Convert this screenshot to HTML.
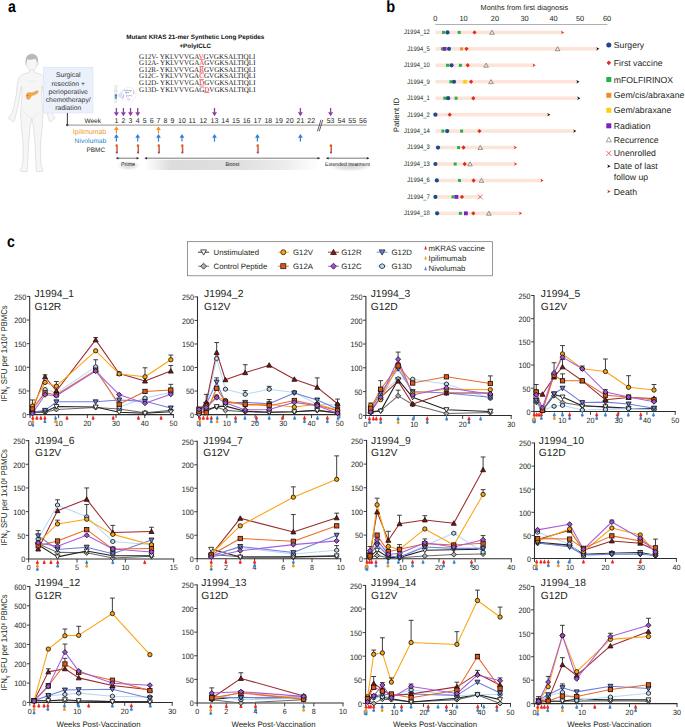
<!DOCTYPE html><html><head><meta charset="utf-8"><style>html,body{margin:0;padding:0;background:#fff;}svg{display:block;}</style></head><body>
<svg width="685" height="727" viewBox="0 0 685 727">
<style>text{font-family:"Liberation Sans",sans-serif;text-rendering:geometricPrecision}text:not([fill]){fill:#231f20}.sf{font-family:"Liberation Serif",serif}</style>
<rect width="685" height="727" fill="#fff"/>
<text transform="translate(8.1,11.5) scale(0.87,1)" font-size="16.2" font-weight="bold" fill="#000">a</text>
<path d="M29.6,69.5 L28.8,72.6 L22.5,74.4 L19,77.2 L17.4,83.5 L16.2,95.5 L13.6,107.5 L12,113.2 L9,116.8 L8.6,118.6 L10.6,119.4 L12.2,121.6 L14.2,121.2 L15.4,117.5 L16.2,113.5 L18.6,103.5 L20.3,92.5 L21.6,86 L22,95 L21.2,104.5 L20.6,112.5 L21.4,128 L23,141.5 L23,158.5 L22.6,165.5 L20.4,169.8 L21,171.4 L27,171.6 L27.6,166 L28.4,146 L30.2,126 L31.8,118.5 L33.4,126 L35.2,146 L36,166 L36.6,171.6 L42.6,171.4 L43.2,169.8 L41,165.5 L40.6,158.5 L40.6,141.5 L42.2,128 L43,112.5 L42.4,104.5 L41.6,95 L42,86 L43.3,92.5 L45,103.5 L47.4,113.5 L48.2,117.5 L49.4,121.2 L51.4,121.6 L53,119.4 L55,118.6 L54.6,116.8 L51.6,113.2 L50,107.5 L47.4,95.5 L46.2,83.5 L44.6,77.2 L41.1,74.4 L34.8,72.6 L34,69.5Z" fill="#f6f6f6" stroke="#cbcbcb" stroke-width="0.5" stroke-linejoin="round"/>
<ellipse cx="31.8" cy="62.6" rx="5.7" ry="7.6" fill="#f6f6f6" stroke="#cdcdcd" stroke-width="0.5"/>
<path d="M26.0,63.5 C25.2,56.5 28.0,54.2 31.8,54.2 C35.8,54.2 38.6,56.6 37.6,63.5 C37.0,60.0 36.2,58.8 34.5,58.4 C32.5,59.6 29.5,59.8 27.4,59.0 C26.6,60.2 26.2,61.5 26.0,63.5Z" fill="#b9b9b9" stroke="#a9a9a9" stroke-width="0.4"/>
<ellipse cx="26.1" cy="63.8" rx="0.8" ry="1.5" fill="#ececec" stroke="#cdcdcd" stroke-width="0.3"/>
<ellipse cx="37.5" cy="63.8" rx="0.8" ry="1.5" fill="#ececec" stroke="#cdcdcd" stroke-width="0.3"/>
<path d="M27,80.5 Q29,82 31.8,81.8 M36.6,80.5 Q34.6,82 31.8,81.8 M22.5,110 Q27,116 31.8,118.5 M41.1,110 Q36.6,116 31.8,118.5" fill="none" stroke="#dadada" stroke-width="0.4"/>
<path d="M26.2,96.5 C25.6,93.4 27.6,91.8 30.0,92.6 C32.4,93.2 34.6,91.6 36.6,90.8 C38.6,90.0 39.0,92.0 37.6,93.2 C35.6,94.8 33.0,95.4 31.4,96.0 C30.6,97.6 29.8,99.8 28.0,99.6 C26.8,99.4 26.4,98.0 26.2,96.5Z" fill="#f2a84e" stroke="#e6963c" stroke-width="0.3"/>
<circle cx="27.8" cy="95.6" r="0.7" fill="#c0392b"/>
<rect x="43.4" y="67.2" width="49.6" height="45.8" fill="#eaf1fb" stroke="#d3def0" stroke-width="0.5"/>
<text x="68.2" y="77.4" font-size="6.8" text-anchor="middle" fill="#333">Surgical</text>
<text x="68.2" y="85.5" font-size="6.8" text-anchor="middle" fill="#333">resection +</text>
<text x="68.2" y="93.6" font-size="6.8" text-anchor="middle" fill="#333">perioperative</text>
<text x="68.2" y="101.7" font-size="6.8" text-anchor="middle" fill="#333">chemotherapy/</text>
<text x="68.2" y="109.8" font-size="6.8" text-anchor="middle" fill="#333">radiation</text>
<path d="M67.4,113V124.9" stroke="#231f20" stroke-width="0.9"/>
<circle cx="67.4" cy="125" r="1.25" fill="#231f20"/>
<path d="M67.4,125.1H366.6" stroke="#a8a8a8" stroke-width="1.4"/>
<path d="M317.4,131.5L321.0,119.8M319.3,131.2L322.8,119.9" stroke="#2e2e2e" stroke-width="0.75"/>
<text x="100.9" y="123" font-size="6.5" text-anchor="end">Week</text>
<text x="106.2" y="134.4" font-size="6.9" text-anchor="end" fill="#f0932b">Ipilimumab</text>
<text x="106.2" y="143.1" font-size="6.7" text-anchor="end" fill="#2f7fd0">Nivolumab</text>
<text x="105" y="151.8" font-size="6.4" text-anchor="end">PBMC</text>
<text x="116.4" y="123" font-size="7" text-anchor="middle">1</text>
<text x="123.4" y="123" font-size="7" text-anchor="middle">2</text>
<text x="130.5" y="123" font-size="7" text-anchor="middle">3</text>
<text x="137.7" y="123" font-size="7" text-anchor="middle">4</text>
<text x="144.6" y="123" font-size="7" text-anchor="middle">5</text>
<text x="151.6" y="123" font-size="7" text-anchor="middle">6</text>
<text x="158.5" y="123" font-size="7" text-anchor="middle">7</text>
<text x="165.5" y="123" font-size="7" text-anchor="middle">8</text>
<text x="172.4" y="123" font-size="7" text-anchor="middle">9</text>
<text x="182" y="123" font-size="7" text-anchor="middle">10</text>
<text x="192.2" y="123" font-size="7" text-anchor="middle">11</text>
<text x="203.3" y="123" font-size="7" text-anchor="middle">12</text>
<text x="214.5" y="123" font-size="7" text-anchor="middle">13</text>
<text x="225.2" y="123" font-size="7" text-anchor="middle">14</text>
<text x="236" y="123" font-size="7" text-anchor="middle">15</text>
<text x="246.6" y="123" font-size="7" text-anchor="middle">16</text>
<text x="257.4" y="123" font-size="7" text-anchor="middle">17</text>
<text x="268.3" y="123" font-size="7" text-anchor="middle">18</text>
<text x="278.9" y="123" font-size="7" text-anchor="middle">19</text>
<text x="289.7" y="123" font-size="7" text-anchor="middle">20</text>
<text x="300.4" y="123" font-size="7" text-anchor="middle">21</text>
<text x="311.2" y="123" font-size="7" text-anchor="middle">22</text>
<text x="330.6" y="123" font-size="7" text-anchor="middle">53</text>
<text x="341.5" y="123" font-size="7" text-anchor="middle">54</text>
<text x="352.2" y="123" font-size="7" text-anchor="middle">55</text>
<text x="363" y="123" font-size="7" text-anchor="middle">56</text>
<path d="M116.4,107.9V112.8" stroke="#8e3c9f" stroke-width="1.3"/>
<path d="M113.9,112.3L118.9,112.3L116.4,116.3Z" fill="#8e3c9f"/>
<path d="M123.4,107.9V112.8" stroke="#8e3c9f" stroke-width="1.3"/>
<path d="M120.9,112.3L125.9,112.3L123.4,116.3Z" fill="#8e3c9f"/>
<path d="M130.5,107.9V112.8" stroke="#8e3c9f" stroke-width="1.3"/>
<path d="M128,112.3L133,112.3L130.5,116.3Z" fill="#8e3c9f"/>
<path d="M137.7,107.9V112.8" stroke="#8e3c9f" stroke-width="1.3"/>
<path d="M135.2,112.3L140.2,112.3L137.7,116.3Z" fill="#8e3c9f"/>
<path d="M214.5,107.9V112.8" stroke="#8e3c9f" stroke-width="1.3"/>
<path d="M212,112.3L217,112.3L214.5,116.3Z" fill="#8e3c9f"/>
<path d="M300.4,107.9V112.8" stroke="#8e3c9f" stroke-width="1.3"/>
<path d="M297.9,112.3L302.9,112.3L300.4,116.3Z" fill="#8e3c9f"/>
<path d="M330.6,107.9V112.8" stroke="#8e3c9f" stroke-width="1.3"/>
<path d="M328.1,112.3L333.1,112.3L330.6,116.3Z" fill="#8e3c9f"/>
<path d="M116.4,133.4V129.4" stroke="#f0932b" stroke-width="1.2"/>
<path d="M114,129.9L118.8,129.9L116.4,126.3Z" fill="#f0932b"/>
<path d="M158.5,133.4V129.4" stroke="#f0932b" stroke-width="1.2"/>
<path d="M156.1,129.9L160.9,129.9L158.5,126.3Z" fill="#f0932b"/>
<path d="M116.4,141.6V137.2" stroke="#2f7fd0" stroke-width="1.2"/>
<path d="M114,137.7L118.8,137.7L116.4,133.9Z" fill="#2f7fd0"/>
<path d="M137.7,141.6V137.2" stroke="#2f7fd0" stroke-width="1.2"/>
<path d="M135.3,137.7L140.1,137.7L137.7,133.9Z" fill="#2f7fd0"/>
<path d="M158.5,141.6V137.2" stroke="#2f7fd0" stroke-width="1.2"/>
<path d="M156.1,137.7L160.9,137.7L158.5,133.9Z" fill="#2f7fd0"/>
<path d="M182,141.6V137.2" stroke="#2f7fd0" stroke-width="1.2"/>
<path d="M179.6,137.7L184.4,137.7L182,133.9Z" fill="#2f7fd0"/>
<path d="M214.5,141.6V137.2" stroke="#2f7fd0" stroke-width="1.2"/>
<path d="M212.1,137.7L216.9,137.7L214.5,133.9Z" fill="#2f7fd0"/>
<path d="M257.4,141.6V137.2" stroke="#2f7fd0" stroke-width="1.2"/>
<path d="M255,137.7L259.8,137.7L257.4,133.9Z" fill="#2f7fd0"/>
<path d="M300.4,141.6V137.2" stroke="#2f7fd0" stroke-width="1.2"/>
<path d="M298,137.7L302.8,137.7L300.4,133.9Z" fill="#2f7fd0"/>
<rect x="115.7" y="147" width="2.0" height="6.3" rx="0.9" fill="#ecd3d3"/>
<rect x="116.5" y="147" width="1.2" height="6.3" rx="0.5" fill="#b95258"/>
<rect x="115.7" y="151.6" width="2.0" height="1.8" rx="0.9" fill="#b5484f"/>
<rect x="115.55" y="144.3" width="2.3" height="2.9" rx="1.0" fill="#e2601c"/>
<rect x="137" y="147" width="2.0" height="6.3" rx="0.9" fill="#ecd3d3"/>
<rect x="137.8" y="147" width="1.2" height="6.3" rx="0.5" fill="#b95258"/>
<rect x="137" y="151.6" width="2.0" height="1.8" rx="0.9" fill="#b5484f"/>
<rect x="136.85" y="144.3" width="2.3" height="2.9" rx="1.0" fill="#e2601c"/>
<rect x="157.8" y="147" width="2.0" height="6.3" rx="0.9" fill="#ecd3d3"/>
<rect x="158.6" y="147" width="1.2" height="6.3" rx="0.5" fill="#b95258"/>
<rect x="157.8" y="151.6" width="2.0" height="1.8" rx="0.9" fill="#b5484f"/>
<rect x="157.65" y="144.3" width="2.3" height="2.9" rx="1.0" fill="#e2601c"/>
<rect x="181.3" y="147" width="2.0" height="6.3" rx="0.9" fill="#ecd3d3"/>
<rect x="182.1" y="147" width="1.2" height="6.3" rx="0.5" fill="#b95258"/>
<rect x="181.3" y="151.6" width="2.0" height="1.8" rx="0.9" fill="#b5484f"/>
<rect x="181.15" y="144.3" width="2.3" height="2.9" rx="1.0" fill="#e2601c"/>
<rect x="256.7" y="147" width="2.0" height="6.3" rx="0.9" fill="#ecd3d3"/>
<rect x="257.5" y="147" width="1.2" height="6.3" rx="0.5" fill="#b95258"/>
<rect x="256.7" y="151.6" width="2.0" height="1.8" rx="0.9" fill="#b5484f"/>
<rect x="256.55" y="144.3" width="2.3" height="2.9" rx="1.0" fill="#e2601c"/>
<rect x="329.9" y="147" width="2.0" height="6.3" rx="0.9" fill="#ecd3d3"/>
<rect x="330.7" y="147" width="1.2" height="6.3" rx="0.5" fill="#b95258"/>
<rect x="329.9" y="151.6" width="2.0" height="1.8" rx="0.9" fill="#b5484f"/>
<rect x="329.75" y="144.3" width="2.3" height="2.9" rx="1.0" fill="#e2601c"/>
<defs><linearGradient id="gb" x1="0" x2="1" y1="0" y2="0"><stop offset="0" stop-color="#fff"/><stop offset="0.15" stop-color="#dcdcdc"/><stop offset="0.55" stop-color="#e0e0e0"/><stop offset="0.8" stop-color="#ececec"/><stop offset="1" stop-color="#fff"/></linearGradient><radialGradient id="gp" cx="0.5" cy="0.5" r="0.5"><stop offset="0" stop-color="#d8d8d8"/><stop offset="0.6" stop-color="#ebebeb"/><stop offset="1" stop-color="#fff" stop-opacity="0"/></radialGradient></defs>
<ellipse cx="128.5" cy="165.5" rx="13" ry="5.5" fill="url(#gp)"/>
<rect x="145" y="159.8" width="174" height="10.2" fill="url(#gb)"/>
<ellipse cx="350" cy="166.5" rx="24" ry="5.5" fill="url(#gp)"/>
<path d="M116.2,158.2H138.8" stroke="#231f20" stroke-width="0.6"/>
<path d="M116.2,158.2L118.4,157L118.4,159.4Z" fill="#231f20"/>
<path d="M138.8,158.2L136.6,157L136.6,159.4Z" fill="#231f20"/>
<path d="M144.8,158.2H319.8" stroke="#231f20" stroke-width="0.6"/>
<path d="M144.8,158.2L147,157L147,159.4Z" fill="#231f20"/>
<path d="M319.8,158.2L317.6,157L317.6,159.4Z" fill="#231f20"/>
<path d="M326.3,158.2H369" stroke="#231f20" stroke-width="0.6"/>
<path d="M326.3,158.2L328.5,157L328.5,159.4Z" fill="#231f20"/>
<path d="M369,158.2L366.8,157L366.8,159.4Z" fill="#231f20"/>
<text x="128" y="165.8" font-size="5.4" text-anchor="middle" fill="#222">Prime</text>
<text x="232.5" y="165.8" font-size="5.4" text-anchor="middle" fill="#222">Boost</text>
<text x="347.5" y="165.8" font-size="5.2" text-anchor="middle" fill="#222" textLength="45" lengthAdjust="spacingAndGlyphs">Extended treatment</text>
<text x="195.3" y="39.3" font-size="6.32" text-anchor="middle" fill="#111" font-weight="bold">Mutant KRAS 21-mer Synthetic Long Peptides</text>
<text x="195.3" y="48.1" font-size="6.32" text-anchor="middle" fill="#111" font-weight="bold">+PolyICLC</text>
<text x="139.1" y="58.8" font-size="7.2" class="sf" fill="#1a1a1a" text-rendering="geometricPrecision" textLength="116.4" lengthAdjust="spacingAndGlyphs">G12V- YKLVVVGA<tspan fill="#e8201f">V</tspan>GVGKSALTIQLI</text>
<rect x="199.38" y="59.5" width="5.14" height="0.55" fill="#e8201f"/>
<text x="139.1" y="65.36" font-size="7.2" class="sf" fill="#1a1a1a" text-rendering="geometricPrecision" textLength="116.4" lengthAdjust="spacingAndGlyphs">G12A- YKLVVVGA<tspan fill="#e8201f">A</tspan>GVGKSALTIQLI</text>
<rect x="199.22" y="66.06" width="5.07" height="0.55" fill="#e8201f"/>
<text x="139.1" y="71.92" font-size="7.2" class="sf" fill="#1a1a1a" text-rendering="geometricPrecision" textLength="116.4" lengthAdjust="spacingAndGlyphs">G12R- YKLVVVGA<tspan fill="#e8201f">R</tspan>GVGKSALTIQLI</text>
<rect x="199.23" y="72.62" width="4.71" height="0.55" fill="#e8201f"/>
<text x="139.1" y="78.48" font-size="7.2" class="sf" fill="#1a1a1a" text-rendering="geometricPrecision" textLength="116.4" lengthAdjust="spacingAndGlyphs">G12C- YKLVVVGA<tspan fill="#e8201f">C</tspan>GVGKSALTIQLI</text>
<rect x="199.23" y="79.18" width="4.71" height="0.55" fill="#e8201f"/>
<text x="139.1" y="85.04" font-size="7.2" class="sf" fill="#1a1a1a" text-rendering="geometricPrecision" textLength="116.4" lengthAdjust="spacingAndGlyphs">G12D- YKLVVVGA<tspan fill="#e8201f">D</tspan>GVGKSALTIQLI</text>
<rect x="199.22" y="85.74" width="5.07" height="0.55" fill="#e8201f"/>
<text x="139.1" y="91.6" font-size="7.2" class="sf" fill="#1a1a1a" text-rendering="geometricPrecision" textLength="116.4" lengthAdjust="spacingAndGlyphs">G13D- YKLVVVGAG<tspan fill="#e8201f">D</tspan>VGKSALTIQLI</text>
<rect x="204.29" y="92.3" width="5.07" height="0.55" fill="#e8201f"/>
<path d="M117.2,95.5L123.5,89.5L123.5,100.5Z" fill="#dfe6f3"/>
<rect x="114.8" y="85.6" width="2.2" height="17" fill="#ededed" stroke="#d6d6d6" stroke-width="0.3"/>
<rect x="114.8" y="94.8" width="2.2" height="4.0" fill="#5b9bd0"/><rect x="114.8" y="94.6" width="2.2" height="0.7" fill="#2d4e74"/>
<path d="M114.2,90.6H117.6" stroke="#cfcfcf" stroke-width="0.5"/>
<circle cx="129.0" cy="94.5" r="7.0" fill="#fff" stroke="#c9d2e3" stroke-width="0.6" stroke-dasharray="0.8,0.6"/>
<path d="M123.6,90.5q0.8,-0.8 1.6,0t1.6,0t1.6,0" fill="none" stroke="#3d78c4" stroke-width="0.6"/>
<path d="M128.7,91.0q0.7,-1 1.4,0t1.4,-1" fill="none" stroke="#c43c4c" stroke-width="0.6"/>
<path d="M125.2,92.6q0.9,0.8 1.8,0t1.8,0" fill="none" stroke="#3359a8" stroke-width="0.6"/>
<path d="M133.6,90.5q-0.6,0.9 0,1.8t0,1.8" fill="none" stroke="#a96fc4" stroke-width="0.6"/>
<path d="M123.4,94.3q0.6,0.9 0,1.8t0,1.8" fill="none" stroke="#e5569a" stroke-width="0.6"/>
<path d="M126.6,95.0v2.2M127.6,95.6q0.8,0.8 1.6,0t1.6,0t1.6,0" fill="none" stroke="#4b8fb4" stroke-width="0.55"/>
<path d="M127.0,99.0q0.8,-0.8 1.6,0t1.6,0" fill="none" stroke="#b86ab8" stroke-width="0.6"/>
<text transform="translate(386.3,11.6) scale(0.9,1)" font-size="16.2" font-weight="bold" fill="#000">b</text>
<text x="480.6" y="9.8" font-size="7.34">Months from first diagnosis</text>
<text x="435.3" y="20.7" font-size="7.4" text-anchor="middle">0</text>
<text x="463.5" y="20.7" font-size="7.4" text-anchor="middle">10</text>
<text x="494.9" y="20.7" font-size="7.4" text-anchor="middle">20</text>
<text x="524.6" y="20.7" font-size="7.4" text-anchor="middle">30</text>
<text x="553.6" y="20.7" font-size="7.4" text-anchor="middle">40</text>
<text x="580.1" y="20.7" font-size="7.4" text-anchor="middle">50</text>
<text x="607.1" y="20.7" font-size="7.4" text-anchor="middle">60</text>
<path d="M435.4,24.5H607.4" stroke="#a0a0a0" stroke-width="0.85"/>
<text transform="translate(398.9,115) rotate(-90)" font-size="7.9" text-anchor="middle">Patient ID</text>
<rect x="435.4" y="30.6" width="127.1" height="3.6" fill="#fde4d9"/>
<text x="429.8" y="34.3" font-size="6.5" text-anchor="end" textLength="25.92" lengthAdjust="spacingAndGlyphs">J1994_12</text>
<rect x="442" y="30.9" width="3" height="3" fill="#22b14c"/>
<circle cx="447.5" cy="32.4" r="2.1" fill="#1f4a8a"/>
<rect x="457.7" y="30.9" width="3" height="3" fill="#22b14c"/>
<path d="M474.5,30.2L476.6,32.4L474.5,34.6L472.4,32.4Z" fill="#e32a1f"/>
<path d="M492,30.2L494.3,34.3L489.7,34.3Z" fill="none" stroke="#555" stroke-width="0.6"/>
<path d="M564.2,32.4L561,30.7L561.9,32.4L561,34.1Z" fill="#e32a1f"/>
<rect x="435.4" y="47.05" width="162.3" height="3.6" fill="#fde4d9"/>
<text x="429.8" y="50.75" font-size="6.5" text-anchor="end" textLength="22.64" lengthAdjust="spacingAndGlyphs">J1994_5</text>
<rect x="440.9" y="47.35" width="3" height="3" fill="#22b14c"/>
<rect x="442.7" y="46.95" width="3.8" height="3.8" fill="#7a1fc2"/>
<circle cx="449" cy="48.85" r="2.1" fill="#1f4a8a"/>
<rect x="460.1" y="47.35" width="3" height="3" fill="#f08a2c"/>
<path d="M466.5,46.65L468.6,48.85L466.5,51.05L464.4,48.85Z" fill="#e32a1f"/>
<path d="M557.6,46.65L559.9,50.75L555.3,50.75Z" fill="none" stroke="#555" stroke-width="0.6"/>
<path d="M599.4,48.85L596.2,47.15L597.1,48.85L596.2,50.55Z" fill="#111"/>
<rect x="435.4" y="63.5" width="98.6" height="3.6" fill="#fde4d9"/>
<text x="429.8" y="67.2" font-size="6.5" text-anchor="end" textLength="25.92" lengthAdjust="spacingAndGlyphs">J1994_10</text>
<rect x="446" y="63.8" width="3" height="3" fill="#22b14c"/>
<circle cx="451.5" cy="65.3" r="2.1" fill="#1f4a8a"/>
<rect x="458.9" y="63.8" width="3" height="3" fill="#22b14c"/>
<path d="M467.7,63.1L469.8,65.3L467.7,67.5L465.6,65.3Z" fill="#e32a1f"/>
<path d="M486.1,63.1L488.4,67.2L483.8,67.2Z" fill="none" stroke="#555" stroke-width="0.6"/>
<path d="M535.7,65.3L532.5,63.6L533.4,65.3L532.5,67Z" fill="#e32a1f"/>
<rect x="435.4" y="79.95" width="142.4" height="3.6" fill="#fde4d9"/>
<text x="429.8" y="83.65" font-size="6.5" text-anchor="end" textLength="22.64" lengthAdjust="spacingAndGlyphs">J1994_9</text>
<rect x="449.4" y="80.25" width="3" height="3" fill="#22b14c"/>
<circle cx="454" cy="81.75" r="2.1" fill="#1f4a8a"/>
<rect x="463.1" y="79.85" width="3.8" height="3.8" fill="#ffcc1a"/>
<path d="M471.1,79.55L473.2,81.75L471.1,83.95L469,81.75Z" fill="#e32a1f"/>
<path d="M491,79.55L493.3,83.65L488.7,83.65Z" fill="none" stroke="#555" stroke-width="0.6"/>
<path d="M579.5,81.75L576.3,80.05L577.2,81.75L576.3,83.45Z" fill="#111"/>
<rect x="435.4" y="96.4" width="143.3" height="3.6" fill="#fde4d9"/>
<text x="429.8" y="100.1" font-size="6.5" text-anchor="end" textLength="22.64" lengthAdjust="spacingAndGlyphs">J1994_1</text>
<rect x="443.3" y="96.7" width="3" height="3" fill="#22b14c"/>
<circle cx="448.1" cy="98.2" r="2.1" fill="#1f4a8a"/>
<rect x="454.6" y="96.7" width="3" height="3" fill="#22b14c"/>
<path d="M473.3,96L475.4,98.2L473.3,100.4L471.2,98.2Z" fill="#e32a1f"/>
<path d="M580.4,98.2L577.2,96.5L578.1,98.2L577.2,99.9Z" fill="#111"/>
<rect x="435.4" y="112.85" width="113.3" height="3.6" fill="#fde4d9"/>
<text x="429.8" y="116.55" font-size="6.5" text-anchor="end" textLength="22.64" lengthAdjust="spacingAndGlyphs">J1994_2</text>
<circle cx="435.4" cy="114.65" r="2.1" fill="#1f4a8a"/>
<path d="M449.7,112.45L451.8,114.65L449.7,116.85L447.6,114.65Z" fill="#e32a1f"/>
<path d="M550.4,114.65L547.2,112.95L548.1,114.65L547.2,116.35Z" fill="#111"/>
<rect x="435.4" y="129.3" width="139.3" height="3.6" fill="#fde4d9"/>
<text x="429.8" y="133" font-size="6.5" text-anchor="end" textLength="25.92" lengthAdjust="spacingAndGlyphs">J1994_14</text>
<rect x="441.4" y="129.6" width="3" height="3" fill="#22b14c"/>
<circle cx="447.2" cy="131.1" r="2.1" fill="#1f4a8a"/>
<rect x="460.1" y="129.6" width="3" height="3" fill="#22b14c"/>
<path d="M479.4,128.9L481.5,131.1L479.4,133.3L477.3,131.1Z" fill="#e32a1f"/>
<path d="M576.4,131.1L573.2,129.4L574.1,131.1L573.2,132.8Z" fill="#111"/>
<rect x="435.4" y="145.75" width="79.9" height="3.6" fill="#fde4d9"/>
<text x="429.8" y="149.45" font-size="6.5" text-anchor="end" textLength="22.64" lengthAdjust="spacingAndGlyphs">J1994_3</text>
<circle cx="438" cy="147.55" r="2.1" fill="#1f4a8a"/>
<rect x="457.1" y="146.05" width="3" height="3" fill="#22b14c"/>
<path d="M463.5,145.35L465.6,147.55L463.5,149.75L461.4,147.55Z" fill="#e32a1f"/>
<path d="M480.3,145.35L482.6,149.45L478,149.45Z" fill="none" stroke="#555" stroke-width="0.6"/>
<path d="M517,147.55L513.8,145.85L514.7,147.55L513.8,149.25Z" fill="#e32a1f"/>
<rect x="435.4" y="162.2" width="80.2" height="3.6" fill="#fde4d9"/>
<text x="429.8" y="165.9" font-size="6.5" text-anchor="end" textLength="25.92" lengthAdjust="spacingAndGlyphs">J1994_13</text>
<circle cx="435.4" cy="164" r="2.1" fill="#1f4a8a"/>
<rect x="453.7" y="162.5" width="3" height="3" fill="#22b14c"/>
<path d="M464.7,161.8L466.8,164L464.7,166.2L462.6,164Z" fill="#e32a1f"/>
<path d="M470,161.8L472.3,165.9L467.7,165.9Z" fill="none" stroke="#555" stroke-width="0.6"/>
<path d="M517.3,164L514.1,162.3L515,164L514.1,165.7Z" fill="#e32a1f"/>
<rect x="435.4" y="178.65" width="106.5" height="3.6" fill="#fde4d9"/>
<text x="429.8" y="182.35" font-size="6.5" text-anchor="end" textLength="22.64" lengthAdjust="spacingAndGlyphs">J1994_6</text>
<circle cx="436.8" cy="180.45" r="2.1" fill="#1f4a8a"/>
<rect x="458" y="178.95" width="3" height="3" fill="#22b14c"/>
<path d="M473.6,178.25L475.7,180.45L473.6,182.65L471.5,180.45Z" fill="#e32a1f"/>
<path d="M481.5,178.25L483.8,182.35L479.2,182.35Z" fill="none" stroke="#555" stroke-width="0.6"/>
<path d="M543.6,180.45L540.4,178.75L541.3,180.45L540.4,182.15Z" fill="#e32a1f"/>
<rect x="435.4" y="195.1" width="44.9" height="3.6" fill="#fde4d9"/>
<text x="429.8" y="198.8" font-size="6.5" text-anchor="end" textLength="22.64" lengthAdjust="spacingAndGlyphs">J1994_7</text>
<circle cx="435.4" cy="196.9" r="2.1" fill="#1f4a8a"/>
<rect x="451.5" y="195.4" width="3" height="3" fill="#22b14c"/>
<rect x="454.5" y="195" width="3.8" height="3.8" fill="#7a1fc2"/>
<path d="M462,194.7L464.1,196.9L462,199.1L459.9,196.9Z" fill="#e32a1f"/>
<path d="M477.9,194.5L482.7,199.3M482.7,194.5L477.9,199.3" stroke="#e32a1f" stroke-width="0.7"/>
<rect x="435.4" y="211.55" width="85.1" height="3.6" fill="#fde4d9"/>
<text x="429.8" y="215.25" font-size="6.5" text-anchor="end" textLength="25.92" lengthAdjust="spacingAndGlyphs">J1994_18</text>
<circle cx="437.1" cy="213.35" r="2.1" fill="#1f4a8a"/>
<rect x="458.9" y="211.85" width="3" height="3" fill="#22b14c"/>
<rect x="464" y="211.45" width="3.8" height="3.8" fill="#7a1fc2"/>
<path d="M473.3,211.15L475.4,213.35L473.3,215.55L471.2,213.35Z" fill="#e32a1f"/>
<path d="M488.9,211.15L491.2,215.25L486.6,215.25Z" fill="none" stroke="#555" stroke-width="0.6"/>
<path d="M522.2,213.35L519,211.65L519.9,213.35L519,215.05Z" fill="#e32a1f"/>
<circle cx="608.8" cy="45.1" r="2.5" fill="#1f4a8a"/>
<text x="613.8" y="48.1" font-size="8.7">Surgery</text>
<path d="M608.8,60.4L611.1,62.8L608.8,65.2L606.5,62.8Z" fill="#e32a1f"/>
<text x="613.8" y="65.8" font-size="8.7">First vaccine</text>
<rect x="606.3" y="77" width="5" height="5" fill="#22b14c"/>
<text x="613.8" y="82.5" font-size="8.7">mFOLFIRINOX</text>
<rect x="606.3" y="92.8" width="5" height="5" fill="#f08a2c"/>
<text x="613.8" y="98.3" font-size="8.7">Gem/cis/abraxane</text>
<rect x="606.3" y="107.8" width="5" height="5" fill="#ffcc1a"/>
<text x="613.8" y="113.3" font-size="8.7">Gem/abraxane</text>
<rect x="606.3" y="123.3" width="5" height="5" fill="#7a1fc2"/>
<text x="613.8" y="128.8" font-size="8.7">Radiation</text>
<path d="M608.8,137.2L611.3,141.8L606.3,141.8Z" fill="none" stroke="#666" stroke-width="0.6"/>
<text x="613.8" y="142.6" font-size="8.7">Recurrence</text>
<path d="M606.2,150.8L611.4,156M611.4,150.8L606.2,156" stroke="#e32a1f" stroke-width="0.7"/>
<text x="613.8" y="156.4" font-size="8.7">Unenrolled</text>
<path d="M610.6,166.3L607.2,164.6L608.1,166.3L607.2,168Z" fill="#111"/>
<text x="613.8" y="169.3" font-size="8.7">Date of last</text>
<text x="613.8" y="179.6" font-size="8.7">follow up</text>
<path d="M610.6,191.5L607.2,189.8L608.1,191.5L607.2,193.2Z" fill="#e32a1f"/>
<text x="613.8" y="194.5" font-size="8.7">Death</text>
<text transform="translate(7.0,247.4) scale(0.87,1)" font-size="16.2" font-weight="bold" fill="#000">c</text>
<rect x="187.4" y="241.7" width="305.2" height="34.1" fill="#fff" stroke="#6a6a6a" stroke-width="0.7"/>
<path d="M198.1,252.2H209.1" stroke="#231f20" stroke-width="0.9"/>
<path d="M203.6,255.07L206.47,249.9L200.72,249.9Z" fill="#ffffff" stroke="#231f20" stroke-width="0.8"/>
<text x="213.5" y="255" font-size="7.8">Unstimulated</text>
<path d="M198.1,266.2H209.1" stroke="#6a6a6a" stroke-width="0.9"/>
<path d="M203.6,263.25L206.55,266.2L203.6,269.15L200.65,266.2Z" fill="#b0b0b0" stroke="#231f20" stroke-width="0.8"/>
<text x="213.5" y="269" font-size="7.8">Control Peptide</text>
<path d="M277.8,252.2H288.8" stroke="#fca311" stroke-width="0.9"/>
<circle cx="283.3" cy="252.2" r="2.5" fill="#ffa40a" stroke="#231f20" stroke-width="0.8"/>
<text x="293" y="255" font-size="7.8">G12V</text>
<path d="M277.8,266.2H288.8" stroke="#ea6a2a" stroke-width="0.9"/>
<rect x="280.8" y="263.7" width="5" height="5" fill="#e8540f" stroke="#231f20" stroke-width="0.8"/>
<text x="293" y="269" font-size="7.8">G12A</text>
<path d="M328,252.2H339" stroke="#9a2a2a" stroke-width="0.9"/>
<path d="M333.5,249.32L336.38,254.5L330.62,254.5Z" fill="#8b1010" stroke="#231f20" stroke-width="0.8"/>
<text x="341.2" y="255" font-size="7.8">G12R</text>
<path d="M328,266.2H339" stroke="#a95ddc" stroke-width="0.9"/>
<path d="M333.5,263.25L336.45,266.2L333.5,269.15L330.55,266.2Z" fill="#a04fd8" stroke="#231f20" stroke-width="0.8"/>
<text x="341.2" y="269" font-size="7.8">G12C</text>
<path d="M376.6,252.2H387.6" stroke="#6f7fe0" stroke-width="0.9"/>
<path d="M382.1,255.07L384.98,249.9L379.23,249.9Z" fill="#6f7fe0" stroke="#231f20" stroke-width="0.8"/>
<text x="391.5" y="255" font-size="7.8">G12D</text>
<path d="M376.6,266.2H387.6" stroke="#b6dbf6" stroke-width="0.9"/>
<polygon points="384.48,267.45 382.1,268.7 379.72,267.45 379.72,264.95 382.1,263.7 384.48,264.95" fill="#b4daf6" stroke="#231f20" stroke-width="0.8"/>
<text x="391.5" y="269" font-size="7.8">G13D</text>
<path d="M425.6,245.4L426.9,249.4L424.3,249.4Z" fill="#e8201f"/>
<text x="428.6" y="250.6" font-size="7.8">mKRAS vaccine</text>
<path d="M425.6,255.4L426.9,259.4L424.3,259.4Z" fill="#f7941d"/>
<text x="428.6" y="260.6" font-size="7.8">Ipilimumab</text>
<path d="M425.6,266.2L426.9,270.2L424.3,270.2Z" fill="#3a87d0"/>
<text x="428.6" y="271.4" font-size="7.8">Nivolumab</text>
<text transform="translate(7.4,353.5) rotate(-90)" font-size="8.5" text-anchor="middle" textLength="96.5" lengthAdjust="spacingAndGlyphs">IFN<tspan font-size="6" dy="1.3">γ</tspan><tspan dy="-1.3"> SFU per 1x10</tspan><tspan font-size="5" dy="-2.6">6</tspan><tspan dy="2.6"> PBMCs</tspan></text>
<text transform="translate(7.4,497.3) rotate(-90)" font-size="8.5" text-anchor="middle" textLength="96.5" lengthAdjust="spacingAndGlyphs">IFN<tspan font-size="6" dy="1.3">γ</tspan><tspan dy="-1.3"> SFU per 1x10</tspan><tspan font-size="5" dy="-2.6">6</tspan><tspan dy="2.6"> PBMCs</tspan></text>
<text transform="translate(7.4,642.5) rotate(-90)" font-size="8.5" text-anchor="middle" textLength="96.5" lengthAdjust="spacingAndGlyphs">IFN<tspan font-size="6" dy="1.3">γ</tspan><tspan dy="-1.3"> SFU per 1x10</tspan><tspan font-size="5" dy="-2.6">6</tspan><tspan dy="2.6"> PBMCs</tspan></text>
<text x="98.5" y="726.7" font-size="7.83" text-anchor="middle">Weeks Post-Vaccination</text>
<text x="273.5" y="726.7" font-size="7.83" text-anchor="middle">Weeks Post-Vaccination</text>
<text x="435" y="726.7" font-size="7.83" text-anchor="middle">Weeks Post-Vaccination</text>
<text x="609.3" y="726.7" font-size="7.83" text-anchor="middle">Weeks Post-Vaccination</text>
<path d="M29.7,295.9V414.6H173.9" fill="none" stroke="#2c2c2c" stroke-width="1.05"/>
<line x1="26.8" y1="414.6" x2="29.7" y2="414.6" stroke="#2c2c2c" stroke-width="0.9"/>
<text x="26.2" y="417.9" font-size="7.8" text-anchor="end" textLength="4" lengthAdjust="spacingAndGlyphs">0</text>
<line x1="26.8" y1="390.96" x2="29.7" y2="390.96" stroke="#2c2c2c" stroke-width="0.9"/>
<text x="26.2" y="394.26" font-size="7.8" text-anchor="end" textLength="8.01" lengthAdjust="spacingAndGlyphs">50</text>
<line x1="26.8" y1="367.32" x2="29.7" y2="367.32" stroke="#2c2c2c" stroke-width="0.9"/>
<text x="26.2" y="370.62" font-size="7.8" text-anchor="end" textLength="12.01" lengthAdjust="spacingAndGlyphs">100</text>
<line x1="26.8" y1="343.68" x2="29.7" y2="343.68" stroke="#2c2c2c" stroke-width="0.9"/>
<text x="26.2" y="346.98" font-size="7.8" text-anchor="end" textLength="12.01" lengthAdjust="spacingAndGlyphs">150</text>
<line x1="26.8" y1="320.04" x2="29.7" y2="320.04" stroke="#2c2c2c" stroke-width="0.9"/>
<text x="26.2" y="323.34" font-size="7.8" text-anchor="end" textLength="12.01" lengthAdjust="spacingAndGlyphs">200</text>
<line x1="26.8" y1="296.4" x2="29.7" y2="296.4" stroke="#2c2c2c" stroke-width="0.9"/>
<text x="26.2" y="299.7" font-size="7.8" text-anchor="end" textLength="12.01" lengthAdjust="spacingAndGlyphs">250</text>
<line x1="30" y1="414.6" x2="30" y2="418.1" stroke="#2c2c2c" stroke-width="0.9"/>
<text x="30" y="425.8" font-size="7.6" text-anchor="middle" textLength="3.98" lengthAdjust="spacingAndGlyphs">0</text>
<line x1="58.68" y1="414.6" x2="58.68" y2="418.1" stroke="#2c2c2c" stroke-width="0.9"/>
<text x="58.68" y="425.8" font-size="7.6" text-anchor="middle" textLength="7.95" lengthAdjust="spacingAndGlyphs">10</text>
<line x1="87.36" y1="414.6" x2="87.36" y2="418.1" stroke="#2c2c2c" stroke-width="0.9"/>
<text x="87.36" y="425.8" font-size="7.6" text-anchor="middle" textLength="7.95" lengthAdjust="spacingAndGlyphs">20</text>
<line x1="116.04" y1="414.6" x2="116.04" y2="418.1" stroke="#2c2c2c" stroke-width="0.9"/>
<text x="116.04" y="425.8" font-size="7.6" text-anchor="middle" textLength="7.95" lengthAdjust="spacingAndGlyphs">30</text>
<line x1="144.72" y1="414.6" x2="144.72" y2="418.1" stroke="#2c2c2c" stroke-width="0.9"/>
<text x="144.72" y="425.8" font-size="7.6" text-anchor="middle" textLength="7.95" lengthAdjust="spacingAndGlyphs">40</text>
<line x1="173.4" y1="414.6" x2="173.4" y2="418.1" stroke="#2c2c2c" stroke-width="0.9"/>
<text x="173.4" y="425.8" font-size="7.6" text-anchor="middle" textLength="7.95" lengthAdjust="spacingAndGlyphs">50</text>
<text x="34.4" y="297.3" font-size="10.3">J1994_1</text>
<text x="34.4" y="310.3" font-size="10.3">G12R</text>
<path d="M32.87,422.1L34.47,425.7Q32.87,427.7 31.27,425.7Z" fill="#3a87d0"/>
<path d="M32.87,418.7L34.47,422.3Q32.87,424.3 31.27,422.3Z" fill="#f7941d"/>
<path d="M32.87,415.3L34.47,418.9Q32.87,420.9 31.27,418.9Z" fill="#ee2a24"/>
<path d="M36.88,415.3L38.48,418.9Q36.88,420.9 35.28,418.9Z" fill="#ee2a24"/>
<path d="M40.9,415.3L42.5,418.9Q40.9,420.9 39.3,418.9Z" fill="#ee2a24"/>
<path d="M44.91,418.7L46.51,422.3Q44.91,424.3 43.31,422.3Z" fill="#3a87d0"/>
<path d="M44.91,415.3L46.51,418.9Q44.91,420.9 43.31,418.9Z" fill="#ee2a24"/>
<path d="M55.53,418.7L57.13,422.3Q55.53,424.3 53.93,422.3Z" fill="#f7941d"/>
<path d="M55.53,415.3L57.13,418.9Q55.53,420.9 53.93,418.9Z" fill="#3a87d0"/>
<path d="M67,415.3L68.6,418.9Q67,420.9 65.4,418.9Z" fill="#ee2a24"/>
<path d="M93.1,415.3L94.7,418.9Q93.1,420.9 91.5,418.9Z" fill="#ee2a24"/>
<path d="M113.17,415.3L114.77,418.9Q113.17,420.9 111.57,418.9Z" fill="#ee2a24"/>
<path d="M138.41,415.3L140.01,418.9Q138.41,420.9 136.81,418.9Z" fill="#ee2a24"/>
<path d="M161.07,415.3L162.67,418.9Q161.07,420.9 159.47,418.9Z" fill="#ee2a24"/>
<path d="M32.44,412.71L45.06,412.24L56.39,409.4L95.68,407.51L119.19,408.93L145.01,412.71L170.82,410.34" fill="none" stroke="#6a6a6a" stroke-width="1.05" stroke-linejoin="round"/>
<path d="M32.44,411.76L45.06,411.76L56.39,406.56L95.68,407.04L119.19,412.24L145.01,413.18L170.82,411.76" fill="none" stroke="#231f20" stroke-width="1.05" stroke-linejoin="round"/>
<path d="M32.44,412.24L45.06,389.54L56.39,392.85L95.68,366.85L119.19,407.04L145.01,398.05L170.82,392.38" fill="none" stroke="#b6dbf6" stroke-width="1.05" stroke-linejoin="round"/>
<path d="M32.44,412.24L45.06,410.34L56.39,401.83L95.68,401.83L119.19,399.94L145.01,401.36L170.82,407.98" fill="none" stroke="#6f7fe0" stroke-width="1.05" stroke-linejoin="round"/>
<path d="M32.44,409.87L45.06,376.78L56.39,390.96L95.68,339.9L119.19,373.47L145.01,381.03L170.82,371.1" fill="none" stroke="#9a2a2a" stroke-width="1.05" stroke-linejoin="round"/>
<path d="M32.44,406.09L45.06,382.45L56.39,386.23L95.68,350.77L119.19,373.94L145.01,376.78L170.82,359.76" fill="none" stroke="#fca311" stroke-width="1.05" stroke-linejoin="round"/>
<path d="M32.44,408.93L45.06,392.85L56.39,394.74L95.68,370.16L119.19,404.2L145.01,391.43L170.82,390.01" fill="none" stroke="#ea6a2a" stroke-width="1.05" stroke-linejoin="round"/>
<path d="M32.44,413.42L45.06,394.74L56.39,395.69L95.68,371.1L119.19,394.74L145.01,403.25L170.82,394.27" fill="none" stroke="#a95ddc" stroke-width="1.05" stroke-linejoin="round"/>
<path d="M95.68,366.85V359.76M93.28,359.76H98.08" stroke="#2a2a2a" stroke-width="0.9" fill="none"/>
<path d="M45.06,376.78V374.88M42.66,374.88H47.46" stroke="#2a2a2a" stroke-width="0.9" fill="none"/>
<path d="M95.68,339.9V337.53M93.28,337.53H98.08" stroke="#2a2a2a" stroke-width="0.9" fill="none"/>
<path d="M170.82,371.1V365.43M168.42,365.43H173.22" stroke="#2a2a2a" stroke-width="0.9" fill="none"/>
<path d="M32.44,406.09V399.94M30.04,399.94H34.84" stroke="#2a2a2a" stroke-width="0.9" fill="none"/>
<path d="M56.39,386.23V381.5M53.99,381.5H58.79" stroke="#2a2a2a" stroke-width="0.9" fill="none"/>
<path d="M119.19,373.94V372.05M116.79,372.05H121.59" stroke="#2a2a2a" stroke-width="0.9" fill="none"/>
<path d="M145.01,376.78V367.79M142.61,367.79H147.41" stroke="#2a2a2a" stroke-width="0.9" fill="none"/>
<path d="M170.82,359.76V355.03M168.42,355.03H173.22" stroke="#2a2a2a" stroke-width="0.9" fill="none"/>
<path d="M170.82,390.01V384.34M168.42,384.34H173.22" stroke="#2a2a2a" stroke-width="0.9" fill="none"/>
<path d="M32.44,410.17L34.97,412.71L32.44,415.25L29.9,412.71Z" fill="#b0b0b0" stroke="#151515" stroke-width="0.85"/>
<path d="M45.06,409.7L47.59,412.24L45.06,414.77L42.52,412.24Z" fill="#b0b0b0" stroke="#151515" stroke-width="0.85"/>
<path d="M56.39,406.86L58.92,409.4L56.39,411.94L53.85,409.4Z" fill="#b0b0b0" stroke="#151515" stroke-width="0.85"/>
<path d="M95.68,404.97L98.21,407.51L95.68,410.05L93.14,407.51Z" fill="#b0b0b0" stroke="#151515" stroke-width="0.85"/>
<path d="M119.19,406.39L121.73,408.93L119.19,411.46L116.66,408.93Z" fill="#b0b0b0" stroke="#151515" stroke-width="0.85"/>
<path d="M145.01,410.17L147.54,412.71L145.01,415.25L142.47,412.71Z" fill="#b0b0b0" stroke="#151515" stroke-width="0.85"/>
<path d="M170.82,407.81L173.36,410.34L170.82,412.88L168.28,410.34Z" fill="#b0b0b0" stroke="#151515" stroke-width="0.85"/>
<path d="M32.44,414.24L34.91,409.79L29.97,409.79Z" fill="#ffffff" stroke="#151515" stroke-width="0.85"/>
<path d="M45.06,414.24L47.53,409.79L42.58,409.79Z" fill="#ffffff" stroke="#151515" stroke-width="0.85"/>
<path d="M56.39,409.03L58.86,404.58L53.91,404.58Z" fill="#ffffff" stroke="#151515" stroke-width="0.85"/>
<path d="M95.68,409.51L98.15,405.06L93.2,405.06Z" fill="#ffffff" stroke="#151515" stroke-width="0.85"/>
<path d="M119.19,414.71L121.67,410.26L116.72,410.26Z" fill="#ffffff" stroke="#151515" stroke-width="0.85"/>
<path d="M145.01,415.65L147.48,411.2L142.53,411.2Z" fill="#ffffff" stroke="#151515" stroke-width="0.85"/>
<path d="M170.82,414.24L173.29,409.79L168.35,409.79Z" fill="#ffffff" stroke="#151515" stroke-width="0.85"/>
<polygon points="34.49,413.31 32.44,414.39 30.39,413.31 30.39,411.16 32.44,410.09 34.49,411.16" fill="#b4daf6" stroke="#151515" stroke-width="0.85"/>
<polygon points="47.11,390.62 45.06,391.69 43.01,390.62 43.01,388.47 45.06,387.39 47.11,388.47" fill="#b4daf6" stroke="#151515" stroke-width="0.85"/>
<polygon points="58.43,393.93 56.39,395 54.34,393.93 54.34,391.78 56.39,390.7 58.43,391.78" fill="#b4daf6" stroke="#151515" stroke-width="0.85"/>
<polygon points="97.73,367.92 95.68,369 93.63,367.92 93.63,365.77 95.68,364.7 97.73,365.77" fill="#b4daf6" stroke="#151515" stroke-width="0.85"/>
<polygon points="121.24,408.11 119.19,409.19 117.15,408.11 117.15,405.96 119.19,404.89 121.24,405.96" fill="#b4daf6" stroke="#151515" stroke-width="0.85"/>
<polygon points="147.05,399.13 145.01,400.2 142.96,399.13 142.96,396.98 145.01,395.9 147.05,396.98" fill="#b4daf6" stroke="#151515" stroke-width="0.85"/>
<polygon points="172.87,393.45 170.82,394.53 168.77,393.45 168.77,391.3 170.82,390.23 172.87,391.3" fill="#b4daf6" stroke="#151515" stroke-width="0.85"/>
<path d="M32.44,414.71L34.91,410.26L29.97,410.26Z" fill="#6f7fe0" stroke="#151515" stroke-width="0.85"/>
<path d="M45.06,412.82L47.53,408.37L42.58,408.37Z" fill="#6f7fe0" stroke="#151515" stroke-width="0.85"/>
<path d="M56.39,404.31L58.86,399.86L53.91,399.86Z" fill="#6f7fe0" stroke="#151515" stroke-width="0.85"/>
<path d="M95.68,404.31L98.15,399.86L93.2,399.86Z" fill="#6f7fe0" stroke="#151515" stroke-width="0.85"/>
<path d="M119.19,402.42L121.67,397.97L116.72,397.97Z" fill="#6f7fe0" stroke="#151515" stroke-width="0.85"/>
<path d="M145.01,403.83L147.48,399.38L142.53,399.38Z" fill="#6f7fe0" stroke="#151515" stroke-width="0.85"/>
<path d="M170.82,410.45L173.29,406L168.35,406Z" fill="#6f7fe0" stroke="#151515" stroke-width="0.85"/>
<path d="M32.44,407.4L34.91,411.85L29.97,411.85Z" fill="#8b1010" stroke="#151515" stroke-width="0.85"/>
<path d="M45.06,374.3L47.53,378.75L42.58,378.75Z" fill="#8b1010" stroke="#151515" stroke-width="0.85"/>
<path d="M56.39,388.49L58.86,392.94L53.91,392.94Z" fill="#8b1010" stroke="#151515" stroke-width="0.85"/>
<path d="M95.68,337.43L98.15,341.88L93.2,341.88Z" fill="#8b1010" stroke="#151515" stroke-width="0.85"/>
<path d="M119.19,370.99L121.67,375.44L116.72,375.44Z" fill="#8b1010" stroke="#151515" stroke-width="0.85"/>
<path d="M145.01,378.56L147.48,383.01L142.53,383.01Z" fill="#8b1010" stroke="#151515" stroke-width="0.85"/>
<path d="M170.82,368.63L173.29,373.08L168.35,373.08Z" fill="#8b1010" stroke="#151515" stroke-width="0.85"/>
<circle cx="32.44" cy="406.09" r="2.15" fill="#ffa40a" stroke="#151515" stroke-width="0.85"/>
<circle cx="45.06" cy="382.45" r="2.15" fill="#ffa40a" stroke="#151515" stroke-width="0.85"/>
<circle cx="56.39" cy="386.23" r="2.15" fill="#ffa40a" stroke="#151515" stroke-width="0.85"/>
<circle cx="95.68" cy="350.77" r="2.15" fill="#ffa40a" stroke="#151515" stroke-width="0.85"/>
<circle cx="119.19" cy="373.94" r="2.15" fill="#ffa40a" stroke="#151515" stroke-width="0.85"/>
<circle cx="145.01" cy="376.78" r="2.15" fill="#ffa40a" stroke="#151515" stroke-width="0.85"/>
<circle cx="170.82" cy="359.76" r="2.15" fill="#ffa40a" stroke="#151515" stroke-width="0.85"/>
<rect x="30.29" y="406.78" width="4.3" height="4.3" fill="#e8540f" stroke="#151515" stroke-width="0.85"/>
<rect x="42.91" y="390.7" width="4.3" height="4.3" fill="#e8540f" stroke="#151515" stroke-width="0.85"/>
<rect x="54.24" y="392.59" width="4.3" height="4.3" fill="#e8540f" stroke="#151515" stroke-width="0.85"/>
<rect x="93.53" y="368.01" width="4.3" height="4.3" fill="#e8540f" stroke="#151515" stroke-width="0.85"/>
<rect x="117.04" y="402.05" width="4.3" height="4.3" fill="#e8540f" stroke="#151515" stroke-width="0.85"/>
<rect x="142.86" y="389.28" width="4.3" height="4.3" fill="#e8540f" stroke="#151515" stroke-width="0.85"/>
<rect x="168.67" y="387.86" width="4.3" height="4.3" fill="#e8540f" stroke="#151515" stroke-width="0.85"/>
<path d="M32.44,410.88L34.97,413.42L32.44,415.95L29.9,413.42Z" fill="#a04fd8" stroke="#151515" stroke-width="0.85"/>
<path d="M45.06,392.21L47.59,394.74L45.06,397.28L42.52,394.74Z" fill="#a04fd8" stroke="#151515" stroke-width="0.85"/>
<path d="M56.39,393.15L58.92,395.69L56.39,398.22L53.85,395.69Z" fill="#a04fd8" stroke="#151515" stroke-width="0.85"/>
<path d="M95.68,368.57L98.21,371.1L95.68,373.64L93.14,371.1Z" fill="#a04fd8" stroke="#151515" stroke-width="0.85"/>
<path d="M119.19,392.21L121.73,394.74L119.19,397.28L116.66,394.74Z" fill="#a04fd8" stroke="#151515" stroke-width="0.85"/>
<path d="M145.01,400.72L147.54,403.25L145.01,405.79L142.47,403.25Z" fill="#a04fd8" stroke="#151515" stroke-width="0.85"/>
<path d="M170.82,391.73L173.36,394.27L170.82,396.81L168.28,394.27Z" fill="#a04fd8" stroke="#151515" stroke-width="0.85"/>
<path d="M197.5,296.4V414.6H340.3" fill="none" stroke="#2c2c2c" stroke-width="1.05"/>
<line x1="194.6" y1="414.6" x2="197.5" y2="414.6" stroke="#2c2c2c" stroke-width="0.9"/>
<text x="194" y="417.9" font-size="7.8" text-anchor="end" textLength="4" lengthAdjust="spacingAndGlyphs">0</text>
<line x1="194.6" y1="391.06" x2="197.5" y2="391.06" stroke="#2c2c2c" stroke-width="0.9"/>
<text x="194" y="394.36" font-size="7.8" text-anchor="end" textLength="8.01" lengthAdjust="spacingAndGlyphs">50</text>
<line x1="194.6" y1="367.52" x2="197.5" y2="367.52" stroke="#2c2c2c" stroke-width="0.9"/>
<text x="194" y="370.82" font-size="7.8" text-anchor="end" textLength="12.01" lengthAdjust="spacingAndGlyphs">100</text>
<line x1="194.6" y1="343.98" x2="197.5" y2="343.98" stroke="#2c2c2c" stroke-width="0.9"/>
<text x="194" y="347.28" font-size="7.8" text-anchor="end" textLength="12.01" lengthAdjust="spacingAndGlyphs">150</text>
<line x1="194.6" y1="320.44" x2="197.5" y2="320.44" stroke="#2c2c2c" stroke-width="0.9"/>
<text x="194" y="323.74" font-size="7.8" text-anchor="end" textLength="12.01" lengthAdjust="spacingAndGlyphs">200</text>
<line x1="194.6" y1="296.9" x2="197.5" y2="296.9" stroke="#2c2c2c" stroke-width="0.9"/>
<text x="194" y="300.2" font-size="7.8" text-anchor="end" textLength="12.01" lengthAdjust="spacingAndGlyphs">250</text>
<line x1="198.6" y1="414.6" x2="198.6" y2="418.1" stroke="#2c2c2c" stroke-width="0.9"/>
<text x="198.6" y="425.8" font-size="7.6" text-anchor="middle" textLength="3.98" lengthAdjust="spacingAndGlyphs">0</text>
<line x1="226.84" y1="414.6" x2="226.84" y2="418.1" stroke="#2c2c2c" stroke-width="0.9"/>
<text x="226.84" y="425.8" font-size="7.6" text-anchor="middle" textLength="7.95" lengthAdjust="spacingAndGlyphs">10</text>
<line x1="255.08" y1="414.6" x2="255.08" y2="418.1" stroke="#2c2c2c" stroke-width="0.9"/>
<text x="255.08" y="425.8" font-size="7.6" text-anchor="middle" textLength="7.95" lengthAdjust="spacingAndGlyphs">20</text>
<line x1="283.32" y1="414.6" x2="283.32" y2="418.1" stroke="#2c2c2c" stroke-width="0.9"/>
<text x="283.32" y="425.8" font-size="7.6" text-anchor="middle" textLength="7.95" lengthAdjust="spacingAndGlyphs">30</text>
<line x1="311.56" y1="414.6" x2="311.56" y2="418.1" stroke="#2c2c2c" stroke-width="0.9"/>
<text x="311.56" y="425.8" font-size="7.6" text-anchor="middle" textLength="7.95" lengthAdjust="spacingAndGlyphs">40</text>
<line x1="339.8" y1="414.6" x2="339.8" y2="418.1" stroke="#2c2c2c" stroke-width="0.9"/>
<text x="339.8" y="425.8" font-size="7.6" text-anchor="middle" textLength="7.95" lengthAdjust="spacingAndGlyphs">50</text>
<text x="204" y="297.4" font-size="10.3">J1994_2</text>
<text x="204" y="310.4" font-size="10.3">G12V</text>
<path d="M199.73,422.1L201.33,425.7Q199.73,427.7 198.13,425.7Z" fill="#3a87d0"/>
<path d="M199.73,418.7L201.33,422.3Q199.73,424.3 198.13,422.3Z" fill="#f7941d"/>
<path d="M199.73,415.3L201.33,418.9Q199.73,420.9 198.13,418.9Z" fill="#ee2a24"/>
<path d="M203.4,415.3L205,418.9Q203.4,420.9 201.8,418.9Z" fill="#ee2a24"/>
<path d="M207.35,415.3L208.95,418.9Q207.35,420.9 205.75,418.9Z" fill="#ee2a24"/>
<path d="M211.31,418.7L212.91,422.3Q211.31,424.3 209.71,422.3Z" fill="#3a87d0"/>
<path d="M211.31,415.3L212.91,418.9Q211.31,420.9 209.71,418.9Z" fill="#ee2a24"/>
<path d="M217.24,418.7L218.84,422.3Q217.24,424.3 215.64,422.3Z" fill="#f7941d"/>
<path d="M217.24,415.3L218.84,418.9Q217.24,420.9 215.64,418.9Z" fill="#3a87d0"/>
<path d="M235.59,418.7L237.19,422.3Q235.59,424.3 233.99,422.3Z" fill="#3a87d0"/>
<path d="M235.59,415.3L237.19,418.9Q235.59,420.9 233.99,418.9Z" fill="#ee2a24"/>
<path d="M244.91,415.3L246.51,418.9Q244.91,420.9 243.31,418.9Z" fill="#3a87d0"/>
<path d="M256.49,418.7L258.09,422.3Q256.49,424.3 254.89,422.3Z" fill="#3a87d0"/>
<path d="M256.49,415.3L258.09,418.9Q256.49,420.9 254.89,418.9Z" fill="#ee2a24"/>
<path d="M269.2,415.3L270.8,418.9Q269.2,420.9 267.6,418.9Z" fill="#3a87d0"/>
<path d="M282.47,415.3L284.07,418.9Q282.47,420.9 280.87,418.9Z" fill="#ee2a24"/>
<path d="M294.62,415.3L296.22,418.9Q294.62,420.9 293.02,418.9Z" fill="#3a87d0"/>
<path d="M304.5,418.7L306.1,422.3Q304.5,424.3 302.9,422.3Z" fill="#3a87d0"/>
<path d="M304.5,415.3L306.1,418.9Q304.5,420.9 302.9,418.9Z" fill="#ee2a24"/>
<path d="M317.49,415.3L319.09,418.9Q317.49,420.9 315.89,418.9Z" fill="#3a87d0"/>
<path d="M327.37,418.7L328.97,422.3Q327.37,424.3 325.77,422.3Z" fill="#3a87d0"/>
<path d="M327.37,415.3L328.97,418.9Q327.37,420.9 325.77,418.9Z" fill="#ee2a24"/>
<path d="M338.11,415.3L339.71,418.9Q338.11,420.9 336.51,418.9Z" fill="#3a87d0"/>
<path d="M199.02,412.72L206.22,410.83L216.67,407.07L225.43,410.36L245.2,411.78L269.2,412.25L294.33,411.78L317.21,410.36L337.54,413.19" fill="none" stroke="#6a6a6a" stroke-width="1.05" stroke-linejoin="round"/>
<path d="M199.02,408.95L206.22,409.89L216.67,406.6L225.43,406.13L245.2,411.3L269.2,412.25L294.33,411.78L317.21,410.36L337.54,412.72" fill="none" stroke="#231f20" stroke-width="1.05" stroke-linejoin="round"/>
<path d="M199.02,414.13L206.22,405.18L216.67,358.57L225.43,389.18L245.2,394.36L269.2,389.18L294.33,392.47L317.21,404.24L337.54,404.71" fill="none" stroke="#b6dbf6" stroke-width="1.05" stroke-linejoin="round"/>
<path d="M199.02,409.89L206.22,404.24L216.67,382.11L225.43,402.83L245.2,402.36L269.2,403.77L294.33,392.94L317.21,400.01L337.54,408.95" fill="none" stroke="#6f7fe0" stroke-width="1.05" stroke-linejoin="round"/>
<path d="M199.02,410.83L206.22,402.36L216.67,352.45L225.43,379.76L245.2,372.7L269.2,365.17L294.33,379.29L317.21,387.29L337.54,403.77" fill="none" stroke="#9a2a2a" stroke-width="1.05" stroke-linejoin="round"/>
<path d="M199.02,411.3L206.22,406.13L216.67,396.71L225.43,400.48L245.2,405.18L269.2,404.24L294.33,407.07L317.21,404.24L337.54,409.89" fill="none" stroke="#fca311" stroke-width="1.05" stroke-linejoin="round"/>
<path d="M199.02,411.78L206.22,412.72L216.67,388.24L225.43,401.89L245.2,404.24L269.2,405.65L294.33,400.48L317.21,405.18L337.54,410.83" fill="none" stroke="#ea6a2a" stroke-width="1.05" stroke-linejoin="round"/>
<path d="M199.02,409.42L206.22,407.54L216.67,397.65L225.43,402.83L245.2,409.89L269.2,409.42L294.33,402.36L317.21,405.65L337.54,413.19" fill="none" stroke="#a95ddc" stroke-width="1.05" stroke-linejoin="round"/>
<path d="M245.2,394.36V390.59M242.8,390.59H247.6" stroke="#2a2a2a" stroke-width="0.9" fill="none"/>
<path d="M269.2,389.18V386.35M266.8,386.35H271.6" stroke="#2a2a2a" stroke-width="0.9" fill="none"/>
<path d="M216.67,382.11V377.88M214.27,377.88H219.07" stroke="#2a2a2a" stroke-width="0.9" fill="none"/>
<path d="M206.22,402.36V394.36M203.82,394.36H208.62" stroke="#2a2a2a" stroke-width="0.9" fill="none"/>
<path d="M216.67,352.45V342.57M214.27,342.57H219.07" stroke="#2a2a2a" stroke-width="0.9" fill="none"/>
<path d="M245.2,372.7V364.7M242.8,364.7H247.6" stroke="#2a2a2a" stroke-width="0.9" fill="none"/>
<path d="M317.21,387.29V377.88M314.81,377.88H319.61" stroke="#2a2a2a" stroke-width="0.9" fill="none"/>
<path d="M337.54,403.77V399.06M335.14,399.06H339.94" stroke="#2a2a2a" stroke-width="0.9" fill="none"/>
<path d="M269.2,404.24V399.53M266.8,399.53H271.6" stroke="#2a2a2a" stroke-width="0.9" fill="none"/>
<path d="M199.02,410.18L201.56,412.72L199.02,415.25L196.49,412.72Z" fill="#b0b0b0" stroke="#151515" stroke-width="0.85"/>
<path d="M206.22,408.3L208.76,410.83L206.22,413.37L203.69,410.83Z" fill="#b0b0b0" stroke="#151515" stroke-width="0.85"/>
<path d="M216.67,404.53L219.21,407.07L216.67,409.6L214.14,407.07Z" fill="#b0b0b0" stroke="#151515" stroke-width="0.85"/>
<path d="M225.43,407.83L227.97,410.36L225.43,412.9L222.89,410.36Z" fill="#b0b0b0" stroke="#151515" stroke-width="0.85"/>
<path d="M245.2,409.24L247.73,411.78L245.2,414.31L242.66,411.78Z" fill="#b0b0b0" stroke="#151515" stroke-width="0.85"/>
<path d="M269.2,409.71L271.74,412.25L269.2,414.78L266.66,412.25Z" fill="#b0b0b0" stroke="#151515" stroke-width="0.85"/>
<path d="M294.33,409.24L296.87,411.78L294.33,414.31L291.8,411.78Z" fill="#b0b0b0" stroke="#151515" stroke-width="0.85"/>
<path d="M317.21,407.83L319.74,410.36L317.21,412.9L314.67,410.36Z" fill="#b0b0b0" stroke="#151515" stroke-width="0.85"/>
<path d="M337.54,410.65L340.08,413.19L337.54,415.72L335,413.19Z" fill="#b0b0b0" stroke="#151515" stroke-width="0.85"/>
<path d="M199.02,411.42L201.5,406.97L196.55,406.97Z" fill="#ffffff" stroke="#151515" stroke-width="0.85"/>
<path d="M206.22,412.36L208.7,407.91L203.75,407.91Z" fill="#ffffff" stroke="#151515" stroke-width="0.85"/>
<path d="M216.67,409.07L219.15,404.62L214.2,404.62Z" fill="#ffffff" stroke="#151515" stroke-width="0.85"/>
<path d="M225.43,408.6L227.9,404.15L222.96,404.15Z" fill="#ffffff" stroke="#151515" stroke-width="0.85"/>
<path d="M245.2,413.78L247.67,409.33L242.72,409.33Z" fill="#ffffff" stroke="#151515" stroke-width="0.85"/>
<path d="M269.2,414.72L271.67,410.27L266.73,410.27Z" fill="#ffffff" stroke="#151515" stroke-width="0.85"/>
<path d="M294.33,414.25L296.81,409.8L291.86,409.8Z" fill="#ffffff" stroke="#151515" stroke-width="0.85"/>
<path d="M317.21,412.84L319.68,408.38L314.74,408.38Z" fill="#ffffff" stroke="#151515" stroke-width="0.85"/>
<path d="M337.54,415.19L340.01,410.74L335.07,410.74Z" fill="#ffffff" stroke="#151515" stroke-width="0.85"/>
<polygon points="201.07,415.2 199.02,416.28 196.98,415.2 196.98,413.05 199.02,411.98 201.07,413.05" fill="#b4daf6" stroke="#151515" stroke-width="0.85"/>
<polygon points="208.27,406.26 206.22,407.33 204.18,406.26 204.18,404.11 206.22,403.03 208.27,404.11" fill="#b4daf6" stroke="#151515" stroke-width="0.85"/>
<polygon points="218.72,359.65 216.67,360.72 214.63,359.65 214.63,357.5 216.67,356.42 218.72,357.5" fill="#b4daf6" stroke="#151515" stroke-width="0.85"/>
<polygon points="227.48,390.25 225.43,391.33 223.38,390.25 223.38,388.1 225.43,387.03 227.48,388.1" fill="#b4daf6" stroke="#151515" stroke-width="0.85"/>
<polygon points="247.24,395.43 245.2,396.51 243.15,395.43 243.15,393.28 245.2,392.21 247.24,393.28" fill="#b4daf6" stroke="#151515" stroke-width="0.85"/>
<polygon points="271.25,390.25 269.2,391.33 267.15,390.25 267.15,388.1 269.2,387.03 271.25,388.1" fill="#b4daf6" stroke="#151515" stroke-width="0.85"/>
<polygon points="296.38,393.55 294.33,394.62 292.29,393.55 292.29,391.4 294.33,390.32 296.38,391.4" fill="#b4daf6" stroke="#151515" stroke-width="0.85"/>
<polygon points="319.26,405.32 317.21,406.39 315.16,405.32 315.16,403.17 317.21,402.09 319.26,403.17" fill="#b4daf6" stroke="#151515" stroke-width="0.85"/>
<polygon points="339.59,405.79 337.54,406.86 335.49,405.79 335.49,403.64 337.54,402.56 339.59,403.64" fill="#b4daf6" stroke="#151515" stroke-width="0.85"/>
<path d="M199.02,412.36L201.5,407.91L196.55,407.91Z" fill="#6f7fe0" stroke="#151515" stroke-width="0.85"/>
<path d="M206.22,406.71L208.7,402.26L203.75,402.26Z" fill="#6f7fe0" stroke="#151515" stroke-width="0.85"/>
<path d="M216.67,384.59L219.15,380.14L214.2,380.14Z" fill="#6f7fe0" stroke="#151515" stroke-width="0.85"/>
<path d="M225.43,405.3L227.9,400.85L222.96,400.85Z" fill="#6f7fe0" stroke="#151515" stroke-width="0.85"/>
<path d="M245.2,404.83L247.67,400.38L242.72,400.38Z" fill="#6f7fe0" stroke="#151515" stroke-width="0.85"/>
<path d="M269.2,406.24L271.67,401.79L266.73,401.79Z" fill="#6f7fe0" stroke="#151515" stroke-width="0.85"/>
<path d="M294.33,395.42L296.81,390.97L291.86,390.97Z" fill="#6f7fe0" stroke="#151515" stroke-width="0.85"/>
<path d="M317.21,402.48L319.68,398.03L314.74,398.03Z" fill="#6f7fe0" stroke="#151515" stroke-width="0.85"/>
<path d="M337.54,411.42L340.01,406.97L335.07,406.97Z" fill="#6f7fe0" stroke="#151515" stroke-width="0.85"/>
<path d="M199.02,408.36L201.5,412.81L196.55,412.81Z" fill="#8b1010" stroke="#151515" stroke-width="0.85"/>
<path d="M206.22,399.89L208.7,404.34L203.75,404.34Z" fill="#8b1010" stroke="#151515" stroke-width="0.85"/>
<path d="M216.67,349.98L219.15,354.43L214.2,354.43Z" fill="#8b1010" stroke="#151515" stroke-width="0.85"/>
<path d="M225.43,377.29L227.9,381.74L222.96,381.74Z" fill="#8b1010" stroke="#151515" stroke-width="0.85"/>
<path d="M245.2,370.23L247.67,374.68L242.72,374.68Z" fill="#8b1010" stroke="#151515" stroke-width="0.85"/>
<path d="M269.2,362.69L271.67,367.14L266.73,367.14Z" fill="#8b1010" stroke="#151515" stroke-width="0.85"/>
<path d="M294.33,376.82L296.81,381.27L291.86,381.27Z" fill="#8b1010" stroke="#151515" stroke-width="0.85"/>
<path d="M317.21,384.82L319.68,389.27L314.74,389.27Z" fill="#8b1010" stroke="#151515" stroke-width="0.85"/>
<path d="M337.54,401.3L340.01,405.75L335.07,405.75Z" fill="#8b1010" stroke="#151515" stroke-width="0.85"/>
<circle cx="199.02" cy="411.3" r="2.15" fill="#ffa40a" stroke="#151515" stroke-width="0.85"/>
<circle cx="206.22" cy="406.13" r="2.15" fill="#ffa40a" stroke="#151515" stroke-width="0.85"/>
<circle cx="216.67" cy="396.71" r="2.15" fill="#ffa40a" stroke="#151515" stroke-width="0.85"/>
<circle cx="225.43" cy="400.48" r="2.15" fill="#ffa40a" stroke="#151515" stroke-width="0.85"/>
<circle cx="245.2" cy="405.18" r="2.15" fill="#ffa40a" stroke="#151515" stroke-width="0.85"/>
<circle cx="269.2" cy="404.24" r="2.15" fill="#ffa40a" stroke="#151515" stroke-width="0.85"/>
<circle cx="294.33" cy="407.07" r="2.15" fill="#ffa40a" stroke="#151515" stroke-width="0.85"/>
<circle cx="317.21" cy="404.24" r="2.15" fill="#ffa40a" stroke="#151515" stroke-width="0.85"/>
<circle cx="337.54" cy="409.89" r="2.15" fill="#ffa40a" stroke="#151515" stroke-width="0.85"/>
<rect x="196.87" y="409.63" width="4.3" height="4.3" fill="#e8540f" stroke="#151515" stroke-width="0.85"/>
<rect x="204.07" y="410.57" width="4.3" height="4.3" fill="#e8540f" stroke="#151515" stroke-width="0.85"/>
<rect x="214.52" y="386.09" width="4.3" height="4.3" fill="#e8540f" stroke="#151515" stroke-width="0.85"/>
<rect x="223.28" y="399.74" width="4.3" height="4.3" fill="#e8540f" stroke="#151515" stroke-width="0.85"/>
<rect x="243.05" y="402.09" width="4.3" height="4.3" fill="#e8540f" stroke="#151515" stroke-width="0.85"/>
<rect x="267.05" y="403.5" width="4.3" height="4.3" fill="#e8540f" stroke="#151515" stroke-width="0.85"/>
<rect x="292.18" y="398.33" width="4.3" height="4.3" fill="#e8540f" stroke="#151515" stroke-width="0.85"/>
<rect x="315.06" y="403.03" width="4.3" height="4.3" fill="#e8540f" stroke="#151515" stroke-width="0.85"/>
<rect x="335.39" y="408.68" width="4.3" height="4.3" fill="#e8540f" stroke="#151515" stroke-width="0.85"/>
<path d="M199.02,406.88L201.56,409.42L199.02,411.96L196.49,409.42Z" fill="#a04fd8" stroke="#151515" stroke-width="0.85"/>
<path d="M206.22,405L208.76,407.54L206.22,410.07L203.69,407.54Z" fill="#a04fd8" stroke="#151515" stroke-width="0.85"/>
<path d="M216.67,395.11L219.21,397.65L216.67,400.19L214.14,397.65Z" fill="#a04fd8" stroke="#151515" stroke-width="0.85"/>
<path d="M225.43,400.29L227.97,402.83L225.43,405.37L222.89,402.83Z" fill="#a04fd8" stroke="#151515" stroke-width="0.85"/>
<path d="M245.2,407.36L247.73,409.89L245.2,412.43L242.66,409.89Z" fill="#a04fd8" stroke="#151515" stroke-width="0.85"/>
<path d="M269.2,406.88L271.74,409.42L269.2,411.96L266.66,409.42Z" fill="#a04fd8" stroke="#151515" stroke-width="0.85"/>
<path d="M294.33,399.82L296.87,402.36L294.33,404.9L291.8,402.36Z" fill="#a04fd8" stroke="#151515" stroke-width="0.85"/>
<path d="M317.21,403.12L319.74,405.65L317.21,408.19L314.67,405.65Z" fill="#a04fd8" stroke="#151515" stroke-width="0.85"/>
<path d="M337.54,410.65L340.08,413.19L337.54,415.72L335,413.19Z" fill="#a04fd8" stroke="#151515" stroke-width="0.85"/>
<path d="M365.9,295.9V415.4H511.7" fill="none" stroke="#2c2c2c" stroke-width="1.05"/>
<line x1="363" y1="415.4" x2="365.9" y2="415.4" stroke="#2c2c2c" stroke-width="0.9"/>
<text x="362.4" y="418.7" font-size="7.8" text-anchor="end" textLength="4" lengthAdjust="spacingAndGlyphs">0</text>
<line x1="363" y1="391.6" x2="365.9" y2="391.6" stroke="#2c2c2c" stroke-width="0.9"/>
<text x="362.4" y="394.9" font-size="7.8" text-anchor="end" textLength="8.01" lengthAdjust="spacingAndGlyphs">50</text>
<line x1="363" y1="367.8" x2="365.9" y2="367.8" stroke="#2c2c2c" stroke-width="0.9"/>
<text x="362.4" y="371.1" font-size="7.8" text-anchor="end" textLength="12.01" lengthAdjust="spacingAndGlyphs">100</text>
<line x1="363" y1="344" x2="365.9" y2="344" stroke="#2c2c2c" stroke-width="0.9"/>
<text x="362.4" y="347.3" font-size="7.8" text-anchor="end" textLength="12.01" lengthAdjust="spacingAndGlyphs">150</text>
<line x1="363" y1="320.2" x2="365.9" y2="320.2" stroke="#2c2c2c" stroke-width="0.9"/>
<text x="362.4" y="323.5" font-size="7.8" text-anchor="end" textLength="12.01" lengthAdjust="spacingAndGlyphs">200</text>
<line x1="363" y1="296.4" x2="365.9" y2="296.4" stroke="#2c2c2c" stroke-width="0.9"/>
<text x="362.4" y="299.7" font-size="7.8" text-anchor="end" textLength="12.01" lengthAdjust="spacingAndGlyphs">250</text>
<line x1="365.6" y1="415.4" x2="365.6" y2="418.9" stroke="#2c2c2c" stroke-width="0.9"/>
<text x="365.6" y="426.6" font-size="7.6" text-anchor="middle" textLength="3.98" lengthAdjust="spacingAndGlyphs">0</text>
<line x1="414.13" y1="415.4" x2="414.13" y2="418.9" stroke="#2c2c2c" stroke-width="0.9"/>
<text x="414.13" y="426.6" font-size="7.6" text-anchor="middle" textLength="7.95" lengthAdjust="spacingAndGlyphs">10</text>
<line x1="462.67" y1="415.4" x2="462.67" y2="418.9" stroke="#2c2c2c" stroke-width="0.9"/>
<text x="462.67" y="426.6" font-size="7.6" text-anchor="middle" textLength="7.95" lengthAdjust="spacingAndGlyphs">20</text>
<line x1="511.2" y1="415.4" x2="511.2" y2="418.9" stroke="#2c2c2c" stroke-width="0.9"/>
<text x="511.2" y="426.6" font-size="7.6" text-anchor="middle" textLength="7.95" lengthAdjust="spacingAndGlyphs">30</text>
<text x="370.7" y="297.3" font-size="10.3">J1994_3</text>
<text x="370.7" y="309.6" font-size="10.3">G12D</text>
<path d="M369.48,419.5L371.08,423.1Q369.48,425.1 367.88,423.1Z" fill="#3a87d0"/>
<path d="M369.48,416.1L371.08,419.7Q369.48,421.7 367.88,419.7Z" fill="#ee2a24"/>
<path d="M373.37,416.1L374.97,419.7Q373.37,421.7 371.77,419.7Z" fill="#ee2a24"/>
<path d="M376.28,416.1L377.88,419.7Q376.28,421.7 374.68,419.7Z" fill="#ee2a24"/>
<path d="M380.65,419.5L382.25,423.1Q380.65,425.1 379.05,423.1Z" fill="#3a87d0"/>
<path d="M380.65,416.1L382.25,419.7Q380.65,421.7 379.05,419.7Z" fill="#ee2a24"/>
<path d="M398.12,419.5L399.72,423.1Q398.12,425.1 396.52,423.1Z" fill="#f7941d"/>
<path d="M398.12,416.1L399.72,419.7Q398.12,421.7 396.52,419.7Z" fill="#3a87d0"/>
<path d="M413.16,416.1L414.76,419.7Q413.16,421.7 411.56,419.7Z" fill="#3a87d0"/>
<path d="M427.24,419.5L428.84,423.1Q427.24,425.1 425.64,423.1Z" fill="#3a87d0"/>
<path d="M427.24,416.1L428.84,419.7Q427.24,421.7 425.64,419.7Z" fill="#ee2a24"/>
<path d="M446.65,416.1L448.25,419.7Q446.65,421.7 445.05,419.7Z" fill="#3a87d0"/>
<path d="M468.98,419.5L470.58,423.1Q468.98,425.1 467.38,423.1Z" fill="#3a87d0"/>
<path d="M468.98,416.1L470.58,419.7Q468.98,421.7 467.38,419.7Z" fill="#ee2a24"/>
<path d="M480.62,416.1L482.22,419.7Q480.62,421.7 479.02,419.7Z" fill="#3a87d0"/>
<path d="M370.7,412.54L380.65,410.64L398.12,395.88L412.68,404.45L446.41,413.5L490.33,412.54" fill="none" stroke="#6a6a6a" stroke-width="1.05" stroke-linejoin="round"/>
<path d="M370.7,411.59L380.65,411.12L398.12,379.7L412.68,397.31L446.41,409.69L490.33,411.59" fill="none" stroke="#231f20" stroke-width="1.05" stroke-linejoin="round"/>
<path d="M370.7,410.64L380.65,394.46L398.12,378.75L412.68,379.22L446.41,383.98L490.33,398.26" fill="none" stroke="#b6dbf6" stroke-width="1.05" stroke-linejoin="round"/>
<path d="M370.7,409.69L380.65,392.55L398.12,368.75L412.68,391.6L446.41,393.03L490.33,397.31" fill="none" stroke="#6f7fe0" stroke-width="1.05" stroke-linejoin="round"/>
<path d="M370.7,411.59L380.65,397.31L398.12,381.13L412.68,403.98L446.41,393.03L490.33,393.03" fill="none" stroke="#9a2a2a" stroke-width="1.05" stroke-linejoin="round"/>
<path d="M370.7,405.4L380.65,399.69L398.12,364.47L412.68,393.03L446.41,389.22L490.33,389.7" fill="none" stroke="#fca311" stroke-width="1.05" stroke-linejoin="round"/>
<path d="M370.7,408.26L380.65,389.22L398.12,365.9L412.68,383.03L446.41,376.84L490.33,383.51" fill="none" stroke="#ea6a2a" stroke-width="1.05" stroke-linejoin="round"/>
<path d="M370.7,412.07L380.65,397.31L398.12,359.23L412.68,394.93L446.41,387.79L490.33,393.98" fill="none" stroke="#a95ddc" stroke-width="1.05" stroke-linejoin="round"/>
<path d="M398.12,395.88V390.17M395.72,390.17H400.52" stroke="#2a2a2a" stroke-width="0.9" fill="none"/>
<path d="M446.41,409.69V408.26M444.01,408.26H448.81" stroke="#2a2a2a" stroke-width="0.9" fill="none"/>
<path d="M490.33,411.59V409.21M487.93,409.21H492.73" stroke="#2a2a2a" stroke-width="0.9" fill="none"/>
<path d="M370.7,405.4V403.02M368.3,403.02H373.1" stroke="#2a2a2a" stroke-width="0.9" fill="none"/>
<path d="M380.65,389.22V380.65M378.25,380.65H383.05" stroke="#2a2a2a" stroke-width="0.9" fill="none"/>
<path d="M490.33,383.51V375.89M487.93,375.89H492.73" stroke="#2a2a2a" stroke-width="0.9" fill="none"/>
<path d="M398.12,359.23V352.09M395.72,352.09H400.52" stroke="#2a2a2a" stroke-width="0.9" fill="none"/>
<path d="M370.7,410.01L373.23,412.54L370.7,415.08L368.16,412.54Z" fill="#b0b0b0" stroke="#151515" stroke-width="0.85"/>
<path d="M380.65,408.1L383.18,410.64L380.65,413.18L378.11,410.64Z" fill="#b0b0b0" stroke="#151515" stroke-width="0.85"/>
<path d="M398.12,393.35L400.65,395.88L398.12,398.42L395.58,395.88Z" fill="#b0b0b0" stroke="#151515" stroke-width="0.85"/>
<path d="M412.68,401.92L415.21,404.45L412.68,406.99L410.14,404.45Z" fill="#b0b0b0" stroke="#151515" stroke-width="0.85"/>
<path d="M446.41,410.96L448.94,413.5L446.41,416.03L443.87,413.5Z" fill="#b0b0b0" stroke="#151515" stroke-width="0.85"/>
<path d="M490.33,410.01L492.87,412.54L490.33,415.08L487.79,412.54Z" fill="#b0b0b0" stroke="#151515" stroke-width="0.85"/>
<path d="M370.7,414.06L373.17,409.61L368.22,409.61Z" fill="#ffffff" stroke="#151515" stroke-width="0.85"/>
<path d="M380.65,413.59L383.12,409.14L378.17,409.14Z" fill="#ffffff" stroke="#151515" stroke-width="0.85"/>
<path d="M398.12,382.17L400.59,377.72L395.64,377.72Z" fill="#ffffff" stroke="#151515" stroke-width="0.85"/>
<path d="M412.68,399.78L415.15,395.33L410.2,395.33Z" fill="#ffffff" stroke="#151515" stroke-width="0.85"/>
<path d="M446.41,412.16L448.88,407.71L443.94,407.71Z" fill="#ffffff" stroke="#151515" stroke-width="0.85"/>
<path d="M490.33,414.06L492.8,409.61L487.86,409.61Z" fill="#ffffff" stroke="#151515" stroke-width="0.85"/>
<polygon points="372.74,411.71 370.7,412.79 368.65,411.71 368.65,409.56 370.7,408.49 372.74,409.56" fill="#b4daf6" stroke="#151515" stroke-width="0.85"/>
<polygon points="382.69,395.53 380.65,396.61 378.6,395.53 378.6,393.38 380.65,392.31 382.69,393.38" fill="#b4daf6" stroke="#151515" stroke-width="0.85"/>
<polygon points="400.17,379.82 398.12,380.9 396.07,379.82 396.07,377.67 398.12,376.6 400.17,377.67" fill="#b4daf6" stroke="#151515" stroke-width="0.85"/>
<polygon points="414.73,380.3 412.68,381.37 410.63,380.3 410.63,378.15 412.68,377.07 414.73,378.15" fill="#b4daf6" stroke="#151515" stroke-width="0.85"/>
<polygon points="448.46,385.06 446.41,386.13 444.36,385.06 444.36,382.91 446.41,381.83 448.46,382.91" fill="#b4daf6" stroke="#151515" stroke-width="0.85"/>
<polygon points="492.38,399.34 490.33,400.41 488.28,399.34 488.28,397.19 490.33,396.11 492.38,397.19" fill="#b4daf6" stroke="#151515" stroke-width="0.85"/>
<path d="M370.7,412.16L373.17,407.71L368.22,407.71Z" fill="#6f7fe0" stroke="#151515" stroke-width="0.85"/>
<path d="M380.65,395.02L383.12,390.57L378.17,390.57Z" fill="#6f7fe0" stroke="#151515" stroke-width="0.85"/>
<path d="M398.12,371.22L400.59,366.77L395.64,366.77Z" fill="#6f7fe0" stroke="#151515" stroke-width="0.85"/>
<path d="M412.68,394.07L415.15,389.62L410.2,389.62Z" fill="#6f7fe0" stroke="#151515" stroke-width="0.85"/>
<path d="M446.41,395.5L448.88,391.05L443.94,391.05Z" fill="#6f7fe0" stroke="#151515" stroke-width="0.85"/>
<path d="M490.33,399.78L492.8,395.33L487.86,395.33Z" fill="#6f7fe0" stroke="#151515" stroke-width="0.85"/>
<path d="M370.7,409.12L373.17,413.57L368.22,413.57Z" fill="#8b1010" stroke="#151515" stroke-width="0.85"/>
<path d="M380.65,394.84L383.12,399.29L378.17,399.29Z" fill="#8b1010" stroke="#151515" stroke-width="0.85"/>
<path d="M398.12,378.66L400.59,383.11L395.64,383.11Z" fill="#8b1010" stroke="#151515" stroke-width="0.85"/>
<path d="M412.68,401.5L415.15,405.95L410.2,405.95Z" fill="#8b1010" stroke="#151515" stroke-width="0.85"/>
<path d="M446.41,390.56L448.88,395.01L443.94,395.01Z" fill="#8b1010" stroke="#151515" stroke-width="0.85"/>
<path d="M490.33,390.56L492.8,395.01L487.86,395.01Z" fill="#8b1010" stroke="#151515" stroke-width="0.85"/>
<circle cx="370.7" cy="405.4" r="2.15" fill="#ffa40a" stroke="#151515" stroke-width="0.85"/>
<circle cx="380.65" cy="399.69" r="2.15" fill="#ffa40a" stroke="#151515" stroke-width="0.85"/>
<circle cx="398.12" cy="364.47" r="2.15" fill="#ffa40a" stroke="#151515" stroke-width="0.85"/>
<circle cx="412.68" cy="393.03" r="2.15" fill="#ffa40a" stroke="#151515" stroke-width="0.85"/>
<circle cx="446.41" cy="389.22" r="2.15" fill="#ffa40a" stroke="#151515" stroke-width="0.85"/>
<circle cx="490.33" cy="389.7" r="2.15" fill="#ffa40a" stroke="#151515" stroke-width="0.85"/>
<rect x="368.55" y="406.11" width="4.3" height="4.3" fill="#e8540f" stroke="#151515" stroke-width="0.85"/>
<rect x="378.5" y="387.07" width="4.3" height="4.3" fill="#e8540f" stroke="#151515" stroke-width="0.85"/>
<rect x="395.97" y="363.75" width="4.3" height="4.3" fill="#e8540f" stroke="#151515" stroke-width="0.85"/>
<rect x="410.53" y="380.88" width="4.3" height="4.3" fill="#e8540f" stroke="#151515" stroke-width="0.85"/>
<rect x="444.26" y="374.69" width="4.3" height="4.3" fill="#e8540f" stroke="#151515" stroke-width="0.85"/>
<rect x="488.18" y="381.36" width="4.3" height="4.3" fill="#e8540f" stroke="#151515" stroke-width="0.85"/>
<path d="M370.7,409.53L373.23,412.07L370.7,414.6L368.16,412.07Z" fill="#a04fd8" stroke="#151515" stroke-width="0.85"/>
<path d="M380.65,394.77L383.18,397.31L380.65,399.85L378.11,397.31Z" fill="#a04fd8" stroke="#151515" stroke-width="0.85"/>
<path d="M398.12,356.69L400.65,359.23L398.12,361.77L395.58,359.23Z" fill="#a04fd8" stroke="#151515" stroke-width="0.85"/>
<path d="M412.68,392.39L415.21,394.93L412.68,397.47L410.14,394.93Z" fill="#a04fd8" stroke="#151515" stroke-width="0.85"/>
<path d="M446.41,385.25L448.94,387.79L446.41,390.33L443.87,387.79Z" fill="#a04fd8" stroke="#151515" stroke-width="0.85"/>
<path d="M490.33,391.44L492.87,393.98L490.33,396.52L487.79,393.98Z" fill="#a04fd8" stroke="#151515" stroke-width="0.85"/>
<path d="M534,295V411.4H675.7" fill="none" stroke="#2c2c2c" stroke-width="1.05"/>
<line x1="531.1" y1="411.4" x2="534" y2="411.4" stroke="#2c2c2c" stroke-width="0.9"/>
<text x="530.5" y="414.7" font-size="7.8" text-anchor="end" textLength="4" lengthAdjust="spacingAndGlyphs">0</text>
<line x1="531.1" y1="388.22" x2="534" y2="388.22" stroke="#2c2c2c" stroke-width="0.9"/>
<text x="530.5" y="391.52" font-size="7.8" text-anchor="end" textLength="8.01" lengthAdjust="spacingAndGlyphs">50</text>
<line x1="531.1" y1="365.04" x2="534" y2="365.04" stroke="#2c2c2c" stroke-width="0.9"/>
<text x="530.5" y="368.34" font-size="7.8" text-anchor="end" textLength="12.01" lengthAdjust="spacingAndGlyphs">100</text>
<line x1="531.1" y1="341.86" x2="534" y2="341.86" stroke="#2c2c2c" stroke-width="0.9"/>
<text x="530.5" y="345.16" font-size="7.8" text-anchor="end" textLength="12.01" lengthAdjust="spacingAndGlyphs">150</text>
<line x1="531.1" y1="318.68" x2="534" y2="318.68" stroke="#2c2c2c" stroke-width="0.9"/>
<text x="530.5" y="321.98" font-size="7.8" text-anchor="end" textLength="12.01" lengthAdjust="spacingAndGlyphs">200</text>
<line x1="531.1" y1="295.5" x2="534" y2="295.5" stroke="#2c2c2c" stroke-width="0.9"/>
<text x="530.5" y="298.8" font-size="7.8" text-anchor="end" textLength="12.01" lengthAdjust="spacingAndGlyphs">250</text>
<line x1="534" y1="411.4" x2="534" y2="414.9" stroke="#2c2c2c" stroke-width="0.9"/>
<text x="534" y="422.6" font-size="7.6" text-anchor="middle" textLength="3.98" lengthAdjust="spacingAndGlyphs">0</text>
<line x1="562.24" y1="411.4" x2="562.24" y2="414.9" stroke="#2c2c2c" stroke-width="0.9"/>
<text x="562.24" y="422.6" font-size="7.6" text-anchor="middle" textLength="7.95" lengthAdjust="spacingAndGlyphs">10</text>
<line x1="590.48" y1="411.4" x2="590.48" y2="414.9" stroke="#2c2c2c" stroke-width="0.9"/>
<text x="590.48" y="422.6" font-size="7.6" text-anchor="middle" textLength="7.95" lengthAdjust="spacingAndGlyphs">20</text>
<line x1="618.72" y1="411.4" x2="618.72" y2="414.9" stroke="#2c2c2c" stroke-width="0.9"/>
<text x="618.72" y="422.6" font-size="7.6" text-anchor="middle" textLength="7.95" lengthAdjust="spacingAndGlyphs">30</text>
<line x1="646.96" y1="411.4" x2="646.96" y2="414.9" stroke="#2c2c2c" stroke-width="0.9"/>
<text x="646.96" y="422.6" font-size="7.6" text-anchor="middle" textLength="7.95" lengthAdjust="spacingAndGlyphs">40</text>
<line x1="675.2" y1="411.4" x2="675.2" y2="414.9" stroke="#2c2c2c" stroke-width="0.9"/>
<text x="675.2" y="422.6" font-size="7.6" text-anchor="middle" textLength="7.95" lengthAdjust="spacingAndGlyphs">50</text>
<text x="540.8" y="297.3" font-size="10.3">J1994_5</text>
<text x="540.8" y="309.6" font-size="10.3">G12V</text>
<path d="M534.28,418.9L535.88,422.5Q534.28,424.5 532.68,422.5Z" fill="#3a87d0"/>
<path d="M534.28,415.5L535.88,419.1Q534.28,421.1 532.68,419.1Z" fill="#f7941d"/>
<path d="M534.28,412.1L535.88,415.7Q534.28,417.7 532.68,415.7Z" fill="#ee2a24"/>
<path d="M536.68,412.1L538.28,415.7Q536.68,417.7 535.08,415.7Z" fill="#ee2a24"/>
<path d="M539.08,412.1L540.68,415.7Q539.08,417.7 537.48,415.7Z" fill="#ee2a24"/>
<path d="M541.34,415.5L542.94,419.1Q541.34,421.1 539.74,419.1Z" fill="#3a87d0"/>
<path d="M541.34,412.1L542.94,415.7Q541.34,417.7 539.74,415.7Z" fill="#ee2a24"/>
<path d="M554.33,415.5L555.93,419.1Q554.33,421.1 552.73,419.1Z" fill="#f7941d"/>
<path d="M554.33,412.1L555.93,415.7Q554.33,417.7 552.73,415.7Z" fill="#3a87d0"/>
<path d="M562.52,412.1L564.12,415.7Q562.52,417.7 560.92,415.7Z" fill="#3a87d0"/>
<path d="M569.58,415.5L571.18,419.1Q569.58,421.1 567.98,419.1Z" fill="#3a87d0"/>
<path d="M569.58,412.1L571.18,415.7Q569.58,417.7 567.98,415.7Z" fill="#ee2a24"/>
<path d="M582.29,412.1L583.89,415.7Q582.29,417.7 580.69,415.7Z" fill="#3a87d0"/>
<path d="M596.69,415.5L598.29,419.1Q596.69,421.1 595.09,419.1Z" fill="#3a87d0"/>
<path d="M596.69,412.1L598.29,415.7Q596.69,417.7 595.09,415.7Z" fill="#ee2a24"/>
<path d="M605.45,412.1L607.05,415.7Q605.45,417.7 603.85,415.7Z" fill="#3a87d0"/>
<path d="M617.59,415.5L619.19,419.1Q617.59,421.1 615.99,419.1Z" fill="#3a87d0"/>
<path d="M617.59,412.1L619.19,415.7Q617.59,417.7 615.99,415.7Z" fill="#ee2a24"/>
<path d="M628.32,412.1L629.92,415.7Q628.32,417.7 626.72,415.7Z" fill="#3a87d0"/>
<path d="M640.75,415.5L642.35,419.1Q640.75,421.1 639.15,419.1Z" fill="#3a87d0"/>
<path d="M640.75,412.1L642.35,415.7Q640.75,417.7 639.15,415.7Z" fill="#ee2a24"/>
<path d="M653.46,412.1L655.06,415.7Q653.46,417.7 651.86,415.7Z" fill="#3a87d0"/>
<path d="M536.26,402.13L542.47,410.47L554.05,395.64L562.52,402.59L582.29,405.84L605.45,407.23L628.6,408.62L654.02,409.08" fill="none" stroke="#6a6a6a" stroke-width="1.05" stroke-linejoin="round"/>
<path d="M536.26,400.27L542.47,410.47L554.05,394.25L562.52,397.03L582.29,405.84L605.45,406.76L628.6,408.15L654.02,408.62" fill="none" stroke="#231f20" stroke-width="1.05" stroke-linejoin="round"/>
<path d="M536.26,401.2L542.47,410.47L554.05,406.3L562.52,405.37L582.29,410.01L605.45,409.55L628.6,408.62L654.02,409.55" fill="none" stroke="#b6dbf6" stroke-width="1.05" stroke-linejoin="round"/>
<path d="M536.26,400.27L542.47,410.47L554.05,393.78L562.52,388.22L582.29,402.59L605.45,402.13L628.6,403.98L654.02,408.15" fill="none" stroke="#6f7fe0" stroke-width="1.05" stroke-linejoin="round"/>
<path d="M536.26,392.86L542.47,394.25L554.05,377.09L562.52,366.89L582.29,380.8L605.45,399.81L628.6,397.49L654.02,398.42" fill="none" stroke="#9a2a2a" stroke-width="1.05" stroke-linejoin="round"/>
<path d="M536.26,391.47L542.47,410.47L554.05,374.31L562.52,353.91L582.29,368.75L605.45,371.53L628.6,387.29L654.02,390.07" fill="none" stroke="#fca311" stroke-width="1.05" stroke-linejoin="round"/>
<path d="M536.26,391.93L542.47,410.47L554.05,375.24L562.52,380.8L582.29,380.8L605.45,395.17L628.6,397.03L654.02,399.81" fill="none" stroke="#ea6a2a" stroke-width="1.05" stroke-linejoin="round"/>
<path d="M536.26,394.71L542.47,407.69L554.05,372.92L562.52,357.16L582.29,368.75L605.45,391.93L628.6,397.03L654.02,401.66" fill="none" stroke="#a95ddc" stroke-width="1.05" stroke-linejoin="round"/>
<path d="M562.52,366.89V359.48M560.12,359.48H564.92" stroke="#2a2a2a" stroke-width="0.9" fill="none"/>
<path d="M536.26,391.47V384.51M533.86,384.51H538.66" stroke="#2a2a2a" stroke-width="0.9" fill="none"/>
<path d="M562.52,353.91V345.57M560.12,345.57H564.92" stroke="#2a2a2a" stroke-width="0.9" fill="none"/>
<path d="M605.45,371.53V359.01M603.05,359.01H607.85" stroke="#2a2a2a" stroke-width="0.9" fill="none"/>
<path d="M628.6,387.29V375.7M626.2,375.7H631" stroke="#2a2a2a" stroke-width="0.9" fill="none"/>
<path d="M654.02,390.07V384.51M651.62,384.51H656.42" stroke="#2a2a2a" stroke-width="0.9" fill="none"/>
<path d="M562.52,380.8V373.85M560.12,373.85H564.92" stroke="#2a2a2a" stroke-width="0.9" fill="none"/>
<path d="M554.05,372.92V362.72M551.65,362.72H556.45" stroke="#2a2a2a" stroke-width="0.9" fill="none"/>
<path d="M582.29,368.75V365.97M579.89,365.97H584.69" stroke="#2a2a2a" stroke-width="0.9" fill="none"/>
<path d="M605.45,391.93V389.61M603.05,389.61H607.85" stroke="#2a2a2a" stroke-width="0.9" fill="none"/>
<path d="M536.26,399.59L538.8,402.13L536.26,404.66L533.72,402.13Z" fill="#b0b0b0" stroke="#151515" stroke-width="0.85"/>
<path d="M542.47,407.94L545.01,410.47L542.47,413.01L539.93,410.47Z" fill="#b0b0b0" stroke="#151515" stroke-width="0.85"/>
<path d="M554.05,393.1L556.59,395.64L554.05,398.17L551.51,395.64Z" fill="#b0b0b0" stroke="#151515" stroke-width="0.85"/>
<path d="M562.52,400.05L565.06,402.59L562.52,405.13L559.99,402.59Z" fill="#b0b0b0" stroke="#151515" stroke-width="0.85"/>
<path d="M582.29,403.3L584.83,405.84L582.29,408.37L579.75,405.84Z" fill="#b0b0b0" stroke="#151515" stroke-width="0.85"/>
<path d="M605.45,404.69L607.98,407.23L605.45,409.76L602.91,407.23Z" fill="#b0b0b0" stroke="#151515" stroke-width="0.85"/>
<path d="M628.6,406.08L631.14,408.62L628.6,411.16L626.07,408.62Z" fill="#b0b0b0" stroke="#151515" stroke-width="0.85"/>
<path d="M654.02,406.55L656.56,409.08L654.02,411.62L651.48,409.08Z" fill="#b0b0b0" stroke="#151515" stroke-width="0.85"/>
<path d="M536.26,402.75L538.73,398.3L533.79,398.3Z" fill="#ffffff" stroke="#151515" stroke-width="0.85"/>
<path d="M542.47,412.95L544.94,408.49L540,408.49Z" fill="#ffffff" stroke="#151515" stroke-width="0.85"/>
<path d="M554.05,396.72L556.52,392.27L551.58,392.27Z" fill="#ffffff" stroke="#151515" stroke-width="0.85"/>
<path d="M562.52,399.5L564.99,395.05L560.05,395.05Z" fill="#ffffff" stroke="#151515" stroke-width="0.85"/>
<path d="M582.29,408.31L584.76,403.86L579.82,403.86Z" fill="#ffffff" stroke="#151515" stroke-width="0.85"/>
<path d="M605.45,409.24L607.92,404.79L602.97,404.79Z" fill="#ffffff" stroke="#151515" stroke-width="0.85"/>
<path d="M628.6,410.63L631.08,406.18L626.13,406.18Z" fill="#ffffff" stroke="#151515" stroke-width="0.85"/>
<path d="M654.02,411.09L656.49,406.64L651.55,406.64Z" fill="#ffffff" stroke="#151515" stroke-width="0.85"/>
<polygon points="538.31,402.28 536.26,403.35 534.21,402.28 534.21,400.13 536.26,399.05 538.31,400.13" fill="#b4daf6" stroke="#151515" stroke-width="0.85"/>
<polygon points="544.52,411.55 542.47,412.62 540.42,411.55 540.42,409.4 542.47,408.32 544.52,409.4" fill="#b4daf6" stroke="#151515" stroke-width="0.85"/>
<polygon points="556.1,407.38 554.05,408.45 552,407.38 552,405.23 554.05,404.15 556.1,405.23" fill="#b4daf6" stroke="#151515" stroke-width="0.85"/>
<polygon points="564.57,406.45 562.52,407.52 560.47,406.45 560.47,404.3 562.52,403.22 564.57,404.3" fill="#b4daf6" stroke="#151515" stroke-width="0.85"/>
<polygon points="584.34,411.08 582.29,412.16 580.24,411.08 580.24,408.93 582.29,407.86 584.34,408.93" fill="#b4daf6" stroke="#151515" stroke-width="0.85"/>
<polygon points="607.5,410.62 605.45,411.7 603.4,410.62 603.4,408.47 605.45,407.4 607.5,408.47" fill="#b4daf6" stroke="#151515" stroke-width="0.85"/>
<polygon points="630.65,409.69 628.6,410.77 626.56,409.69 626.56,407.54 628.6,406.47 630.65,407.54" fill="#b4daf6" stroke="#151515" stroke-width="0.85"/>
<polygon points="656.07,410.62 654.02,411.7 651.97,410.62 651.97,408.47 654.02,407.4 656.07,408.47" fill="#b4daf6" stroke="#151515" stroke-width="0.85"/>
<path d="M536.26,402.75L538.73,398.3L533.79,398.3Z" fill="#6f7fe0" stroke="#151515" stroke-width="0.85"/>
<path d="M542.47,412.95L544.94,408.49L540,408.49Z" fill="#6f7fe0" stroke="#151515" stroke-width="0.85"/>
<path d="M554.05,396.26L556.52,391.81L551.58,391.81Z" fill="#6f7fe0" stroke="#151515" stroke-width="0.85"/>
<path d="M562.52,390.69L564.99,386.24L560.05,386.24Z" fill="#6f7fe0" stroke="#151515" stroke-width="0.85"/>
<path d="M582.29,405.06L584.76,400.61L579.82,400.61Z" fill="#6f7fe0" stroke="#151515" stroke-width="0.85"/>
<path d="M605.45,404.6L607.92,400.15L602.97,400.15Z" fill="#6f7fe0" stroke="#151515" stroke-width="0.85"/>
<path d="M628.6,406.45L631.08,402L626.13,402Z" fill="#6f7fe0" stroke="#151515" stroke-width="0.85"/>
<path d="M654.02,410.63L656.49,406.18L651.55,406.18Z" fill="#6f7fe0" stroke="#151515" stroke-width="0.85"/>
<path d="M536.26,390.38L538.73,394.83L533.79,394.83Z" fill="#8b1010" stroke="#151515" stroke-width="0.85"/>
<path d="M542.47,391.77L544.94,396.22L540,396.22Z" fill="#8b1010" stroke="#151515" stroke-width="0.85"/>
<path d="M554.05,374.62L556.52,379.07L551.58,379.07Z" fill="#8b1010" stroke="#151515" stroke-width="0.85"/>
<path d="M562.52,364.42L564.99,368.87L560.05,368.87Z" fill="#8b1010" stroke="#151515" stroke-width="0.85"/>
<path d="M582.29,378.33L584.76,382.78L579.82,382.78Z" fill="#8b1010" stroke="#151515" stroke-width="0.85"/>
<path d="M605.45,397.34L607.92,401.79L602.97,401.79Z" fill="#8b1010" stroke="#151515" stroke-width="0.85"/>
<path d="M628.6,395.02L631.08,399.47L626.13,399.47Z" fill="#8b1010" stroke="#151515" stroke-width="0.85"/>
<path d="M654.02,395.95L656.49,400.4L651.55,400.4Z" fill="#8b1010" stroke="#151515" stroke-width="0.85"/>
<circle cx="536.26" cy="391.47" r="2.15" fill="#ffa40a" stroke="#151515" stroke-width="0.85"/>
<circle cx="542.47" cy="410.47" r="2.15" fill="#ffa40a" stroke="#151515" stroke-width="0.85"/>
<circle cx="554.05" cy="374.31" r="2.15" fill="#ffa40a" stroke="#151515" stroke-width="0.85"/>
<circle cx="562.52" cy="353.91" r="2.15" fill="#ffa40a" stroke="#151515" stroke-width="0.85"/>
<circle cx="582.29" cy="368.75" r="2.15" fill="#ffa40a" stroke="#151515" stroke-width="0.85"/>
<circle cx="605.45" cy="371.53" r="2.15" fill="#ffa40a" stroke="#151515" stroke-width="0.85"/>
<circle cx="628.6" cy="387.29" r="2.15" fill="#ffa40a" stroke="#151515" stroke-width="0.85"/>
<circle cx="654.02" cy="390.07" r="2.15" fill="#ffa40a" stroke="#151515" stroke-width="0.85"/>
<rect x="534.11" y="389.78" width="4.3" height="4.3" fill="#e8540f" stroke="#151515" stroke-width="0.85"/>
<rect x="540.32" y="408.32" width="4.3" height="4.3" fill="#e8540f" stroke="#151515" stroke-width="0.85"/>
<rect x="551.9" y="373.09" width="4.3" height="4.3" fill="#e8540f" stroke="#151515" stroke-width="0.85"/>
<rect x="560.37" y="378.65" width="4.3" height="4.3" fill="#e8540f" stroke="#151515" stroke-width="0.85"/>
<rect x="580.14" y="378.65" width="4.3" height="4.3" fill="#e8540f" stroke="#151515" stroke-width="0.85"/>
<rect x="603.3" y="393.02" width="4.3" height="4.3" fill="#e8540f" stroke="#151515" stroke-width="0.85"/>
<rect x="626.45" y="394.88" width="4.3" height="4.3" fill="#e8540f" stroke="#151515" stroke-width="0.85"/>
<rect x="651.87" y="397.66" width="4.3" height="4.3" fill="#e8540f" stroke="#151515" stroke-width="0.85"/>
<path d="M536.26,392.17L538.8,394.71L536.26,397.25L533.72,394.71Z" fill="#a04fd8" stroke="#151515" stroke-width="0.85"/>
<path d="M542.47,405.15L545.01,407.69L542.47,410.23L539.93,407.69Z" fill="#a04fd8" stroke="#151515" stroke-width="0.85"/>
<path d="M554.05,370.38L556.59,372.92L554.05,375.46L551.51,372.92Z" fill="#a04fd8" stroke="#151515" stroke-width="0.85"/>
<path d="M562.52,354.62L565.06,357.16L562.52,359.7L559.99,357.16Z" fill="#a04fd8" stroke="#151515" stroke-width="0.85"/>
<path d="M582.29,366.21L584.83,368.75L582.29,371.29L579.75,368.75Z" fill="#a04fd8" stroke="#151515" stroke-width="0.85"/>
<path d="M605.45,389.39L607.98,391.93L605.45,394.47L602.91,391.93Z" fill="#a04fd8" stroke="#151515" stroke-width="0.85"/>
<path d="M628.6,394.49L631.14,397.03L628.6,399.57L626.07,397.03Z" fill="#a04fd8" stroke="#151515" stroke-width="0.85"/>
<path d="M654.02,399.13L656.56,401.66L654.02,404.2L651.48,401.66Z" fill="#a04fd8" stroke="#151515" stroke-width="0.85"/>
<path d="M28.7,440.1V559H174.2" fill="none" stroke="#2c2c2c" stroke-width="1.05"/>
<line x1="25.8" y1="559" x2="28.7" y2="559" stroke="#2c2c2c" stroke-width="0.9"/>
<text x="25.2" y="562.3" font-size="7.8" text-anchor="end" textLength="4" lengthAdjust="spacingAndGlyphs">0</text>
<line x1="25.8" y1="535.32" x2="28.7" y2="535.32" stroke="#2c2c2c" stroke-width="0.9"/>
<text x="25.2" y="538.62" font-size="7.8" text-anchor="end" textLength="8.01" lengthAdjust="spacingAndGlyphs">50</text>
<line x1="25.8" y1="511.64" x2="28.7" y2="511.64" stroke="#2c2c2c" stroke-width="0.9"/>
<text x="25.2" y="514.94" font-size="7.8" text-anchor="end" textLength="12.01" lengthAdjust="spacingAndGlyphs">100</text>
<line x1="25.8" y1="487.96" x2="28.7" y2="487.96" stroke="#2c2c2c" stroke-width="0.9"/>
<text x="25.2" y="491.26" font-size="7.8" text-anchor="end" textLength="12.01" lengthAdjust="spacingAndGlyphs">150</text>
<line x1="25.8" y1="464.28" x2="28.7" y2="464.28" stroke="#2c2c2c" stroke-width="0.9"/>
<text x="25.2" y="467.58" font-size="7.8" text-anchor="end" textLength="12.01" lengthAdjust="spacingAndGlyphs">200</text>
<line x1="25.8" y1="440.6" x2="28.7" y2="440.6" stroke="#2c2c2c" stroke-width="0.9"/>
<text x="25.2" y="443.9" font-size="7.8" text-anchor="end" textLength="12.01" lengthAdjust="spacingAndGlyphs">250</text>
<line x1="28.7" y1="559" x2="28.7" y2="562.5" stroke="#2c2c2c" stroke-width="0.9"/>
<text x="28.7" y="570.2" font-size="7.6" text-anchor="middle" textLength="3.98" lengthAdjust="spacingAndGlyphs">0</text>
<line x1="77.03" y1="559" x2="77.03" y2="562.5" stroke="#2c2c2c" stroke-width="0.9"/>
<text x="77.03" y="570.2" font-size="7.6" text-anchor="middle" textLength="3.98" lengthAdjust="spacingAndGlyphs">5</text>
<line x1="125.37" y1="559" x2="125.37" y2="562.5" stroke="#2c2c2c" stroke-width="0.9"/>
<text x="125.37" y="570.2" font-size="7.6" text-anchor="middle" textLength="7.95" lengthAdjust="spacingAndGlyphs">10</text>
<line x1="173.7" y1="559" x2="173.7" y2="562.5" stroke="#2c2c2c" stroke-width="0.9"/>
<text x="173.7" y="570.2" font-size="7.6" text-anchor="middle" textLength="7.95" lengthAdjust="spacingAndGlyphs">15</text>
<text x="34.9" y="443.8" font-size="10.3">J1994_6</text>
<text x="34.9" y="456.4" font-size="10.3">G12V</text>
<path d="M37.4,566.5L39,570.1Q37.4,572.1 35.8,570.1Z" fill="#3a87d0"/>
<path d="M37.4,563.1L39,566.7Q37.4,568.7 35.8,566.7Z" fill="#f7941d"/>
<path d="M37.4,559.7L39,563.3Q37.4,565.3 35.8,563.3Z" fill="#ee2a24"/>
<path d="M44.17,559.7L45.77,563.3Q44.17,565.3 42.57,563.3Z" fill="#ee2a24"/>
<path d="M50.93,559.7L52.53,563.3Q50.93,565.3 49.33,563.3Z" fill="#ee2a24"/>
<path d="M57.7,563.1L59.3,566.7Q57.7,568.7 56.1,566.7Z" fill="#3a87d0"/>
<path d="M57.7,559.7L59.3,563.3Q57.7,565.3 56.1,563.3Z" fill="#ee2a24"/>
<path d="M86.7,563.1L88.3,566.7Q86.7,568.7 85.1,566.7Z" fill="#f7941d"/>
<path d="M86.7,559.7L88.3,563.3Q86.7,565.3 85.1,563.3Z" fill="#3a87d0"/>
<path d="M112.8,559.7L114.4,563.3Q112.8,565.3 111.2,563.3Z" fill="#3a87d0"/>
<path d="M144.7,559.7L146.3,563.3Q144.7,565.3 143.1,563.3Z" fill="#ee2a24"/>
<path d="M38.17,543.84L57.51,552.37L86.7,552.84L112.8,558.05L151.47,556.16" fill="none" stroke="#6a6a6a" stroke-width="1.05" stroke-linejoin="round"/>
<path d="M38.17,544.79L57.51,556.87L86.7,550.95L112.8,555.68L151.47,555.68" fill="none" stroke="#231f20" stroke-width="1.05" stroke-linejoin="round"/>
<path d="M38.17,539.11L57.51,505.01L86.7,516.85L112.8,541.48L151.47,544.79" fill="none" stroke="#b6dbf6" stroke-width="1.05" stroke-linejoin="round"/>
<path d="M38.17,535.79L57.51,549.53L86.7,547.16L112.8,553.79L151.47,540.06" fill="none" stroke="#6f7fe0" stroke-width="1.05" stroke-linejoin="round"/>
<path d="M38.17,549.05L57.51,510.69L86.7,499.33L112.8,532.48L151.47,531.53" fill="none" stroke="#9a2a2a" stroke-width="1.05" stroke-linejoin="round"/>
<path d="M38.17,542.42L57.51,523.95L86.7,519.22L112.8,534.37L151.47,544.79" fill="none" stroke="#fca311" stroke-width="1.05" stroke-linejoin="round"/>
<path d="M38.17,545.74L57.51,541L86.7,529.64L112.8,549.05L151.47,548.58" fill="none" stroke="#ea6a2a" stroke-width="1.05" stroke-linejoin="round"/>
<path d="M38.17,542.9L57.51,546.21L86.7,535.32L112.8,549.05L151.47,551.9" fill="none" stroke="#a95ddc" stroke-width="1.05" stroke-linejoin="round"/>
<path d="M57.51,505.01V499.8M55.11,499.8H59.91" stroke="#2a2a2a" stroke-width="0.9" fill="none"/>
<path d="M38.17,535.79V530.58M35.77,530.58H40.57" stroke="#2a2a2a" stroke-width="0.9" fill="none"/>
<path d="M86.7,499.33V487.96M84.3,487.96H89.1" stroke="#2a2a2a" stroke-width="0.9" fill="none"/>
<path d="M112.8,532.48V525.37M110.4,525.37H115.2" stroke="#2a2a2a" stroke-width="0.9" fill="none"/>
<path d="M151.47,531.53V527.27M149.07,527.27H153.87" stroke="#2a2a2a" stroke-width="0.9" fill="none"/>
<path d="M57.51,523.95V520.16M55.11,520.16H59.91" stroke="#2a2a2a" stroke-width="0.9" fill="none"/>
<path d="M86.7,519.22V504.54M84.3,504.54H89.1" stroke="#2a2a2a" stroke-width="0.9" fill="none"/>
<path d="M38.17,541.31L40.71,543.84L38.17,546.38L35.64,543.84Z" fill="#b0b0b0" stroke="#151515" stroke-width="0.85"/>
<path d="M57.51,549.83L60.04,552.37L57.51,554.91L54.97,552.37Z" fill="#b0b0b0" stroke="#151515" stroke-width="0.85"/>
<path d="M86.7,550.31L89.24,552.84L86.7,555.38L84.16,552.84Z" fill="#b0b0b0" stroke="#151515" stroke-width="0.85"/>
<path d="M112.8,555.52L115.34,558.05L112.8,560.59L110.26,558.05Z" fill="#b0b0b0" stroke="#151515" stroke-width="0.85"/>
<path d="M151.47,553.62L154,556.16L151.47,558.7L148.93,556.16Z" fill="#b0b0b0" stroke="#151515" stroke-width="0.85"/>
<path d="M38.17,547.26L40.65,542.81L35.7,542.81Z" fill="#ffffff" stroke="#151515" stroke-width="0.85"/>
<path d="M57.51,559.34L59.98,554.89L55.03,554.89Z" fill="#ffffff" stroke="#151515" stroke-width="0.85"/>
<path d="M86.7,553.42L89.17,548.97L84.23,548.97Z" fill="#ffffff" stroke="#151515" stroke-width="0.85"/>
<path d="M112.8,558.16L115.27,553.71L110.33,553.71Z" fill="#ffffff" stroke="#151515" stroke-width="0.85"/>
<path d="M151.47,558.16L153.94,553.71L148.99,553.71Z" fill="#ffffff" stroke="#151515" stroke-width="0.85"/>
<polygon points="40.22,540.18 38.17,541.26 36.13,540.18 36.13,538.03 38.17,536.96 40.22,538.03" fill="#b4daf6" stroke="#151515" stroke-width="0.85"/>
<polygon points="59.55,506.08 57.51,507.16 55.46,506.08 55.46,503.93 57.51,502.86 59.55,503.93" fill="#b4daf6" stroke="#151515" stroke-width="0.85"/>
<polygon points="88.75,517.92 86.7,519 84.65,517.92 84.65,515.77 86.7,514.7 88.75,515.77" fill="#b4daf6" stroke="#151515" stroke-width="0.85"/>
<polygon points="114.85,542.55 112.8,543.63 110.75,542.55 110.75,540.4 112.8,539.33 114.85,540.4" fill="#b4daf6" stroke="#151515" stroke-width="0.85"/>
<polygon points="153.51,545.87 151.47,546.94 149.42,545.87 149.42,543.72 151.47,542.64 153.51,543.72" fill="#b4daf6" stroke="#151515" stroke-width="0.85"/>
<path d="M38.17,538.27L40.65,533.82L35.7,533.82Z" fill="#6f7fe0" stroke="#151515" stroke-width="0.85"/>
<path d="M57.51,552L59.98,547.55L55.03,547.55Z" fill="#6f7fe0" stroke="#151515" stroke-width="0.85"/>
<path d="M86.7,549.63L89.17,545.18L84.23,545.18Z" fill="#6f7fe0" stroke="#151515" stroke-width="0.85"/>
<path d="M112.8,556.26L115.27,551.81L110.33,551.81Z" fill="#6f7fe0" stroke="#151515" stroke-width="0.85"/>
<path d="M151.47,542.53L153.94,538.08L148.99,538.08Z" fill="#6f7fe0" stroke="#151515" stroke-width="0.85"/>
<path d="M38.17,546.58L40.65,551.03L35.7,551.03Z" fill="#8b1010" stroke="#151515" stroke-width="0.85"/>
<path d="M57.51,508.22L59.98,512.67L55.03,512.67Z" fill="#8b1010" stroke="#151515" stroke-width="0.85"/>
<path d="M86.7,496.85L89.17,501.3L84.23,501.3Z" fill="#8b1010" stroke="#151515" stroke-width="0.85"/>
<path d="M112.8,530.01L115.27,534.46L110.33,534.46Z" fill="#8b1010" stroke="#151515" stroke-width="0.85"/>
<path d="M151.47,529.06L153.94,533.51L148.99,533.51Z" fill="#8b1010" stroke="#151515" stroke-width="0.85"/>
<circle cx="38.17" cy="542.42" r="2.15" fill="#ffa40a" stroke="#151515" stroke-width="0.85"/>
<circle cx="57.51" cy="523.95" r="2.15" fill="#ffa40a" stroke="#151515" stroke-width="0.85"/>
<circle cx="86.7" cy="519.22" r="2.15" fill="#ffa40a" stroke="#151515" stroke-width="0.85"/>
<circle cx="112.8" cy="534.37" r="2.15" fill="#ffa40a" stroke="#151515" stroke-width="0.85"/>
<circle cx="151.47" cy="544.79" r="2.15" fill="#ffa40a" stroke="#151515" stroke-width="0.85"/>
<rect x="36.02" y="543.59" width="4.3" height="4.3" fill="#e8540f" stroke="#151515" stroke-width="0.85"/>
<rect x="55.36" y="538.85" width="4.3" height="4.3" fill="#e8540f" stroke="#151515" stroke-width="0.85"/>
<rect x="84.55" y="527.49" width="4.3" height="4.3" fill="#e8540f" stroke="#151515" stroke-width="0.85"/>
<rect x="110.65" y="546.9" width="4.3" height="4.3" fill="#e8540f" stroke="#151515" stroke-width="0.85"/>
<rect x="149.32" y="546.43" width="4.3" height="4.3" fill="#e8540f" stroke="#151515" stroke-width="0.85"/>
<path d="M38.17,540.36L40.71,542.9L38.17,545.43L35.64,542.9Z" fill="#a04fd8" stroke="#151515" stroke-width="0.85"/>
<path d="M57.51,543.68L60.04,546.21L57.51,548.75L54.97,546.21Z" fill="#a04fd8" stroke="#151515" stroke-width="0.85"/>
<path d="M86.7,532.78L89.24,535.32L86.7,537.86L84.16,535.32Z" fill="#a04fd8" stroke="#151515" stroke-width="0.85"/>
<path d="M112.8,546.52L115.34,549.05L112.8,551.59L110.26,549.05Z" fill="#a04fd8" stroke="#151515" stroke-width="0.85"/>
<path d="M151.47,549.36L154,551.9L151.47,554.43L148.93,551.9Z" fill="#a04fd8" stroke="#151515" stroke-width="0.85"/>
<path d="M197.2,440.8V558.7H341.2" fill="none" stroke="#2c2c2c" stroke-width="1.05"/>
<line x1="194.3" y1="558.7" x2="197.2" y2="558.7" stroke="#2c2c2c" stroke-width="0.9"/>
<text x="193.7" y="562" font-size="7.8" text-anchor="end" textLength="4" lengthAdjust="spacingAndGlyphs">0</text>
<line x1="194.3" y1="535.22" x2="197.2" y2="535.22" stroke="#2c2c2c" stroke-width="0.9"/>
<text x="193.7" y="538.52" font-size="7.8" text-anchor="end" textLength="8.01" lengthAdjust="spacingAndGlyphs">50</text>
<line x1="194.3" y1="511.74" x2="197.2" y2="511.74" stroke="#2c2c2c" stroke-width="0.9"/>
<text x="193.7" y="515.04" font-size="7.8" text-anchor="end" textLength="12.01" lengthAdjust="spacingAndGlyphs">100</text>
<line x1="194.3" y1="488.26" x2="197.2" y2="488.26" stroke="#2c2c2c" stroke-width="0.9"/>
<text x="193.7" y="491.56" font-size="7.8" text-anchor="end" textLength="12.01" lengthAdjust="spacingAndGlyphs">150</text>
<line x1="194.3" y1="464.78" x2="197.2" y2="464.78" stroke="#2c2c2c" stroke-width="0.9"/>
<text x="193.7" y="468.08" font-size="7.8" text-anchor="end" textLength="12.01" lengthAdjust="spacingAndGlyphs">200</text>
<line x1="194.3" y1="441.3" x2="197.2" y2="441.3" stroke="#2c2c2c" stroke-width="0.9"/>
<text x="193.7" y="444.6" font-size="7.8" text-anchor="end" textLength="12.01" lengthAdjust="spacingAndGlyphs">250</text>
<line x1="197.2" y1="558.7" x2="197.2" y2="562.2" stroke="#2c2c2c" stroke-width="0.9"/>
<text x="197.2" y="569.9" font-size="7.6" text-anchor="middle" textLength="3.98" lengthAdjust="spacingAndGlyphs">0</text>
<line x1="225.9" y1="558.7" x2="225.9" y2="562.2" stroke="#2c2c2c" stroke-width="0.9"/>
<text x="225.9" y="569.9" font-size="7.6" text-anchor="middle" textLength="3.98" lengthAdjust="spacingAndGlyphs">2</text>
<line x1="254.6" y1="558.7" x2="254.6" y2="562.2" stroke="#2c2c2c" stroke-width="0.9"/>
<text x="254.6" y="569.9" font-size="7.6" text-anchor="middle" textLength="3.98" lengthAdjust="spacingAndGlyphs">4</text>
<line x1="283.3" y1="558.7" x2="283.3" y2="562.2" stroke="#2c2c2c" stroke-width="0.9"/>
<text x="283.3" y="569.9" font-size="7.6" text-anchor="middle" textLength="3.98" lengthAdjust="spacingAndGlyphs">6</text>
<line x1="312" y1="558.7" x2="312" y2="562.2" stroke="#2c2c2c" stroke-width="0.9"/>
<text x="312" y="569.9" font-size="7.6" text-anchor="middle" textLength="3.98" lengthAdjust="spacingAndGlyphs">8</text>
<line x1="340.7" y1="558.7" x2="340.7" y2="562.2" stroke="#2c2c2c" stroke-width="0.9"/>
<text x="340.7" y="569.9" font-size="7.6" text-anchor="middle" textLength="7.95" lengthAdjust="spacingAndGlyphs">10</text>
<text x="203.3" y="443.8" font-size="10.3">J1994_7</text>
<text x="203.3" y="456.3" font-size="10.3">G12V</text>
<path d="M211.26,566.2L212.86,569.8Q211.26,571.8 209.66,569.8Z" fill="#3a87d0"/>
<path d="M211.26,562.8L212.86,566.4Q211.26,568.4 209.66,566.4Z" fill="#f7941d"/>
<path d="M211.26,559.4L212.86,563Q211.26,565 209.66,563Z" fill="#ee2a24"/>
<path d="M225.9,559.4L227.5,563Q225.9,565 224.3,563Z" fill="#ee2a24"/>
<path d="M240.25,559.4L241.85,563Q240.25,565 238.65,563Z" fill="#ee2a24"/>
<path d="M254.6,562.8L256.2,566.4Q254.6,568.4 253,566.4Z" fill="#3a87d0"/>
<path d="M254.6,559.4L256.2,563Q254.6,565 253,563Z" fill="#ee2a24"/>
<path d="M293.35,562.8L294.95,566.4Q293.35,568.4 291.75,566.4Z" fill="#f7941d"/>
<path d="M293.35,559.4L294.95,563Q293.35,565 291.75,563Z" fill="#3a87d0"/>
<path d="M211.12,554.47L240.25,556.82L293.35,557.29L336.68,556.35" fill="none" stroke="#6a6a6a" stroke-width="1.05" stroke-linejoin="round"/>
<path d="M211.12,549.31L240.25,557.1L293.35,556.82L336.68,555.88" fill="none" stroke="#231f20" stroke-width="1.05" stroke-linejoin="round"/>
<path d="M211.12,554.94L240.25,547.43L293.35,554L336.68,550.25" fill="none" stroke="#b6dbf6" stroke-width="1.05" stroke-linejoin="round"/>
<path d="M211.12,555.88L240.25,546.49L293.35,552.6L336.68,535.22" fill="none" stroke="#6f7fe0" stroke-width="1.05" stroke-linejoin="round"/>
<path d="M211.12,554.94L240.25,518.31L293.35,531.93L336.68,517.84" fill="none" stroke="#9a2a2a" stroke-width="1.05" stroke-linejoin="round"/>
<path d="M211.12,554L240.25,525.83L293.35,497.18L336.68,479.34" fill="none" stroke="#fca311" stroke-width="1.05" stroke-linejoin="round"/>
<path d="M211.12,554.94L240.25,538.51L293.35,541.32L336.68,525.83" fill="none" stroke="#ea6a2a" stroke-width="1.05" stroke-linejoin="round"/>
<path d="M211.12,557.06L240.25,550.72L293.35,544.61L336.68,540.86" fill="none" stroke="#a95ddc" stroke-width="1.05" stroke-linejoin="round"/>
<path d="M336.68,550.25V545.55M334.28,545.55H339.08" stroke="#2a2a2a" stroke-width="0.9" fill="none"/>
<path d="M293.35,531.93V514.56M290.95,514.56H295.75" stroke="#2a2a2a" stroke-width="0.9" fill="none"/>
<path d="M336.68,517.84V513.15M334.28,513.15H339.08" stroke="#2a2a2a" stroke-width="0.9" fill="none"/>
<path d="M293.35,497.18V486.85M290.95,486.85H295.75" stroke="#2a2a2a" stroke-width="0.9" fill="none"/>
<path d="M336.68,479.34V455.86M334.28,455.86H339.08" stroke="#2a2a2a" stroke-width="0.9" fill="none"/>
<path d="M211.12,551.94L213.66,554.47L211.12,557.01L208.58,554.47Z" fill="#b0b0b0" stroke="#151515" stroke-width="0.85"/>
<path d="M240.25,554.28L242.79,556.82L240.25,559.36L237.71,556.82Z" fill="#b0b0b0" stroke="#151515" stroke-width="0.85"/>
<path d="M293.35,554.75L295.88,557.29L293.35,559.83L290.81,557.29Z" fill="#b0b0b0" stroke="#151515" stroke-width="0.85"/>
<path d="M336.68,553.82L339.22,556.35L336.68,558.89L334.15,556.35Z" fill="#b0b0b0" stroke="#151515" stroke-width="0.85"/>
<path d="M211.12,551.78L213.59,547.33L208.65,547.33Z" fill="#ffffff" stroke="#151515" stroke-width="0.85"/>
<path d="M240.25,559.58L242.72,555.13L237.78,555.13Z" fill="#ffffff" stroke="#151515" stroke-width="0.85"/>
<path d="M293.35,559.29L295.82,554.84L290.87,554.84Z" fill="#ffffff" stroke="#151515" stroke-width="0.85"/>
<path d="M336.68,558.35L339.15,553.9L334.21,553.9Z" fill="#ffffff" stroke="#151515" stroke-width="0.85"/>
<polygon points="213.17,556.02 211.12,557.09 209.07,556.02 209.07,553.87 211.12,552.79 213.17,553.87" fill="#b4daf6" stroke="#151515" stroke-width="0.85"/>
<polygon points="242.3,548.5 240.25,549.58 238.2,548.5 238.2,546.35 240.25,545.28 242.3,546.35" fill="#b4daf6" stroke="#151515" stroke-width="0.85"/>
<polygon points="295.39,555.08 293.35,556.15 291.3,555.08 291.3,552.93 293.35,551.85 295.39,552.93" fill="#b4daf6" stroke="#151515" stroke-width="0.85"/>
<polygon points="338.73,551.32 336.68,552.4 334.63,551.32 334.63,549.17 336.68,548.1 338.73,549.17" fill="#b4daf6" stroke="#151515" stroke-width="0.85"/>
<path d="M211.12,558.35L213.59,553.9L208.65,553.9Z" fill="#6f7fe0" stroke="#151515" stroke-width="0.85"/>
<path d="M240.25,548.96L242.72,544.51L237.78,544.51Z" fill="#6f7fe0" stroke="#151515" stroke-width="0.85"/>
<path d="M293.35,555.07L295.82,550.62L290.87,550.62Z" fill="#6f7fe0" stroke="#151515" stroke-width="0.85"/>
<path d="M336.68,537.69L339.15,533.24L334.21,533.24Z" fill="#6f7fe0" stroke="#151515" stroke-width="0.85"/>
<path d="M211.12,552.47L213.59,556.92L208.65,556.92Z" fill="#8b1010" stroke="#151515" stroke-width="0.85"/>
<path d="M240.25,515.84L242.72,520.29L237.78,520.29Z" fill="#8b1010" stroke="#151515" stroke-width="0.85"/>
<path d="M293.35,529.46L295.82,533.91L290.87,533.91Z" fill="#8b1010" stroke="#151515" stroke-width="0.85"/>
<path d="M336.68,515.37L339.15,519.82L334.21,519.82Z" fill="#8b1010" stroke="#151515" stroke-width="0.85"/>
<circle cx="211.12" cy="554" r="2.15" fill="#ffa40a" stroke="#151515" stroke-width="0.85"/>
<circle cx="240.25" cy="525.83" r="2.15" fill="#ffa40a" stroke="#151515" stroke-width="0.85"/>
<circle cx="293.35" cy="497.18" r="2.15" fill="#ffa40a" stroke="#151515" stroke-width="0.85"/>
<circle cx="336.68" cy="479.34" r="2.15" fill="#ffa40a" stroke="#151515" stroke-width="0.85"/>
<rect x="208.97" y="552.79" width="4.3" height="4.3" fill="#e8540f" stroke="#151515" stroke-width="0.85"/>
<rect x="238.1" y="536.36" width="4.3" height="4.3" fill="#e8540f" stroke="#151515" stroke-width="0.85"/>
<rect x="291.2" y="539.17" width="4.3" height="4.3" fill="#e8540f" stroke="#151515" stroke-width="0.85"/>
<rect x="334.53" y="523.68" width="4.3" height="4.3" fill="#e8540f" stroke="#151515" stroke-width="0.85"/>
<path d="M211.12,554.52L213.66,557.06L211.12,559.59L208.58,557.06Z" fill="#a04fd8" stroke="#151515" stroke-width="0.85"/>
<path d="M240.25,548.18L242.79,550.72L240.25,553.25L237.71,550.72Z" fill="#a04fd8" stroke="#151515" stroke-width="0.85"/>
<path d="M293.35,542.08L295.88,544.61L293.35,547.15L290.81,544.61Z" fill="#a04fd8" stroke="#151515" stroke-width="0.85"/>
<path d="M336.68,538.32L339.22,540.86L336.68,543.39L334.15,540.86Z" fill="#a04fd8" stroke="#151515" stroke-width="0.85"/>
<path d="M366.6,439.9V558.8H511.8" fill="none" stroke="#2c2c2c" stroke-width="1.05"/>
<line x1="363.7" y1="558.8" x2="366.6" y2="558.8" stroke="#2c2c2c" stroke-width="0.9"/>
<text x="363.1" y="562.1" font-size="7.8" text-anchor="end" textLength="4" lengthAdjust="spacingAndGlyphs">0</text>
<line x1="363.7" y1="535.12" x2="366.6" y2="535.12" stroke="#2c2c2c" stroke-width="0.9"/>
<text x="363.1" y="538.42" font-size="7.8" text-anchor="end" textLength="8.01" lengthAdjust="spacingAndGlyphs">50</text>
<line x1="363.7" y1="511.44" x2="366.6" y2="511.44" stroke="#2c2c2c" stroke-width="0.9"/>
<text x="363.1" y="514.74" font-size="7.8" text-anchor="end" textLength="12.01" lengthAdjust="spacingAndGlyphs">100</text>
<line x1="363.7" y1="487.76" x2="366.6" y2="487.76" stroke="#2c2c2c" stroke-width="0.9"/>
<text x="363.1" y="491.06" font-size="7.8" text-anchor="end" textLength="12.01" lengthAdjust="spacingAndGlyphs">150</text>
<line x1="363.7" y1="464.08" x2="366.6" y2="464.08" stroke="#2c2c2c" stroke-width="0.9"/>
<text x="363.1" y="467.38" font-size="7.8" text-anchor="end" textLength="12.01" lengthAdjust="spacingAndGlyphs">200</text>
<line x1="363.7" y1="440.4" x2="366.6" y2="440.4" stroke="#2c2c2c" stroke-width="0.9"/>
<text x="363.1" y="443.7" font-size="7.8" text-anchor="end" textLength="12.01" lengthAdjust="spacingAndGlyphs">250</text>
<line x1="366.6" y1="558.8" x2="366.6" y2="562.3" stroke="#2c2c2c" stroke-width="0.9"/>
<text x="366.6" y="570" font-size="7.6" text-anchor="middle" textLength="3.98" lengthAdjust="spacingAndGlyphs">0</text>
<line x1="402.78" y1="558.8" x2="402.78" y2="562.3" stroke="#2c2c2c" stroke-width="0.9"/>
<text x="402.78" y="570" font-size="7.6" text-anchor="middle" textLength="7.95" lengthAdjust="spacingAndGlyphs">10</text>
<line x1="438.95" y1="558.8" x2="438.95" y2="562.3" stroke="#2c2c2c" stroke-width="0.9"/>
<text x="438.95" y="570" font-size="7.6" text-anchor="middle" textLength="7.95" lengthAdjust="spacingAndGlyphs">20</text>
<line x1="475.12" y1="558.8" x2="475.12" y2="562.3" stroke="#2c2c2c" stroke-width="0.9"/>
<text x="475.12" y="570" font-size="7.6" text-anchor="middle" textLength="7.95" lengthAdjust="spacingAndGlyphs">30</text>
<line x1="511.3" y1="558.8" x2="511.3" y2="562.3" stroke="#2c2c2c" stroke-width="0.9"/>
<text x="511.3" y="570" font-size="7.6" text-anchor="middle" textLength="7.95" lengthAdjust="spacingAndGlyphs">40</text>
<text x="371.1" y="443.6" font-size="10.3">J1994_9</text>
<text x="371.1" y="455.9" font-size="10.3">G12V</text>
<path d="M366.96,566.3L368.56,569.9Q366.96,571.9 365.36,569.9Z" fill="#3a87d0"/>
<path d="M366.96,562.9L368.56,566.5Q366.96,568.5 365.36,566.5Z" fill="#f7941d"/>
<path d="M366.96,559.5L368.56,563.1Q366.96,565.1 365.36,563.1Z" fill="#ee2a24"/>
<path d="M369.49,559.5L371.09,563.1Q369.49,565.1 367.89,563.1Z" fill="#ee2a24"/>
<path d="M371.66,559.5L373.26,563.1Q371.66,565.1 370.06,563.1Z" fill="#ee2a24"/>
<path d="M376.01,562.9L377.61,566.5Q376.01,568.5 374.41,566.5Z" fill="#3a87d0"/>
<path d="M376.01,559.5L377.61,563.1Q376.01,565.1 374.41,563.1Z" fill="#ee2a24"/>
<path d="M387.94,562.9L389.54,566.5Q387.94,568.5 386.34,566.5Z" fill="#f7941d"/>
<path d="M387.94,559.5L389.54,563.1Q387.94,565.1 386.34,563.1Z" fill="#3a87d0"/>
<path d="M398.43,559.5L400.03,563.1Q398.43,565.1 396.83,563.1Z" fill="#3a87d0"/>
<path d="M412.54,562.9L414.14,566.5Q412.54,568.5 410.94,566.5Z" fill="#3a87d0"/>
<path d="M412.54,559.5L414.14,563.1Q412.54,565.1 410.94,563.1Z" fill="#ee2a24"/>
<path d="M423.03,559.5L424.63,563.1Q423.03,565.1 421.43,563.1Z" fill="#3a87d0"/>
<path d="M443.65,562.9L445.25,566.5Q443.65,568.5 442.05,566.5Z" fill="#3a87d0"/>
<path d="M443.65,559.5L445.25,563.1Q443.65,565.1 442.05,563.1Z" fill="#ee2a24"/>
<path d="M454.14,559.5L455.74,563.1Q454.14,565.1 452.54,563.1Z" fill="#3a87d0"/>
<path d="M471.51,562.9L473.11,566.5Q471.51,568.5 469.91,566.5Z" fill="#3a87d0"/>
<path d="M471.51,559.5L473.11,563.1Q471.51,565.1 469.91,563.1Z" fill="#ee2a24"/>
<path d="M370,557.38L377.09,555.48L388.31,557.85L399.52,557.85L424.84,555.96L453.78,554.54L483.08,554.06" fill="none" stroke="#6a6a6a" stroke-width="1.05" stroke-linejoin="round"/>
<path d="M370,556.91L377.09,550.28L388.31,557.38L399.52,557.38L424.84,550.28L453.78,549.8L483.08,549.33" fill="none" stroke="#231f20" stroke-width="1.05" stroke-linejoin="round"/>
<path d="M370,553.12L377.09,543.64L388.31,555.48L399.52,557.38L424.84,545.54L453.78,533.23L483.08,552.17" fill="none" stroke="#b6dbf6" stroke-width="1.05" stroke-linejoin="round"/>
<path d="M370,555.01L377.09,545.07L388.31,555.96L399.52,556.91L424.84,546.96L453.78,548.38L483.08,548.38" fill="none" stroke="#6f7fe0" stroke-width="1.05" stroke-linejoin="round"/>
<path d="M370,554.54L377.09,511.91L388.31,540.33L399.52,523.75L424.84,519.96L453.78,523.28L483.08,469.76" fill="none" stroke="#9a2a2a" stroke-width="1.05" stroke-linejoin="round"/>
<path d="M370,557.85L377.09,504.81L388.31,546.49L399.52,549.33L424.84,528.96L453.78,545.07L483.08,494.39" fill="none" stroke="#fca311" stroke-width="1.05" stroke-linejoin="round"/>
<path d="M370,555.96L377.09,535.12L388.31,551.7L399.52,549.33L424.84,543.64L453.78,545.07L483.08,543.17" fill="none" stroke="#ea6a2a" stroke-width="1.05" stroke-linejoin="round"/>
<path d="M370,550.75L377.09,539.86L388.31,554.3L399.52,553.59L424.84,542.7L453.78,546.96L483.08,539.86" fill="none" stroke="#a95ddc" stroke-width="1.05" stroke-linejoin="round"/>
<path d="M388.31,540.33V531.33M385.91,531.33H390.7" stroke="#2a2a2a" stroke-width="0.9" fill="none"/>
<path d="M399.52,523.75V515.23M397.12,515.23H401.92" stroke="#2a2a2a" stroke-width="0.9" fill="none"/>
<path d="M424.84,519.96V515.7M422.44,515.7H427.24" stroke="#2a2a2a" stroke-width="0.9" fill="none"/>
<path d="M483.08,469.76V456.98M480.68,456.98H485.48" stroke="#2a2a2a" stroke-width="0.9" fill="none"/>
<path d="M377.09,504.81V498.18M374.69,498.18H379.49" stroke="#2a2a2a" stroke-width="0.9" fill="none"/>
<path d="M399.52,549.33V544.59M397.12,544.59H401.92" stroke="#2a2a2a" stroke-width="0.9" fill="none"/>
<path d="M483.08,494.39V489.65M480.68,489.65H485.48" stroke="#2a2a2a" stroke-width="0.9" fill="none"/>
<path d="M370,550.75V546.49M367.6,546.49H372.4" stroke="#2a2a2a" stroke-width="0.9" fill="none"/>
<path d="M424.84,542.7V538.91M422.44,538.91H427.24" stroke="#2a2a2a" stroke-width="0.9" fill="none"/>
<path d="M483.08,539.86V535.59M480.68,535.59H485.48" stroke="#2a2a2a" stroke-width="0.9" fill="none"/>
<path d="M370,554.84L372.54,557.38L370,559.92L367.46,557.38Z" fill="#b0b0b0" stroke="#151515" stroke-width="0.85"/>
<path d="M377.09,552.95L379.63,555.48L377.09,558.02L374.55,555.48Z" fill="#b0b0b0" stroke="#151515" stroke-width="0.85"/>
<path d="M388.31,555.32L390.84,557.85L388.31,560.39L385.77,557.85Z" fill="#b0b0b0" stroke="#151515" stroke-width="0.85"/>
<path d="M399.52,555.32L402.06,557.85L399.52,560.39L396.98,557.85Z" fill="#b0b0b0" stroke="#151515" stroke-width="0.85"/>
<path d="M424.84,553.42L427.38,555.96L424.84,558.5L422.3,555.96Z" fill="#b0b0b0" stroke="#151515" stroke-width="0.85"/>
<path d="M453.78,552L456.32,554.54L453.78,557.07L451.24,554.54Z" fill="#b0b0b0" stroke="#151515" stroke-width="0.85"/>
<path d="M483.08,551.53L485.62,554.06L483.08,556.6L480.55,554.06Z" fill="#b0b0b0" stroke="#151515" stroke-width="0.85"/>
<path d="M370,559.38L372.47,554.93L367.53,554.93Z" fill="#ffffff" stroke="#151515" stroke-width="0.85"/>
<path d="M377.09,552.75L379.56,548.3L374.62,548.3Z" fill="#ffffff" stroke="#151515" stroke-width="0.85"/>
<path d="M388.31,559.85L390.78,555.4L385.83,555.4Z" fill="#ffffff" stroke="#151515" stroke-width="0.85"/>
<path d="M399.52,559.85L401.99,555.4L397.05,555.4Z" fill="#ffffff" stroke="#151515" stroke-width="0.85"/>
<path d="M424.84,552.75L427.31,548.3L422.37,548.3Z" fill="#ffffff" stroke="#151515" stroke-width="0.85"/>
<path d="M453.78,552.27L456.25,547.82L451.31,547.82Z" fill="#ffffff" stroke="#151515" stroke-width="0.85"/>
<path d="M483.08,551.8L485.56,547.35L480.61,547.35Z" fill="#ffffff" stroke="#151515" stroke-width="0.85"/>
<polygon points="372.05,554.19 370,555.27 367.95,554.19 367.95,552.04 370,550.97 372.05,552.04" fill="#b4daf6" stroke="#151515" stroke-width="0.85"/>
<polygon points="379.14,544.72 377.09,545.79 375.04,544.72 375.04,542.57 377.09,541.49 379.14,542.57" fill="#b4daf6" stroke="#151515" stroke-width="0.85"/>
<polygon points="390.35,556.56 388.31,557.63 386.26,556.56 386.26,554.41 388.31,553.33 390.35,554.41" fill="#b4daf6" stroke="#151515" stroke-width="0.85"/>
<polygon points="401.57,558.45 399.52,559.53 397.47,558.45 397.47,556.3 399.52,555.23 401.57,556.3" fill="#b4daf6" stroke="#151515" stroke-width="0.85"/>
<polygon points="426.89,546.61 424.84,547.69 422.79,546.61 422.79,544.46 424.84,543.39 426.89,544.46" fill="#b4daf6" stroke="#151515" stroke-width="0.85"/>
<polygon points="455.83,534.3 453.78,535.38 451.73,534.3 451.73,532.15 453.78,531.08 455.83,532.15" fill="#b4daf6" stroke="#151515" stroke-width="0.85"/>
<polygon points="485.13,553.24 483.08,554.32 481.04,553.24 481.04,551.09 483.08,550.02 485.13,551.09" fill="#b4daf6" stroke="#151515" stroke-width="0.85"/>
<path d="M370,557.48L372.47,553.03L367.53,553.03Z" fill="#6f7fe0" stroke="#151515" stroke-width="0.85"/>
<path d="M377.09,547.54L379.56,543.09L374.62,543.09Z" fill="#6f7fe0" stroke="#151515" stroke-width="0.85"/>
<path d="M388.31,558.43L390.78,553.98L385.83,553.98Z" fill="#6f7fe0" stroke="#151515" stroke-width="0.85"/>
<path d="M399.52,559.38L401.99,554.93L397.05,554.93Z" fill="#6f7fe0" stroke="#151515" stroke-width="0.85"/>
<path d="M424.84,549.43L427.31,544.98L422.37,544.98Z" fill="#6f7fe0" stroke="#151515" stroke-width="0.85"/>
<path d="M453.78,550.85L456.25,546.4L451.31,546.4Z" fill="#6f7fe0" stroke="#151515" stroke-width="0.85"/>
<path d="M483.08,550.85L485.56,546.4L480.61,546.4Z" fill="#6f7fe0" stroke="#151515" stroke-width="0.85"/>
<path d="M370,552.07L372.47,556.52L367.53,556.52Z" fill="#8b1010" stroke="#151515" stroke-width="0.85"/>
<path d="M377.09,509.44L379.56,513.89L374.62,513.89Z" fill="#8b1010" stroke="#151515" stroke-width="0.85"/>
<path d="M388.31,537.86L390.78,542.31L385.83,542.31Z" fill="#8b1010" stroke="#151515" stroke-width="0.85"/>
<path d="M399.52,521.28L401.99,525.73L397.05,525.73Z" fill="#8b1010" stroke="#151515" stroke-width="0.85"/>
<path d="M424.84,517.49L427.31,521.94L422.37,521.94Z" fill="#8b1010" stroke="#151515" stroke-width="0.85"/>
<path d="M453.78,520.81L456.25,525.26L451.31,525.26Z" fill="#8b1010" stroke="#151515" stroke-width="0.85"/>
<path d="M483.08,467.29L485.56,471.74L480.61,471.74Z" fill="#8b1010" stroke="#151515" stroke-width="0.85"/>
<circle cx="370" cy="557.85" r="2.15" fill="#ffa40a" stroke="#151515" stroke-width="0.85"/>
<circle cx="377.09" cy="504.81" r="2.15" fill="#ffa40a" stroke="#151515" stroke-width="0.85"/>
<circle cx="388.31" cy="546.49" r="2.15" fill="#ffa40a" stroke="#151515" stroke-width="0.85"/>
<circle cx="399.52" cy="549.33" r="2.15" fill="#ffa40a" stroke="#151515" stroke-width="0.85"/>
<circle cx="424.84" cy="528.96" r="2.15" fill="#ffa40a" stroke="#151515" stroke-width="0.85"/>
<circle cx="453.78" cy="545.07" r="2.15" fill="#ffa40a" stroke="#151515" stroke-width="0.85"/>
<circle cx="483.08" cy="494.39" r="2.15" fill="#ffa40a" stroke="#151515" stroke-width="0.85"/>
<rect x="367.85" y="553.81" width="4.3" height="4.3" fill="#e8540f" stroke="#151515" stroke-width="0.85"/>
<rect x="374.94" y="532.97" width="4.3" height="4.3" fill="#e8540f" stroke="#151515" stroke-width="0.85"/>
<rect x="386.16" y="549.55" width="4.3" height="4.3" fill="#e8540f" stroke="#151515" stroke-width="0.85"/>
<rect x="397.37" y="547.18" width="4.3" height="4.3" fill="#e8540f" stroke="#151515" stroke-width="0.85"/>
<rect x="422.69" y="541.49" width="4.3" height="4.3" fill="#e8540f" stroke="#151515" stroke-width="0.85"/>
<rect x="451.63" y="542.92" width="4.3" height="4.3" fill="#e8540f" stroke="#151515" stroke-width="0.85"/>
<rect x="480.93" y="541.02" width="4.3" height="4.3" fill="#e8540f" stroke="#151515" stroke-width="0.85"/>
<path d="M370,548.21L372.54,550.75L370,553.29L367.46,550.75Z" fill="#a04fd8" stroke="#151515" stroke-width="0.85"/>
<path d="M377.09,537.32L379.63,539.86L377.09,542.39L374.55,539.86Z" fill="#a04fd8" stroke="#151515" stroke-width="0.85"/>
<path d="M388.31,551.76L390.84,554.3L388.31,556.84L385.77,554.3Z" fill="#a04fd8" stroke="#151515" stroke-width="0.85"/>
<path d="M399.52,551.05L402.06,553.59L399.52,556.13L396.98,553.59Z" fill="#a04fd8" stroke="#151515" stroke-width="0.85"/>
<path d="M424.84,540.16L427.38,542.7L424.84,545.23L422.3,542.7Z" fill="#a04fd8" stroke="#151515" stroke-width="0.85"/>
<path d="M453.78,544.42L456.32,546.96L453.78,549.5L451.24,546.96Z" fill="#a04fd8" stroke="#151515" stroke-width="0.85"/>
<path d="M483.08,537.32L485.62,539.86L483.08,542.39L480.55,539.86Z" fill="#a04fd8" stroke="#151515" stroke-width="0.85"/>
<path d="M534.5,442.5V558.5H676.9" fill="none" stroke="#2c2c2c" stroke-width="1.05"/>
<line x1="531.6" y1="558.5" x2="534.5" y2="558.5" stroke="#2c2c2c" stroke-width="0.9"/>
<text x="531" y="561.8" font-size="7.8" text-anchor="end" textLength="4" lengthAdjust="spacingAndGlyphs">0</text>
<line x1="531.6" y1="535.4" x2="534.5" y2="535.4" stroke="#2c2c2c" stroke-width="0.9"/>
<text x="531" y="538.7" font-size="7.8" text-anchor="end" textLength="8.01" lengthAdjust="spacingAndGlyphs">50</text>
<line x1="531.6" y1="512.3" x2="534.5" y2="512.3" stroke="#2c2c2c" stroke-width="0.9"/>
<text x="531" y="515.6" font-size="7.8" text-anchor="end" textLength="12.01" lengthAdjust="spacingAndGlyphs">100</text>
<line x1="531.6" y1="489.2" x2="534.5" y2="489.2" stroke="#2c2c2c" stroke-width="0.9"/>
<text x="531" y="492.5" font-size="7.8" text-anchor="end" textLength="12.01" lengthAdjust="spacingAndGlyphs">150</text>
<line x1="531.6" y1="466.1" x2="534.5" y2="466.1" stroke="#2c2c2c" stroke-width="0.9"/>
<text x="531" y="469.4" font-size="7.8" text-anchor="end" textLength="12.01" lengthAdjust="spacingAndGlyphs">200</text>
<line x1="531.6" y1="443" x2="534.5" y2="443" stroke="#2c2c2c" stroke-width="0.9"/>
<text x="531" y="446.3" font-size="7.8" text-anchor="end" textLength="12.01" lengthAdjust="spacingAndGlyphs">250</text>
<line x1="534.5" y1="558.5" x2="534.5" y2="562" stroke="#2c2c2c" stroke-width="0.9"/>
<text x="534.5" y="569.7" font-size="7.6" text-anchor="middle" textLength="3.98" lengthAdjust="spacingAndGlyphs">0</text>
<line x1="569.98" y1="558.5" x2="569.98" y2="562" stroke="#2c2c2c" stroke-width="0.9"/>
<text x="569.98" y="569.7" font-size="7.6" text-anchor="middle" textLength="7.95" lengthAdjust="spacingAndGlyphs">10</text>
<line x1="605.45" y1="558.5" x2="605.45" y2="562" stroke="#2c2c2c" stroke-width="0.9"/>
<text x="605.45" y="569.7" font-size="7.6" text-anchor="middle" textLength="7.95" lengthAdjust="spacingAndGlyphs">20</text>
<line x1="640.92" y1="558.5" x2="640.92" y2="562" stroke="#2c2c2c" stroke-width="0.9"/>
<text x="640.92" y="569.7" font-size="7.6" text-anchor="middle" textLength="7.95" lengthAdjust="spacingAndGlyphs">30</text>
<line x1="676.4" y1="558.5" x2="676.4" y2="562" stroke="#2c2c2c" stroke-width="0.9"/>
<text x="676.4" y="569.7" font-size="7.6" text-anchor="middle" textLength="7.95" lengthAdjust="spacingAndGlyphs">40</text>
<text x="538.8" y="443.6" font-size="10.3">J1994_10</text>
<text x="538.8" y="455.7" font-size="10.3">G12D</text>
<path d="M536.63,566L538.23,569.6Q536.63,571.6 535.03,569.6Z" fill="#3a87d0"/>
<path d="M536.63,562.6L538.23,566.2Q536.63,568.2 535.03,566.2Z" fill="#f7941d"/>
<path d="M536.63,559.2L538.23,562.8Q536.63,564.8 535.03,562.8Z" fill="#ee2a24"/>
<path d="M540.89,559.2L542.49,562.8Q540.89,564.8 539.29,562.8Z" fill="#ee2a24"/>
<path d="M544.43,559.2L546.03,562.8Q544.43,564.8 542.83,562.8Z" fill="#ee2a24"/>
<path d="M548.34,562.6L549.94,566.2Q548.34,568.2 546.74,566.2Z" fill="#3a87d0"/>
<path d="M548.34,559.2L549.94,562.8Q548.34,564.8 546.74,562.8Z" fill="#ee2a24"/>
<path d="M558.27,562.6L559.87,566.2Q558.27,568.2 556.67,566.2Z" fill="#f7941d"/>
<path d="M558.27,559.2L559.87,562.8Q558.27,564.8 556.67,562.8Z" fill="#3a87d0"/>
<path d="M569.27,559.2L570.87,562.8Q569.27,564.8 567.67,562.8Z" fill="#3a87d0"/>
<path d="M583.46,559.2L585.06,562.8Q583.46,564.8 581.86,562.8Z" fill="#ee2a24"/>
<path d="M612.54,559.2L614.14,562.8Q612.54,564.8 610.94,562.8Z" fill="#ee2a24"/>
<path d="M640.22,559.2L641.82,562.8Q640.22,564.8 638.62,562.8Z" fill="#ee2a24"/>
<path d="M537.59,543.25L569.62,545.56L583.46,554.8L611.84,552.96L640.22,552.96L655.47,555.73" fill="none" stroke="#6a6a6a" stroke-width="1.05" stroke-linejoin="round"/>
<path d="M537.59,542.33L569.62,545.1L583.46,554.34L611.84,553.42L640.22,552.49L655.47,555.27" fill="none" stroke="#231f20" stroke-width="1.05" stroke-linejoin="round"/>
<path d="M537.59,532.17L569.62,544.18L583.46,556.19L611.84,553.88L640.22,553.88L655.47,555.27" fill="none" stroke="#b6dbf6" stroke-width="1.05" stroke-linejoin="round"/>
<path d="M537.59,542.79L569.62,546.95L583.46,554.8L611.84,554.34L640.22,554.34L655.47,555.27" fill="none" stroke="#6f7fe0" stroke-width="1.05" stroke-linejoin="round"/>
<path d="M537.59,539.56L569.62,530.32L583.46,550.18L611.84,540.94L640.22,543.25L655.47,550.18" fill="none" stroke="#9a2a2a" stroke-width="1.05" stroke-linejoin="round"/>
<path d="M537.59,540.94L569.62,528.93L583.46,551.57L611.84,528.01L640.22,534.94L655.47,552.96" fill="none" stroke="#fca311" stroke-width="1.05" stroke-linejoin="round"/>
<path d="M537.59,538.63L569.62,539.1L583.46,548.34L611.84,535.86L640.22,540.94L655.47,547.87" fill="none" stroke="#ea6a2a" stroke-width="1.05" stroke-linejoin="round"/>
<path d="M537.59,529.86L569.62,524.31L583.46,549.26L611.84,522L640.22,538.17L655.47,551.8" fill="none" stroke="#a95ddc" stroke-width="1.05" stroke-linejoin="round"/>
<path d="M611.84,553.42V551.57M609.44,551.57H614.24" stroke="#2a2a2a" stroke-width="0.9" fill="none"/>
<path d="M640.22,552.49V550.65M637.82,550.65H642.62" stroke="#2a2a2a" stroke-width="0.9" fill="none"/>
<path d="M655.47,547.87V539.1M653.07,539.1H657.87" stroke="#2a2a2a" stroke-width="0.9" fill="none"/>
<path d="M611.84,522V520.15M609.44,520.15H614.24" stroke="#2a2a2a" stroke-width="0.9" fill="none"/>
<path d="M537.59,540.72L540.12,543.25L537.59,545.79L535.05,543.25Z" fill="#b0b0b0" stroke="#151515" stroke-width="0.85"/>
<path d="M569.62,543.03L572.16,545.56L569.62,548.1L567.08,545.56Z" fill="#b0b0b0" stroke="#151515" stroke-width="0.85"/>
<path d="M583.46,552.27L585.99,554.8L583.46,557.34L580.92,554.8Z" fill="#b0b0b0" stroke="#151515" stroke-width="0.85"/>
<path d="M611.84,550.42L614.37,552.96L611.84,555.49L609.3,552.96Z" fill="#b0b0b0" stroke="#151515" stroke-width="0.85"/>
<path d="M640.22,550.42L642.75,552.96L640.22,555.49L637.68,552.96Z" fill="#b0b0b0" stroke="#151515" stroke-width="0.85"/>
<path d="M655.47,553.19L658.01,555.73L655.47,558.26L652.93,555.73Z" fill="#b0b0b0" stroke="#151515" stroke-width="0.85"/>
<path d="M537.59,544.8L540.06,540.35L535.11,540.35Z" fill="#ffffff" stroke="#151515" stroke-width="0.85"/>
<path d="M569.62,547.57L572.09,543.12L567.15,543.12Z" fill="#ffffff" stroke="#151515" stroke-width="0.85"/>
<path d="M583.46,556.81L585.93,552.36L580.98,552.36Z" fill="#ffffff" stroke="#151515" stroke-width="0.85"/>
<path d="M611.84,555.89L614.31,551.44L609.36,551.44Z" fill="#ffffff" stroke="#151515" stroke-width="0.85"/>
<path d="M640.22,554.97L642.69,550.52L637.74,550.52Z" fill="#ffffff" stroke="#151515" stroke-width="0.85"/>
<path d="M655.47,557.74L657.94,553.29L653,553.29Z" fill="#ffffff" stroke="#151515" stroke-width="0.85"/>
<polygon points="539.63,533.24 537.59,534.32 535.54,533.24 535.54,531.09 537.59,530.02 539.63,531.09" fill="#b4daf6" stroke="#151515" stroke-width="0.85"/>
<polygon points="571.67,545.25 569.62,546.33 567.57,545.25 567.57,543.1 569.62,542.03 571.67,543.1" fill="#b4daf6" stroke="#151515" stroke-width="0.85"/>
<polygon points="585.5,557.27 583.46,558.34 581.41,557.27 581.41,555.12 583.46,554.04 585.5,555.12" fill="#b4daf6" stroke="#151515" stroke-width="0.85"/>
<polygon points="613.88,554.96 611.84,556.03 609.79,554.96 609.79,552.8 611.84,551.73 613.88,552.8" fill="#b4daf6" stroke="#151515" stroke-width="0.85"/>
<polygon points="642.26,554.96 640.22,556.03 638.17,554.96 638.17,552.8 640.22,551.73 642.26,552.8" fill="#b4daf6" stroke="#151515" stroke-width="0.85"/>
<polygon points="657.52,556.34 655.47,557.42 653.42,556.34 653.42,554.19 655.47,553.12 657.52,554.19" fill="#b4daf6" stroke="#151515" stroke-width="0.85"/>
<path d="M537.59,545.26L540.06,540.81L535.11,540.81Z" fill="#6f7fe0" stroke="#151515" stroke-width="0.85"/>
<path d="M569.62,549.42L572.09,544.97L567.15,544.97Z" fill="#6f7fe0" stroke="#151515" stroke-width="0.85"/>
<path d="M583.46,557.28L585.93,552.83L580.98,552.83Z" fill="#6f7fe0" stroke="#151515" stroke-width="0.85"/>
<path d="M611.84,556.81L614.31,552.36L609.36,552.36Z" fill="#6f7fe0" stroke="#151515" stroke-width="0.85"/>
<path d="M640.22,556.81L642.69,552.36L637.74,552.36Z" fill="#6f7fe0" stroke="#151515" stroke-width="0.85"/>
<path d="M655.47,557.74L657.94,553.29L653,553.29Z" fill="#6f7fe0" stroke="#151515" stroke-width="0.85"/>
<path d="M537.59,537.09L540.06,541.54L535.11,541.54Z" fill="#8b1010" stroke="#151515" stroke-width="0.85"/>
<path d="M569.62,527.85L572.09,532.3L567.15,532.3Z" fill="#8b1010" stroke="#151515" stroke-width="0.85"/>
<path d="M583.46,547.71L585.93,552.16L580.98,552.16Z" fill="#8b1010" stroke="#151515" stroke-width="0.85"/>
<path d="M611.84,538.47L614.31,542.92L609.36,542.92Z" fill="#8b1010" stroke="#151515" stroke-width="0.85"/>
<path d="M640.22,540.78L642.69,545.23L637.74,545.23Z" fill="#8b1010" stroke="#151515" stroke-width="0.85"/>
<path d="M655.47,547.71L657.94,552.16L653,552.16Z" fill="#8b1010" stroke="#151515" stroke-width="0.85"/>
<circle cx="537.59" cy="540.94" r="2.15" fill="#ffa40a" stroke="#151515" stroke-width="0.85"/>
<circle cx="569.62" cy="528.93" r="2.15" fill="#ffa40a" stroke="#151515" stroke-width="0.85"/>
<circle cx="583.46" cy="551.57" r="2.15" fill="#ffa40a" stroke="#151515" stroke-width="0.85"/>
<circle cx="611.84" cy="528.01" r="2.15" fill="#ffa40a" stroke="#151515" stroke-width="0.85"/>
<circle cx="640.22" cy="534.94" r="2.15" fill="#ffa40a" stroke="#151515" stroke-width="0.85"/>
<circle cx="655.47" cy="552.96" r="2.15" fill="#ffa40a" stroke="#151515" stroke-width="0.85"/>
<rect x="535.44" y="536.48" width="4.3" height="4.3" fill="#e8540f" stroke="#151515" stroke-width="0.85"/>
<rect x="567.47" y="536.95" width="4.3" height="4.3" fill="#e8540f" stroke="#151515" stroke-width="0.85"/>
<rect x="581.31" y="546.19" width="4.3" height="4.3" fill="#e8540f" stroke="#151515" stroke-width="0.85"/>
<rect x="609.69" y="533.71" width="4.3" height="4.3" fill="#e8540f" stroke="#151515" stroke-width="0.85"/>
<rect x="638.07" y="538.79" width="4.3" height="4.3" fill="#e8540f" stroke="#151515" stroke-width="0.85"/>
<rect x="653.32" y="545.72" width="4.3" height="4.3" fill="#e8540f" stroke="#151515" stroke-width="0.85"/>
<path d="M537.59,527.32L540.12,529.86L537.59,532.39L535.05,529.86Z" fill="#a04fd8" stroke="#151515" stroke-width="0.85"/>
<path d="M569.62,521.77L572.16,524.31L569.62,526.85L567.08,524.31Z" fill="#a04fd8" stroke="#151515" stroke-width="0.85"/>
<path d="M583.46,546.72L585.99,549.26L583.46,551.8L580.92,549.26Z" fill="#a04fd8" stroke="#151515" stroke-width="0.85"/>
<path d="M611.84,519.46L614.37,522L611.84,524.54L609.3,522Z" fill="#a04fd8" stroke="#151515" stroke-width="0.85"/>
<path d="M640.22,535.63L642.75,538.17L640.22,540.71L637.68,538.17Z" fill="#a04fd8" stroke="#151515" stroke-width="0.85"/>
<path d="M655.47,549.26L658.01,551.8L655.47,554.34L652.93,551.8Z" fill="#a04fd8" stroke="#151515" stroke-width="0.85"/>
<path d="M29.8,586V702.4H172.7" fill="none" stroke="#2c2c2c" stroke-width="1.05"/>
<line x1="26.9" y1="702.4" x2="29.8" y2="702.4" stroke="#2c2c2c" stroke-width="0.9"/>
<text x="26.3" y="705.7" font-size="7.8" text-anchor="end" textLength="4" lengthAdjust="spacingAndGlyphs">0</text>
<line x1="26.9" y1="683.08" x2="29.8" y2="683.08" stroke="#2c2c2c" stroke-width="0.9"/>
<text x="26.3" y="686.38" font-size="7.8" text-anchor="end" textLength="12.01" lengthAdjust="spacingAndGlyphs">100</text>
<line x1="26.9" y1="663.77" x2="29.8" y2="663.77" stroke="#2c2c2c" stroke-width="0.9"/>
<text x="26.3" y="667.07" font-size="7.8" text-anchor="end" textLength="12.01" lengthAdjust="spacingAndGlyphs">200</text>
<line x1="26.9" y1="644.45" x2="29.8" y2="644.45" stroke="#2c2c2c" stroke-width="0.9"/>
<text x="26.3" y="647.75" font-size="7.8" text-anchor="end" textLength="12.01" lengthAdjust="spacingAndGlyphs">300</text>
<line x1="26.9" y1="625.13" x2="29.8" y2="625.13" stroke="#2c2c2c" stroke-width="0.9"/>
<text x="26.3" y="628.43" font-size="7.8" text-anchor="end" textLength="12.01" lengthAdjust="spacingAndGlyphs">400</text>
<line x1="26.9" y1="605.82" x2="29.8" y2="605.82" stroke="#2c2c2c" stroke-width="0.9"/>
<text x="26.3" y="609.12" font-size="7.8" text-anchor="end" textLength="12.01" lengthAdjust="spacingAndGlyphs">500</text>
<line x1="26.9" y1="586.5" x2="29.8" y2="586.5" stroke="#2c2c2c" stroke-width="0.9"/>
<text x="26.3" y="589.8" font-size="7.8" text-anchor="end" textLength="12.01" lengthAdjust="spacingAndGlyphs">600</text>
<line x1="29.8" y1="702.4" x2="29.8" y2="705.9" stroke="#2c2c2c" stroke-width="0.9"/>
<text x="29.8" y="713.6" font-size="7.6" text-anchor="middle" textLength="3.98" lengthAdjust="spacingAndGlyphs">0</text>
<line x1="77.27" y1="702.4" x2="77.27" y2="705.9" stroke="#2c2c2c" stroke-width="0.9"/>
<text x="77.27" y="713.6" font-size="7.6" text-anchor="middle" textLength="7.95" lengthAdjust="spacingAndGlyphs">10</text>
<line x1="124.73" y1="702.4" x2="124.73" y2="705.9" stroke="#2c2c2c" stroke-width="0.9"/>
<text x="124.73" y="713.6" font-size="7.6" text-anchor="middle" textLength="7.95" lengthAdjust="spacingAndGlyphs">20</text>
<line x1="172.2" y1="702.4" x2="172.2" y2="705.9" stroke="#2c2c2c" stroke-width="0.9"/>
<text x="172.2" y="713.6" font-size="7.6" text-anchor="middle" textLength="7.95" lengthAdjust="spacingAndGlyphs">30</text>
<text x="35.1" y="585.9" font-size="10.3">J1994_12</text>
<text x="35.1" y="598.6" font-size="10.3">G12R</text>
<path d="M34.07,709.9L35.67,713.5Q34.07,715.5 32.47,713.5Z" fill="#3a87d0"/>
<path d="M34.07,706.5L35.67,710.1Q34.07,712.1 32.47,710.1Z" fill="#f7941d"/>
<path d="M34.07,703.1L35.67,706.7Q34.07,708.7 32.47,706.7Z" fill="#ee2a24"/>
<path d="M38.82,703.1L40.42,706.7Q38.82,708.7 37.22,706.7Z" fill="#ee2a24"/>
<path d="M44.04,703.1L45.64,706.7Q44.04,708.7 42.44,706.7Z" fill="#ee2a24"/>
<path d="M47.84,706.5L49.44,710.1Q47.84,712.1 46.24,710.1Z" fill="#3a87d0"/>
<path d="M47.84,703.1L49.44,706.7Q47.84,708.7 46.24,706.7Z" fill="#ee2a24"/>
<path d="M64.45,706.5L66.05,710.1Q64.45,712.1 62.85,710.1Z" fill="#f7941d"/>
<path d="M64.45,703.1L66.05,706.7Q64.45,708.7 62.85,706.7Z" fill="#3a87d0"/>
<path d="M78.69,703.1L80.29,706.7Q78.69,708.7 77.09,706.7Z" fill="#3a87d0"/>
<path d="M88.66,703.1L90.26,706.7Q88.66,708.7 87.06,706.7Z" fill="#ee2a24"/>
<path d="M112.39,703.1L113.99,706.7Q112.39,708.7 110.79,706.7Z" fill="#3a87d0"/>
<path d="M131.38,706.5L132.98,710.1Q131.38,712.1 129.78,710.1Z" fill="#3a87d0"/>
<path d="M131.38,703.1L132.98,706.7Q131.38,708.7 129.78,706.7Z" fill="#ee2a24"/>
<path d="M150.37,703.1L151.97,706.7Q150.37,708.7 148.77,706.7Z" fill="#3a87d0"/>
<path d="M34.07,700.85L48.31,700.66L64.93,700.85L78.69,701.05L112.39,701.63L149.89,701.82" fill="none" stroke="#6a6a6a" stroke-width="1.05" stroke-linejoin="round"/>
<path d="M34.07,700.66L48.31,700.66L64.93,699.7L78.69,700.66L112.39,701.63L149.89,701.82" fill="none" stroke="#231f20" stroke-width="1.05" stroke-linejoin="round"/>
<path d="M34.07,700.66L48.31,695.83L64.93,694.48L78.69,693.13L112.39,696.22L149.89,696.99" fill="none" stroke="#b6dbf6" stroke-width="1.05" stroke-linejoin="round"/>
<path d="M34.07,700.66L48.31,695.45L64.93,690.04L78.69,689.65L112.39,689.26L149.89,698.15" fill="none" stroke="#6f7fe0" stroke-width="1.05" stroke-linejoin="round"/>
<path d="M34.07,700.85L48.31,671.88L64.93,668.79L78.69,677.87L112.39,685.59L149.89,689.65" fill="none" stroke="#9a2a2a" stroke-width="1.05" stroke-linejoin="round"/>
<path d="M34.07,700.66L48.31,649.09L64.93,635.76L78.69,635.37L112.39,613.54L149.89,654.69" fill="none" stroke="#fca311" stroke-width="1.05" stroke-linejoin="round"/>
<path d="M34.07,700.66L48.31,685.98L64.93,663.96L78.69,672.46L112.39,680.19L149.89,690.62" fill="none" stroke="#ea6a2a" stroke-width="1.05" stroke-linejoin="round"/>
<path d="M34.07,701.05L48.31,686.37L64.93,652.18L78.69,671.11L112.39,683.28L149.89,685.21" fill="none" stroke="#a95ddc" stroke-width="1.05" stroke-linejoin="round"/>
<path d="M48.31,671.88V668.79M45.91,668.79H50.71" stroke="#2a2a2a" stroke-width="0.9" fill="none"/>
<path d="M64.93,635.76V629M62.53,629H67.33" stroke="#2a2a2a" stroke-width="0.9" fill="none"/>
<path d="M78.69,635.37V626.29M76.29,626.29H81.09" stroke="#2a2a2a" stroke-width="0.9" fill="none"/>
<path d="M112.39,613.54V598.09M109.99,598.09H114.79" stroke="#2a2a2a" stroke-width="0.9" fill="none"/>
<path d="M64.93,663.96V658.36M62.53,658.36H67.33" stroke="#2a2a2a" stroke-width="0.9" fill="none"/>
<path d="M48.31,686.37V683.47M45.91,683.47H50.71" stroke="#2a2a2a" stroke-width="0.9" fill="none"/>
<path d="M64.93,652.18V644.06M62.53,644.06H67.33" stroke="#2a2a2a" stroke-width="0.9" fill="none"/>
<path d="M34.07,698.32L36.61,700.85L34.07,703.39L31.54,700.85Z" fill="#b0b0b0" stroke="#151515" stroke-width="0.85"/>
<path d="M48.31,698.12L50.85,700.66L48.31,703.2L45.77,700.66Z" fill="#b0b0b0" stroke="#151515" stroke-width="0.85"/>
<path d="M64.93,698.32L67.46,700.85L64.93,703.39L62.39,700.85Z" fill="#b0b0b0" stroke="#151515" stroke-width="0.85"/>
<path d="M78.69,698.51L81.23,701.05L78.69,703.58L76.15,701.05Z" fill="#b0b0b0" stroke="#151515" stroke-width="0.85"/>
<path d="M112.39,699.09L114.93,701.63L112.39,704.16L109.85,701.63Z" fill="#b0b0b0" stroke="#151515" stroke-width="0.85"/>
<path d="M149.89,699.28L152.43,701.82L149.89,704.36L147.35,701.82Z" fill="#b0b0b0" stroke="#151515" stroke-width="0.85"/>
<path d="M34.07,703.13L36.54,698.68L31.6,698.68Z" fill="#ffffff" stroke="#151515" stroke-width="0.85"/>
<path d="M48.31,703.13L50.78,698.68L45.84,698.68Z" fill="#ffffff" stroke="#151515" stroke-width="0.85"/>
<path d="M64.93,702.17L67.4,697.72L62.45,697.72Z" fill="#ffffff" stroke="#151515" stroke-width="0.85"/>
<path d="M78.69,703.13L81.16,698.68L76.22,698.68Z" fill="#ffffff" stroke="#151515" stroke-width="0.85"/>
<path d="M112.39,704.1L114.86,699.65L109.92,699.65Z" fill="#ffffff" stroke="#151515" stroke-width="0.85"/>
<path d="M149.89,704.29L152.36,699.84L147.42,699.84Z" fill="#ffffff" stroke="#151515" stroke-width="0.85"/>
<polygon points="36.12,701.74 34.07,702.81 32.02,701.74 32.02,699.59 34.07,698.51 36.12,699.59" fill="#b4daf6" stroke="#151515" stroke-width="0.85"/>
<polygon points="50.36,696.91 48.31,697.98 46.26,696.91 46.26,694.76 48.31,693.68 50.36,694.76" fill="#b4daf6" stroke="#151515" stroke-width="0.85"/>
<polygon points="66.97,695.56 64.93,696.63 62.88,695.56 62.88,693.41 64.93,692.33 66.97,693.41" fill="#b4daf6" stroke="#151515" stroke-width="0.85"/>
<polygon points="80.74,694.2 78.69,695.28 76.64,694.2 76.64,692.05 78.69,690.98 80.74,692.05" fill="#b4daf6" stroke="#151515" stroke-width="0.85"/>
<polygon points="114.44,697.29 112.39,698.37 110.34,697.29 110.34,695.14 112.39,694.07 114.44,695.14" fill="#b4daf6" stroke="#151515" stroke-width="0.85"/>
<polygon points="151.94,698.07 149.89,699.14 147.84,698.07 147.84,695.92 149.89,694.84 151.94,695.92" fill="#b4daf6" stroke="#151515" stroke-width="0.85"/>
<path d="M34.07,703.13L36.54,698.68L31.6,698.68Z" fill="#6f7fe0" stroke="#151515" stroke-width="0.85"/>
<path d="M48.31,697.92L50.78,693.47L45.84,693.47Z" fill="#6f7fe0" stroke="#151515" stroke-width="0.85"/>
<path d="M64.93,692.51L67.4,688.06L62.45,688.06Z" fill="#6f7fe0" stroke="#151515" stroke-width="0.85"/>
<path d="M78.69,692.12L81.16,687.67L76.22,687.67Z" fill="#6f7fe0" stroke="#151515" stroke-width="0.85"/>
<path d="M112.39,691.74L114.86,687.29L109.92,687.29Z" fill="#6f7fe0" stroke="#151515" stroke-width="0.85"/>
<path d="M149.89,700.62L152.36,696.17L147.42,696.17Z" fill="#6f7fe0" stroke="#151515" stroke-width="0.85"/>
<path d="M34.07,698.38L36.54,702.83L31.6,702.83Z" fill="#8b1010" stroke="#151515" stroke-width="0.85"/>
<path d="M48.31,669.41L50.78,673.86L45.84,673.86Z" fill="#8b1010" stroke="#151515" stroke-width="0.85"/>
<path d="M64.93,666.32L67.4,670.77L62.45,670.77Z" fill="#8b1010" stroke="#151515" stroke-width="0.85"/>
<path d="M78.69,675.4L81.16,679.85L76.22,679.85Z" fill="#8b1010" stroke="#151515" stroke-width="0.85"/>
<path d="M112.39,683.12L114.86,687.57L109.92,687.57Z" fill="#8b1010" stroke="#151515" stroke-width="0.85"/>
<path d="M149.89,687.18L152.36,691.63L147.42,691.63Z" fill="#8b1010" stroke="#151515" stroke-width="0.85"/>
<circle cx="34.07" cy="700.66" r="2.15" fill="#ffa40a" stroke="#151515" stroke-width="0.85"/>
<circle cx="48.31" cy="649.09" r="2.15" fill="#ffa40a" stroke="#151515" stroke-width="0.85"/>
<circle cx="64.93" cy="635.76" r="2.15" fill="#ffa40a" stroke="#151515" stroke-width="0.85"/>
<circle cx="78.69" cy="635.37" r="2.15" fill="#ffa40a" stroke="#151515" stroke-width="0.85"/>
<circle cx="112.39" cy="613.54" r="2.15" fill="#ffa40a" stroke="#151515" stroke-width="0.85"/>
<circle cx="149.89" cy="654.69" r="2.15" fill="#ffa40a" stroke="#151515" stroke-width="0.85"/>
<rect x="31.92" y="698.51" width="4.3" height="4.3" fill="#e8540f" stroke="#151515" stroke-width="0.85"/>
<rect x="46.16" y="683.83" width="4.3" height="4.3" fill="#e8540f" stroke="#151515" stroke-width="0.85"/>
<rect x="62.78" y="661.81" width="4.3" height="4.3" fill="#e8540f" stroke="#151515" stroke-width="0.85"/>
<rect x="76.54" y="670.31" width="4.3" height="4.3" fill="#e8540f" stroke="#151515" stroke-width="0.85"/>
<rect x="110.24" y="678.04" width="4.3" height="4.3" fill="#e8540f" stroke="#151515" stroke-width="0.85"/>
<rect x="147.74" y="688.47" width="4.3" height="4.3" fill="#e8540f" stroke="#151515" stroke-width="0.85"/>
<path d="M34.07,698.51L36.61,701.05L34.07,703.58L31.54,701.05Z" fill="#a04fd8" stroke="#151515" stroke-width="0.85"/>
<path d="M48.31,683.83L50.85,686.37L48.31,688.9L45.77,686.37Z" fill="#a04fd8" stroke="#151515" stroke-width="0.85"/>
<path d="M64.93,649.64L67.46,652.18L64.93,654.71L62.39,652.18Z" fill="#a04fd8" stroke="#151515" stroke-width="0.85"/>
<path d="M78.69,668.57L81.23,671.11L78.69,673.64L76.15,671.11Z" fill="#a04fd8" stroke="#151515" stroke-width="0.85"/>
<path d="M112.39,680.74L114.93,683.28L112.39,685.81L109.85,683.28Z" fill="#a04fd8" stroke="#151515" stroke-width="0.85"/>
<path d="M149.89,682.67L152.43,685.21L149.89,687.75L147.35,685.21Z" fill="#a04fd8" stroke="#151515" stroke-width="0.85"/>
<path d="M197.2,584.4V703H343.5" fill="none" stroke="#2c2c2c" stroke-width="1.05"/>
<line x1="194.3" y1="703" x2="197.2" y2="703" stroke="#2c2c2c" stroke-width="0.9"/>
<text x="193.7" y="706.3" font-size="7.8" text-anchor="end" textLength="4" lengthAdjust="spacingAndGlyphs">0</text>
<line x1="194.3" y1="679.38" x2="197.2" y2="679.38" stroke="#2c2c2c" stroke-width="0.9"/>
<text x="193.7" y="682.68" font-size="7.8" text-anchor="end" textLength="8.01" lengthAdjust="spacingAndGlyphs">50</text>
<line x1="194.3" y1="655.76" x2="197.2" y2="655.76" stroke="#2c2c2c" stroke-width="0.9"/>
<text x="193.7" y="659.06" font-size="7.8" text-anchor="end" textLength="12.01" lengthAdjust="spacingAndGlyphs">100</text>
<line x1="194.3" y1="632.14" x2="197.2" y2="632.14" stroke="#2c2c2c" stroke-width="0.9"/>
<text x="193.7" y="635.44" font-size="7.8" text-anchor="end" textLength="12.01" lengthAdjust="spacingAndGlyphs">150</text>
<line x1="194.3" y1="608.52" x2="197.2" y2="608.52" stroke="#2c2c2c" stroke-width="0.9"/>
<text x="193.7" y="611.82" font-size="7.8" text-anchor="end" textLength="12.01" lengthAdjust="spacingAndGlyphs">200</text>
<line x1="194.3" y1="584.9" x2="197.2" y2="584.9" stroke="#2c2c2c" stroke-width="0.9"/>
<text x="193.7" y="588.2" font-size="7.8" text-anchor="end" textLength="12.01" lengthAdjust="spacingAndGlyphs">250</text>
<line x1="197.2" y1="703" x2="197.2" y2="706.5" stroke="#2c2c2c" stroke-width="0.9"/>
<text x="197.2" y="714.2" font-size="7.6" text-anchor="middle" textLength="3.98" lengthAdjust="spacingAndGlyphs">0</text>
<line x1="226.36" y1="703" x2="226.36" y2="706.5" stroke="#2c2c2c" stroke-width="0.9"/>
<text x="226.36" y="714.2" font-size="7.6" text-anchor="middle" textLength="3.98" lengthAdjust="spacingAndGlyphs">2</text>
<line x1="255.52" y1="703" x2="255.52" y2="706.5" stroke="#2c2c2c" stroke-width="0.9"/>
<text x="255.52" y="714.2" font-size="7.6" text-anchor="middle" textLength="3.98" lengthAdjust="spacingAndGlyphs">4</text>
<line x1="284.68" y1="703" x2="284.68" y2="706.5" stroke="#2c2c2c" stroke-width="0.9"/>
<text x="284.68" y="714.2" font-size="7.6" text-anchor="middle" textLength="3.98" lengthAdjust="spacingAndGlyphs">6</text>
<line x1="313.84" y1="703" x2="313.84" y2="706.5" stroke="#2c2c2c" stroke-width="0.9"/>
<text x="313.84" y="714.2" font-size="7.6" text-anchor="middle" textLength="3.98" lengthAdjust="spacingAndGlyphs">8</text>
<line x1="343" y1="703" x2="343" y2="706.5" stroke="#2c2c2c" stroke-width="0.9"/>
<text x="343" y="714.2" font-size="7.6" text-anchor="middle" textLength="7.95" lengthAdjust="spacingAndGlyphs">10</text>
<text x="201.2" y="585.9" font-size="10.3">J1994_13</text>
<text x="201.2" y="598.6" font-size="10.3">G12D</text>
<path d="M210.76,710.5L212.36,714.1Q210.76,716.1 209.16,714.1Z" fill="#3a87d0"/>
<path d="M210.76,707.1L212.36,710.7Q210.76,712.7 209.16,710.7Z" fill="#f7941d"/>
<path d="M210.76,703.7L212.36,707.3Q210.76,709.3 209.16,707.3Z" fill="#ee2a24"/>
<path d="M226.36,703.7L227.96,707.3Q226.36,709.3 224.76,707.3Z" fill="#ee2a24"/>
<path d="M240.94,703.7L242.54,707.3Q240.94,709.3 239.34,707.3Z" fill="#ee2a24"/>
<path d="M255.52,707.1L257.12,710.7Q255.52,712.7 253.92,710.7Z" fill="#3a87d0"/>
<path d="M255.52,703.7L257.12,707.3Q255.52,709.3 253.92,707.3Z" fill="#ee2a24"/>
<path d="M303.63,707.1L305.23,710.7Q303.63,712.7 302.03,710.7Z" fill="#f7941d"/>
<path d="M303.63,703.7L305.23,707.3Q303.63,709.3 302.03,707.3Z" fill="#3a87d0"/>
<path d="M211.78,699.69L240.94,703L303.63,699.69" fill="none" stroke="#6a6a6a" stroke-width="1.05" stroke-linejoin="round"/>
<path d="M211.78,699.22L240.94,697.33L303.63,698.75" fill="none" stroke="#231f20" stroke-width="1.05" stroke-linejoin="round"/>
<path d="M211.78,695.91L240.94,699.69L303.63,698.28" fill="none" stroke="#b6dbf6" stroke-width="1.05" stroke-linejoin="round"/>
<path d="M211.78,696.86L240.94,697.8L303.63,696.86" fill="none" stroke="#6f7fe0" stroke-width="1.05" stroke-linejoin="round"/>
<path d="M211.78,698.28L240.94,678.44L303.63,695.91" fill="none" stroke="#9a2a2a" stroke-width="1.05" stroke-linejoin="round"/>
<path d="M211.78,698.75L240.94,692.61L303.63,698.75" fill="none" stroke="#fca311" stroke-width="1.05" stroke-linejoin="round"/>
<path d="M211.78,697.8L240.94,693.08L303.63,699.22" fill="none" stroke="#ea6a2a" stroke-width="1.05" stroke-linejoin="round"/>
<path d="M211.78,693.08L240.94,691.66L303.63,696.39" fill="none" stroke="#a95ddc" stroke-width="1.05" stroke-linejoin="round"/>
<path d="M240.94,678.44V672.77M238.54,672.77H243.34" stroke="#2a2a2a" stroke-width="0.9" fill="none"/>
<path d="M211.78,693.08V687.88M209.38,687.88H214.18" stroke="#2a2a2a" stroke-width="0.9" fill="none"/>
<path d="M211.78,697.16L214.32,699.69L211.78,702.23L209.24,699.69Z" fill="#b0b0b0" stroke="#151515" stroke-width="0.85"/>
<path d="M240.94,700.46L243.48,703L240.94,705.54L238.4,703Z" fill="#b0b0b0" stroke="#151515" stroke-width="0.85"/>
<path d="M303.63,697.16L306.17,699.69L303.63,702.23L301.1,699.69Z" fill="#b0b0b0" stroke="#151515" stroke-width="0.85"/>
<path d="M211.78,701.69L214.25,697.24L209.31,697.24Z" fill="#ffffff" stroke="#151515" stroke-width="0.85"/>
<path d="M240.94,699.8L243.41,695.35L238.47,695.35Z" fill="#ffffff" stroke="#151515" stroke-width="0.85"/>
<path d="M303.63,701.22L306.11,696.77L301.16,696.77Z" fill="#ffffff" stroke="#151515" stroke-width="0.85"/>
<polygon points="213.83,696.99 211.78,698.06 209.73,696.99 209.73,694.84 211.78,693.76 213.83,694.84" fill="#b4daf6" stroke="#151515" stroke-width="0.85"/>
<polygon points="242.99,700.77 240.94,701.84 238.89,700.77 238.89,698.62 240.94,697.54 242.99,698.62" fill="#b4daf6" stroke="#151515" stroke-width="0.85"/>
<polygon points="305.68,699.35 303.63,700.43 301.59,699.35 301.59,697.2 303.63,696.13 305.68,697.2" fill="#b4daf6" stroke="#151515" stroke-width="0.85"/>
<path d="M211.78,699.33L214.25,694.88L209.31,694.88Z" fill="#6f7fe0" stroke="#151515" stroke-width="0.85"/>
<path d="M240.94,700.28L243.41,695.83L238.47,695.83Z" fill="#6f7fe0" stroke="#151515" stroke-width="0.85"/>
<path d="M303.63,699.33L306.11,694.88L301.16,694.88Z" fill="#6f7fe0" stroke="#151515" stroke-width="0.85"/>
<path d="M211.78,695.8L214.25,700.25L209.31,700.25Z" fill="#8b1010" stroke="#151515" stroke-width="0.85"/>
<path d="M240.94,675.96L243.41,680.41L238.47,680.41Z" fill="#8b1010" stroke="#151515" stroke-width="0.85"/>
<path d="M303.63,693.44L306.11,697.89L301.16,697.89Z" fill="#8b1010" stroke="#151515" stroke-width="0.85"/>
<circle cx="211.78" cy="698.75" r="2.15" fill="#ffa40a" stroke="#151515" stroke-width="0.85"/>
<circle cx="240.94" cy="692.61" r="2.15" fill="#ffa40a" stroke="#151515" stroke-width="0.85"/>
<circle cx="303.63" cy="698.75" r="2.15" fill="#ffa40a" stroke="#151515" stroke-width="0.85"/>
<rect x="209.63" y="695.65" width="4.3" height="4.3" fill="#e8540f" stroke="#151515" stroke-width="0.85"/>
<rect x="238.79" y="690.93" width="4.3" height="4.3" fill="#e8540f" stroke="#151515" stroke-width="0.85"/>
<rect x="301.48" y="697.07" width="4.3" height="4.3" fill="#e8540f" stroke="#151515" stroke-width="0.85"/>
<path d="M211.78,690.54L214.32,693.08L211.78,695.62L209.24,693.08Z" fill="#a04fd8" stroke="#151515" stroke-width="0.85"/>
<path d="M240.94,689.13L243.48,691.66L240.94,694.2L238.4,691.66Z" fill="#a04fd8" stroke="#151515" stroke-width="0.85"/>
<path d="M303.63,693.85L306.17,696.39L303.63,698.92L301.1,696.39Z" fill="#a04fd8" stroke="#151515" stroke-width="0.85"/>
<path d="M365.6,584.9V703.4H511" fill="none" stroke="#2c2c2c" stroke-width="1.05"/>
<line x1="362.7" y1="703.4" x2="365.6" y2="703.4" stroke="#2c2c2c" stroke-width="0.9"/>
<text x="362.1" y="706.7" font-size="7.8" text-anchor="end" textLength="4" lengthAdjust="spacingAndGlyphs">0</text>
<line x1="362.7" y1="679.8" x2="365.6" y2="679.8" stroke="#2c2c2c" stroke-width="0.9"/>
<text x="362.1" y="683.1" font-size="7.8" text-anchor="end" textLength="8.01" lengthAdjust="spacingAndGlyphs">50</text>
<line x1="362.7" y1="656.2" x2="365.6" y2="656.2" stroke="#2c2c2c" stroke-width="0.9"/>
<text x="362.1" y="659.5" font-size="7.8" text-anchor="end" textLength="12.01" lengthAdjust="spacingAndGlyphs">100</text>
<line x1="362.7" y1="632.6" x2="365.6" y2="632.6" stroke="#2c2c2c" stroke-width="0.9"/>
<text x="362.1" y="635.9" font-size="7.8" text-anchor="end" textLength="12.01" lengthAdjust="spacingAndGlyphs">150</text>
<line x1="362.7" y1="609" x2="365.6" y2="609" stroke="#2c2c2c" stroke-width="0.9"/>
<text x="362.1" y="612.3" font-size="7.8" text-anchor="end" textLength="12.01" lengthAdjust="spacingAndGlyphs">200</text>
<line x1="362.7" y1="585.4" x2="365.6" y2="585.4" stroke="#2c2c2c" stroke-width="0.9"/>
<text x="362.1" y="588.7" font-size="7.8" text-anchor="end" textLength="12.01" lengthAdjust="spacingAndGlyphs">250</text>
<line x1="365.6" y1="703.4" x2="365.6" y2="706.9" stroke="#2c2c2c" stroke-width="0.9"/>
<text x="365.6" y="714.6" font-size="7.6" text-anchor="middle" textLength="3.98" lengthAdjust="spacingAndGlyphs">0</text>
<line x1="394.58" y1="703.4" x2="394.58" y2="706.9" stroke="#2c2c2c" stroke-width="0.9"/>
<text x="394.58" y="714.6" font-size="7.6" text-anchor="middle" textLength="7.95" lengthAdjust="spacingAndGlyphs">10</text>
<line x1="423.56" y1="703.4" x2="423.56" y2="706.9" stroke="#2c2c2c" stroke-width="0.9"/>
<text x="423.56" y="714.6" font-size="7.6" text-anchor="middle" textLength="7.95" lengthAdjust="spacingAndGlyphs">20</text>
<line x1="452.54" y1="703.4" x2="452.54" y2="706.9" stroke="#2c2c2c" stroke-width="0.9"/>
<text x="452.54" y="714.6" font-size="7.6" text-anchor="middle" textLength="7.95" lengthAdjust="spacingAndGlyphs">30</text>
<line x1="481.52" y1="703.4" x2="481.52" y2="706.9" stroke="#2c2c2c" stroke-width="0.9"/>
<text x="481.52" y="714.6" font-size="7.6" text-anchor="middle" textLength="7.95" lengthAdjust="spacingAndGlyphs">40</text>
<line x1="510.5" y1="703.4" x2="510.5" y2="706.9" stroke="#2c2c2c" stroke-width="0.9"/>
<text x="510.5" y="714.6" font-size="7.6" text-anchor="middle" textLength="7.95" lengthAdjust="spacingAndGlyphs">50</text>
<text x="371.1" y="585.9" font-size="10.3">J1994_14</text>
<text x="371.1" y="598.6" font-size="10.3">G12V</text>
<path d="M366.03,710.9L367.63,714.5Q366.03,716.5 364.43,714.5Z" fill="#3a87d0"/>
<path d="M366.03,707.5L367.63,711.1Q366.03,713.1 364.43,711.1Z" fill="#f7941d"/>
<path d="M366.03,704.1L367.63,707.7Q366.03,709.7 364.43,707.7Z" fill="#ee2a24"/>
<path d="M368.79,704.1L370.39,707.7Q368.79,709.7 367.19,707.7Z" fill="#ee2a24"/>
<path d="M370.82,704.1L372.42,707.7Q370.82,709.7 369.22,707.7Z" fill="#ee2a24"/>
<path d="M373.71,707.5L375.31,711.1Q373.71,713.1 372.11,711.1Z" fill="#3a87d0"/>
<path d="M373.71,704.1L375.31,707.7Q373.71,709.7 372.11,707.7Z" fill="#ee2a24"/>
<path d="M382.12,707.5L383.72,711.1Q382.12,713.1 380.52,711.1Z" fill="#f7941d"/>
<path d="M382.12,704.1L383.72,707.7Q382.12,709.7 380.52,707.7Z" fill="#3a87d0"/>
<path d="M394.29,704.1L395.89,707.7Q394.29,709.7 392.69,707.7Z" fill="#3a87d0"/>
<path d="M401.54,707.5L403.14,711.1Q401.54,713.1 399.94,711.1Z" fill="#3a87d0"/>
<path d="M401.54,704.1L403.14,707.7Q401.54,709.7 399.94,707.7Z" fill="#ee2a24"/>
<path d="M411.1,704.1L412.7,707.7Q411.1,709.7 409.5,707.7Z" fill="#3a87d0"/>
<path d="M428.2,707.5L429.8,711.1Q428.2,713.1 426.6,711.1Z" fill="#3a87d0"/>
<path d="M428.2,704.1L429.8,707.7Q428.2,709.7 426.6,707.7Z" fill="#ee2a24"/>
<path d="M438.05,704.1L439.65,707.7Q438.05,709.7 436.45,707.7Z" fill="#3a87d0"/>
<path d="M446.45,707.5L448.05,711.1Q446.45,713.1 444.85,711.1Z" fill="#3a87d0"/>
<path d="M446.45,704.1L448.05,707.7Q446.45,709.7 444.85,707.7Z" fill="#ee2a24"/>
<path d="M456.89,704.1L458.49,707.7Q456.89,709.7 455.29,707.7Z" fill="#3a87d0"/>
<path d="M477.75,707.5L479.35,711.1Q477.75,713.1 476.15,711.1Z" fill="#3a87d0"/>
<path d="M477.75,704.1L479.35,707.7Q477.75,709.7 476.15,707.7Z" fill="#ee2a24"/>
<path d="M483.84,704.1L485.44,707.7Q483.84,709.7 482.24,707.7Z" fill="#3a87d0"/>
<path d="M496.88,707.5L498.48,711.1Q496.88,713.1 495.28,711.1Z" fill="#3a87d0"/>
<path d="M496.88,704.1L498.48,707.7Q496.88,709.7 495.28,707.7Z" fill="#ee2a24"/>
<path d="M367.63,700.1L373.71,703.4L382.41,699.15L391.39,699.62L411.1,701.98L456.89,699.62L477.46,694.9L500.07,703.4" fill="none" stroke="#6a6a6a" stroke-width="1.05" stroke-linejoin="round"/>
<path d="M367.63,699.15L373.71,696.32L382.41,697.26L391.39,698.68L411.1,701.98L456.89,698.21L477.46,694.43L500.07,699.62" fill="none" stroke="#231f20" stroke-width="1.05" stroke-linejoin="round"/>
<path d="M367.63,700.57L373.71,697.74L382.41,696.79L391.39,696.32L411.1,689.71L456.89,695.85L477.46,694.43L500.07,694.43" fill="none" stroke="#b6dbf6" stroke-width="1.05" stroke-linejoin="round"/>
<path d="M367.63,699.62L373.71,696.79L382.41,693.96L391.39,694.9L411.1,693.96L456.89,695.38L477.46,682.16L500.07,693.02" fill="none" stroke="#6f7fe0" stroke-width="1.05" stroke-linejoin="round"/>
<path d="M367.63,697.74L373.71,683.58L382.41,689.24L391.39,695.85L411.1,693.96L456.89,686.88L477.46,673.66L500.07,684.99" fill="none" stroke="#9a2a2a" stroke-width="1.05" stroke-linejoin="round"/>
<path d="M367.63,696.79L373.71,654.31L382.41,652.9L391.39,682.16L411.1,642.51L456.89,644.4L477.46,600.5L500.07,617.02" fill="none" stroke="#fca311" stroke-width="1.05" stroke-linejoin="round"/>
<path d="M367.63,698.68L373.71,687.35L382.41,691.13L391.39,693.96L411.1,697.74L456.89,690.18L477.46,656.67L500.07,688.3" fill="none" stroke="#ea6a2a" stroke-width="1.05" stroke-linejoin="round"/>
<path d="M367.63,701.98L373.71,695.85L382.41,684.99L391.39,697.74L411.1,686.41L456.89,693.49L477.46,675.08L500.07,680.74" fill="none" stroke="#a95ddc" stroke-width="1.05" stroke-linejoin="round"/>
<path d="M373.71,683.58V676.5M371.31,676.5H376.11" stroke="#2a2a2a" stroke-width="0.9" fill="none"/>
<path d="M456.89,686.88V682.16M454.49,682.16H459.29" stroke="#2a2a2a" stroke-width="0.9" fill="none"/>
<path d="M477.46,673.66V670.36M475.06,670.36H479.86" stroke="#2a2a2a" stroke-width="0.9" fill="none"/>
<path d="M373.71,654.31V650.06M371.31,650.06H376.11" stroke="#2a2a2a" stroke-width="0.9" fill="none"/>
<path d="M382.41,652.9V637.79M380.01,637.79H384.81" stroke="#2a2a2a" stroke-width="0.9" fill="none"/>
<path d="M391.39,682.16V677.91M388.99,677.91H393.79" stroke="#2a2a2a" stroke-width="0.9" fill="none"/>
<path d="M411.1,642.51V620.33M408.7,620.33H413.5" stroke="#2a2a2a" stroke-width="0.9" fill="none"/>
<path d="M456.89,644.4V631.66M454.49,631.66H459.29" stroke="#2a2a2a" stroke-width="0.9" fill="none"/>
<path d="M477.46,600.5V590.12M475.06,590.12H479.86" stroke="#2a2a2a" stroke-width="0.9" fill="none"/>
<path d="M500.07,617.02V607.11M497.67,607.11H502.47" stroke="#2a2a2a" stroke-width="0.9" fill="none"/>
<path d="M477.46,656.67V654.31M475.06,654.31H479.86" stroke="#2a2a2a" stroke-width="0.9" fill="none"/>
<path d="M382.41,684.99V682.63M380.01,682.63H384.81" stroke="#2a2a2a" stroke-width="0.9" fill="none"/>
<path d="M411.1,686.41V684.05M408.7,684.05H413.5" stroke="#2a2a2a" stroke-width="0.9" fill="none"/>
<path d="M500.07,680.74V677.91M497.67,677.91H502.47" stroke="#2a2a2a" stroke-width="0.9" fill="none"/>
<path d="M367.63,697.56L370.17,700.1L367.63,702.63L365.09,700.1Z" fill="#b0b0b0" stroke="#151515" stroke-width="0.85"/>
<path d="M373.71,700.86L376.25,703.4L373.71,705.94L371.18,703.4Z" fill="#b0b0b0" stroke="#151515" stroke-width="0.85"/>
<path d="M382.41,696.61L384.95,699.15L382.41,701.69L379.87,699.15Z" fill="#b0b0b0" stroke="#151515" stroke-width="0.85"/>
<path d="M391.39,697.09L393.93,699.62L391.39,702.16L388.86,699.62Z" fill="#b0b0b0" stroke="#151515" stroke-width="0.85"/>
<path d="M411.1,699.45L413.64,701.98L411.1,704.52L408.56,701.98Z" fill="#b0b0b0" stroke="#151515" stroke-width="0.85"/>
<path d="M456.89,697.09L459.42,699.62L456.89,702.16L454.35,699.62Z" fill="#b0b0b0" stroke="#151515" stroke-width="0.85"/>
<path d="M477.46,692.37L480,694.9L477.46,697.44L474.93,694.9Z" fill="#b0b0b0" stroke="#151515" stroke-width="0.85"/>
<path d="M500.07,700.86L502.6,703.4L500.07,705.94L497.53,703.4Z" fill="#b0b0b0" stroke="#151515" stroke-width="0.85"/>
<path d="M367.63,701.62L370.1,697.17L365.16,697.17Z" fill="#ffffff" stroke="#151515" stroke-width="0.85"/>
<path d="M373.71,698.79L376.19,694.34L371.24,694.34Z" fill="#ffffff" stroke="#151515" stroke-width="0.85"/>
<path d="M382.41,699.74L384.88,695.29L379.94,695.29Z" fill="#ffffff" stroke="#151515" stroke-width="0.85"/>
<path d="M391.39,701.15L393.86,696.7L388.92,696.7Z" fill="#ffffff" stroke="#151515" stroke-width="0.85"/>
<path d="M411.1,704.46L413.57,700.01L408.63,700.01Z" fill="#ffffff" stroke="#151515" stroke-width="0.85"/>
<path d="M456.89,700.68L459.36,696.23L454.41,696.23Z" fill="#ffffff" stroke="#151515" stroke-width="0.85"/>
<path d="M477.46,696.9L479.94,692.45L474.99,692.45Z" fill="#ffffff" stroke="#151515" stroke-width="0.85"/>
<path d="M500.07,702.1L502.54,697.65L497.59,697.65Z" fill="#ffffff" stroke="#151515" stroke-width="0.85"/>
<polygon points="369.68,701.64 367.63,702.72 365.58,701.64 365.58,699.49 367.63,698.42 369.68,699.49" fill="#b4daf6" stroke="#151515" stroke-width="0.85"/>
<polygon points="375.76,698.81 373.71,699.89 371.67,698.81 371.67,696.66 373.71,695.59 375.76,696.66" fill="#b4daf6" stroke="#151515" stroke-width="0.85"/>
<polygon points="384.46,697.87 382.41,698.94 380.36,697.87 380.36,695.72 382.41,694.64 384.46,695.72" fill="#b4daf6" stroke="#151515" stroke-width="0.85"/>
<polygon points="393.44,697.39 391.39,698.47 389.34,697.39 389.34,695.24 391.39,694.17 393.44,695.24" fill="#b4daf6" stroke="#151515" stroke-width="0.85"/>
<polygon points="413.15,690.79 411.1,691.86 409.05,690.79 409.05,688.64 411.1,687.56 413.15,688.64" fill="#b4daf6" stroke="#151515" stroke-width="0.85"/>
<polygon points="458.94,696.92 456.89,698 454.84,696.92 454.84,694.77 456.89,693.7 458.94,694.77" fill="#b4daf6" stroke="#151515" stroke-width="0.85"/>
<polygon points="479.51,695.51 477.46,696.58 475.41,695.51 475.41,693.36 477.46,692.28 479.51,693.36" fill="#b4daf6" stroke="#151515" stroke-width="0.85"/>
<polygon points="502.12,695.51 500.07,696.58 498.02,695.51 498.02,693.36 500.07,692.28 502.12,693.36" fill="#b4daf6" stroke="#151515" stroke-width="0.85"/>
<path d="M367.63,702.1L370.1,697.65L365.16,697.65Z" fill="#6f7fe0" stroke="#151515" stroke-width="0.85"/>
<path d="M373.71,699.26L376.19,694.81L371.24,694.81Z" fill="#6f7fe0" stroke="#151515" stroke-width="0.85"/>
<path d="M382.41,696.43L384.88,691.98L379.94,691.98Z" fill="#6f7fe0" stroke="#151515" stroke-width="0.85"/>
<path d="M391.39,697.38L393.86,692.93L388.92,692.93Z" fill="#6f7fe0" stroke="#151515" stroke-width="0.85"/>
<path d="M411.1,696.43L413.57,691.98L408.63,691.98Z" fill="#6f7fe0" stroke="#151515" stroke-width="0.85"/>
<path d="M456.89,697.85L459.36,693.4L454.41,693.4Z" fill="#6f7fe0" stroke="#151515" stroke-width="0.85"/>
<path d="M477.46,684.63L479.94,680.18L474.99,680.18Z" fill="#6f7fe0" stroke="#151515" stroke-width="0.85"/>
<path d="M500.07,695.49L502.54,691.04L497.59,691.04Z" fill="#6f7fe0" stroke="#151515" stroke-width="0.85"/>
<path d="M367.63,695.26L370.1,699.71L365.16,699.71Z" fill="#8b1010" stroke="#151515" stroke-width="0.85"/>
<path d="M373.71,681.1L376.19,685.55L371.24,685.55Z" fill="#8b1010" stroke="#151515" stroke-width="0.85"/>
<path d="M382.41,686.77L384.88,691.22L379.94,691.22Z" fill="#8b1010" stroke="#151515" stroke-width="0.85"/>
<path d="M391.39,693.38L393.86,697.83L388.92,697.83Z" fill="#8b1010" stroke="#151515" stroke-width="0.85"/>
<path d="M411.1,691.49L413.57,695.94L408.63,695.94Z" fill="#8b1010" stroke="#151515" stroke-width="0.85"/>
<path d="M456.89,684.41L459.36,688.86L454.41,688.86Z" fill="#8b1010" stroke="#151515" stroke-width="0.85"/>
<path d="M477.46,671.19L479.94,675.64L474.99,675.64Z" fill="#8b1010" stroke="#151515" stroke-width="0.85"/>
<path d="M500.07,682.52L502.54,686.97L497.59,686.97Z" fill="#8b1010" stroke="#151515" stroke-width="0.85"/>
<circle cx="367.63" cy="696.79" r="2.15" fill="#ffa40a" stroke="#151515" stroke-width="0.85"/>
<circle cx="373.71" cy="654.31" r="2.15" fill="#ffa40a" stroke="#151515" stroke-width="0.85"/>
<circle cx="382.41" cy="652.9" r="2.15" fill="#ffa40a" stroke="#151515" stroke-width="0.85"/>
<circle cx="391.39" cy="682.16" r="2.15" fill="#ffa40a" stroke="#151515" stroke-width="0.85"/>
<circle cx="411.1" cy="642.51" r="2.15" fill="#ffa40a" stroke="#151515" stroke-width="0.85"/>
<circle cx="456.89" cy="644.4" r="2.15" fill="#ffa40a" stroke="#151515" stroke-width="0.85"/>
<circle cx="477.46" cy="600.5" r="2.15" fill="#ffa40a" stroke="#151515" stroke-width="0.85"/>
<circle cx="500.07" cy="617.02" r="2.15" fill="#ffa40a" stroke="#151515" stroke-width="0.85"/>
<rect x="365.48" y="696.53" width="4.3" height="4.3" fill="#e8540f" stroke="#151515" stroke-width="0.85"/>
<rect x="371.56" y="685.2" width="4.3" height="4.3" fill="#e8540f" stroke="#151515" stroke-width="0.85"/>
<rect x="380.26" y="688.98" width="4.3" height="4.3" fill="#e8540f" stroke="#151515" stroke-width="0.85"/>
<rect x="389.24" y="691.81" width="4.3" height="4.3" fill="#e8540f" stroke="#151515" stroke-width="0.85"/>
<rect x="408.95" y="695.59" width="4.3" height="4.3" fill="#e8540f" stroke="#151515" stroke-width="0.85"/>
<rect x="454.74" y="688.03" width="4.3" height="4.3" fill="#e8540f" stroke="#151515" stroke-width="0.85"/>
<rect x="475.31" y="654.52" width="4.3" height="4.3" fill="#e8540f" stroke="#151515" stroke-width="0.85"/>
<rect x="497.92" y="686.15" width="4.3" height="4.3" fill="#e8540f" stroke="#151515" stroke-width="0.85"/>
<path d="M367.63,699.45L370.17,701.98L367.63,704.52L365.09,701.98Z" fill="#a04fd8" stroke="#151515" stroke-width="0.85"/>
<path d="M373.71,693.31L376.25,695.85L373.71,698.38L371.18,695.85Z" fill="#a04fd8" stroke="#151515" stroke-width="0.85"/>
<path d="M382.41,682.45L384.95,684.99L382.41,687.53L379.87,684.99Z" fill="#a04fd8" stroke="#151515" stroke-width="0.85"/>
<path d="M391.39,695.2L393.93,697.74L391.39,700.27L388.86,697.74Z" fill="#a04fd8" stroke="#151515" stroke-width="0.85"/>
<path d="M411.1,683.87L413.64,686.41L411.1,688.95L408.56,686.41Z" fill="#a04fd8" stroke="#151515" stroke-width="0.85"/>
<path d="M456.89,690.95L459.42,693.49L456.89,696.02L454.35,693.49Z" fill="#a04fd8" stroke="#151515" stroke-width="0.85"/>
<path d="M477.46,672.54L480,675.08L477.46,677.62L474.93,675.08Z" fill="#a04fd8" stroke="#151515" stroke-width="0.85"/>
<path d="M500.07,678.21L502.6,680.74L500.07,683.28L497.53,680.74Z" fill="#a04fd8" stroke="#151515" stroke-width="0.85"/>
<path d="M533.9,585.9V703.6H677.5" fill="none" stroke="#2c2c2c" stroke-width="1.05"/>
<line x1="531" y1="703.6" x2="533.9" y2="703.6" stroke="#2c2c2c" stroke-width="0.9"/>
<text x="530.4" y="706.9" font-size="7.8" text-anchor="end" textLength="4" lengthAdjust="spacingAndGlyphs">0</text>
<line x1="531" y1="680.16" x2="533.9" y2="680.16" stroke="#2c2c2c" stroke-width="0.9"/>
<text x="530.4" y="683.46" font-size="7.8" text-anchor="end" textLength="8.01" lengthAdjust="spacingAndGlyphs">50</text>
<line x1="531" y1="656.72" x2="533.9" y2="656.72" stroke="#2c2c2c" stroke-width="0.9"/>
<text x="530.4" y="660.02" font-size="7.8" text-anchor="end" textLength="12.01" lengthAdjust="spacingAndGlyphs">100</text>
<line x1="531" y1="633.28" x2="533.9" y2="633.28" stroke="#2c2c2c" stroke-width="0.9"/>
<text x="530.4" y="636.58" font-size="7.8" text-anchor="end" textLength="12.01" lengthAdjust="spacingAndGlyphs">150</text>
<line x1="531" y1="609.84" x2="533.9" y2="609.84" stroke="#2c2c2c" stroke-width="0.9"/>
<text x="530.4" y="613.14" font-size="7.8" text-anchor="end" textLength="12.01" lengthAdjust="spacingAndGlyphs">200</text>
<line x1="531" y1="586.4" x2="533.9" y2="586.4" stroke="#2c2c2c" stroke-width="0.9"/>
<text x="530.4" y="589.7" font-size="7.8" text-anchor="end" textLength="12.01" lengthAdjust="spacingAndGlyphs">250</text>
<line x1="534.4" y1="703.6" x2="534.4" y2="707.1" stroke="#2c2c2c" stroke-width="0.9"/>
<text x="534.4" y="714.8" font-size="7.6" text-anchor="middle" textLength="3.98" lengthAdjust="spacingAndGlyphs">0</text>
<line x1="581.93" y1="703.6" x2="581.93" y2="707.1" stroke="#2c2c2c" stroke-width="0.9"/>
<text x="581.93" y="714.8" font-size="7.6" text-anchor="middle" textLength="7.95" lengthAdjust="spacingAndGlyphs">10</text>
<line x1="629.47" y1="703.6" x2="629.47" y2="707.1" stroke="#2c2c2c" stroke-width="0.9"/>
<text x="629.47" y="714.8" font-size="7.6" text-anchor="middle" textLength="7.95" lengthAdjust="spacingAndGlyphs">20</text>
<line x1="677" y1="703.6" x2="677" y2="707.1" stroke="#2c2c2c" stroke-width="0.9"/>
<text x="677" y="714.8" font-size="7.6" text-anchor="middle" textLength="7.95" lengthAdjust="spacingAndGlyphs">30</text>
<text x="540.8" y="586.4" font-size="10.3">J1994_18</text>
<text x="540.8" y="599.1" font-size="10.3">G12D</text>
<path d="M537.73,711.1L539.33,714.7Q537.73,716.7 536.13,714.7Z" fill="#3a87d0"/>
<path d="M537.73,707.7L539.33,711.3Q537.73,713.3 536.13,711.3Z" fill="#f7941d"/>
<path d="M537.73,704.3L539.33,707.9Q537.73,709.9 536.13,707.9Z" fill="#ee2a24"/>
<path d="M541.53,704.3L543.13,707.9Q541.53,709.9 539.93,707.9Z" fill="#ee2a24"/>
<path d="M544.38,704.3L545.98,707.9Q544.38,709.9 542.78,707.9Z" fill="#ee2a24"/>
<path d="M547.71,707.7L549.31,711.3Q547.71,713.3 546.11,711.3Z" fill="#3a87d0"/>
<path d="M547.71,704.3L549.31,707.9Q547.71,709.9 546.11,707.9Z" fill="#ee2a24"/>
<path d="M562.44,707.7L564.04,711.3Q562.44,713.3 560.84,711.3Z" fill="#f7941d"/>
<path d="M562.44,704.3L564.04,707.9Q562.44,709.9 560.84,707.9Z" fill="#3a87d0"/>
<path d="M576.7,704.3L578.3,707.9Q576.7,709.9 575.1,707.9Z" fill="#3a87d0"/>
<path d="M594.77,704.3L596.37,707.9Q594.77,709.9 593.17,707.9Z" fill="#ee2a24"/>
<path d="M609.98,704.3L611.58,707.9Q609.98,709.9 608.38,707.9Z" fill="#3a87d0"/>
<path d="M635.65,707.7L637.25,711.3Q635.65,713.3 634.05,711.3Z" fill="#3a87d0"/>
<path d="M635.65,704.3L637.25,707.9Q635.65,709.9 634.05,707.9Z" fill="#ee2a24"/>
<path d="M538.54,702.66L548.18,701.26L562.44,701.26L576.7,701.26L610.45,700.79L648.48,701.26" fill="none" stroke="#6a6a6a" stroke-width="1.05" stroke-linejoin="round"/>
<path d="M538.54,701.26L548.18,701.26L562.44,701.02L576.7,699.38L610.45,699.85L648.48,699.85" fill="none" stroke="#231f20" stroke-width="1.05" stroke-linejoin="round"/>
<path d="M538.54,702.19L548.18,696.1L562.44,692.35L576.7,700.32L610.45,697.04L648.48,693.29" fill="none" stroke="#b6dbf6" stroke-width="1.05" stroke-linejoin="round"/>
<path d="M538.54,700.32L548.18,694.69L562.44,687.66L576.7,691.88L610.45,686.25L648.48,688.6" fill="none" stroke="#6f7fe0" stroke-width="1.05" stroke-linejoin="round"/>
<path d="M538.54,700.79L548.18,699.85L562.44,664.69L576.7,675.47L610.45,645.94L648.48,631.4" fill="none" stroke="#9a2a2a" stroke-width="1.05" stroke-linejoin="round"/>
<path d="M538.54,701.72L548.18,686.72L562.44,635.62L576.7,671.72L610.45,639.37L648.48,636.56" fill="none" stroke="#fca311" stroke-width="1.05" stroke-linejoin="round"/>
<path d="M538.54,701.72L548.18,701.02L562.44,696.1L576.7,696.57L610.45,689.54L648.48,684.85" fill="none" stroke="#ea6a2a" stroke-width="1.05" stroke-linejoin="round"/>
<path d="M538.54,701.26L548.18,682.04L562.44,635.62L576.7,678.75L610.45,636.56L648.48,625.31" fill="none" stroke="#a95ddc" stroke-width="1.05" stroke-linejoin="round"/>
<path d="M562.44,687.66V683.91M560.04,683.91H564.84" stroke="#2a2a2a" stroke-width="0.9" fill="none"/>
<path d="M538.54,700.79V696.57M536.14,696.57H540.94" stroke="#2a2a2a" stroke-width="0.9" fill="none"/>
<path d="M562.44,664.69V657.66M560.04,657.66H564.84" stroke="#2a2a2a" stroke-width="0.9" fill="none"/>
<path d="M548.18,682.04V676.41M545.78,676.41H550.58" stroke="#2a2a2a" stroke-width="0.9" fill="none"/>
<path d="M562.44,635.62V625.31M560.04,625.31H564.84" stroke="#2a2a2a" stroke-width="0.9" fill="none"/>
<path d="M610.45,636.56V633.28M608.05,633.28H612.85" stroke="#2a2a2a" stroke-width="0.9" fill="none"/>
<path d="M648.48,625.31V618.28M646.08,618.28H650.88" stroke="#2a2a2a" stroke-width="0.9" fill="none"/>
<path d="M538.54,700.13L541.07,702.66L538.54,705.2L536,702.66Z" fill="#b0b0b0" stroke="#151515" stroke-width="0.85"/>
<path d="M548.18,698.72L550.72,701.26L548.18,703.79L545.65,701.26Z" fill="#b0b0b0" stroke="#151515" stroke-width="0.85"/>
<path d="M562.44,698.72L564.98,701.26L562.44,703.79L559.91,701.26Z" fill="#b0b0b0" stroke="#151515" stroke-width="0.85"/>
<path d="M576.7,698.72L579.24,701.26L576.7,703.79L574.17,701.26Z" fill="#b0b0b0" stroke="#151515" stroke-width="0.85"/>
<path d="M610.45,698.25L612.99,700.79L610.45,703.32L607.92,700.79Z" fill="#b0b0b0" stroke="#151515" stroke-width="0.85"/>
<path d="M648.48,698.72L651.02,701.26L648.48,703.79L645.94,701.26Z" fill="#b0b0b0" stroke="#151515" stroke-width="0.85"/>
<path d="M538.54,703.73L541.01,699.28L536.06,699.28Z" fill="#ffffff" stroke="#151515" stroke-width="0.85"/>
<path d="M548.18,703.73L550.66,699.28L545.71,699.28Z" fill="#ffffff" stroke="#151515" stroke-width="0.85"/>
<path d="M562.44,703.49L564.92,699.04L559.97,699.04Z" fill="#ffffff" stroke="#151515" stroke-width="0.85"/>
<path d="M576.7,701.85L579.18,697.4L574.23,697.4Z" fill="#ffffff" stroke="#151515" stroke-width="0.85"/>
<path d="M610.45,702.32L612.93,697.87L607.98,697.87Z" fill="#ffffff" stroke="#151515" stroke-width="0.85"/>
<path d="M648.48,702.32L650.95,697.87L646.01,697.87Z" fill="#ffffff" stroke="#151515" stroke-width="0.85"/>
<polygon points="540.58,703.27 538.54,704.34 536.49,703.27 536.49,701.12 538.54,700.04 540.58,701.12" fill="#b4daf6" stroke="#151515" stroke-width="0.85"/>
<polygon points="550.23,697.17 548.18,698.25 546.14,697.17 546.14,695.02 548.18,693.95 550.23,695.02" fill="#b4daf6" stroke="#151515" stroke-width="0.85"/>
<polygon points="564.49,693.42 562.44,694.5 560.4,693.42 560.4,691.27 562.44,690.2 564.49,691.27" fill="#b4daf6" stroke="#151515" stroke-width="0.85"/>
<polygon points="578.75,701.39 576.7,702.47 574.66,701.39 574.66,699.24 576.7,698.17 578.75,699.24" fill="#b4daf6" stroke="#151515" stroke-width="0.85"/>
<polygon points="612.5,698.11 610.45,699.19 608.41,698.11 608.41,695.96 610.45,694.89 612.5,695.96" fill="#b4daf6" stroke="#151515" stroke-width="0.85"/>
<polygon points="650.53,694.36 648.48,695.44 646.43,694.36 646.43,692.21 648.48,691.14 650.53,692.21" fill="#b4daf6" stroke="#151515" stroke-width="0.85"/>
<path d="M538.54,702.79L541.01,698.34L536.06,698.34Z" fill="#6f7fe0" stroke="#151515" stroke-width="0.85"/>
<path d="M548.18,697.17L550.66,692.71L545.71,692.71Z" fill="#6f7fe0" stroke="#151515" stroke-width="0.85"/>
<path d="M562.44,690.13L564.92,685.68L559.97,685.68Z" fill="#6f7fe0" stroke="#151515" stroke-width="0.85"/>
<path d="M576.7,694.35L579.18,689.9L574.23,689.9Z" fill="#6f7fe0" stroke="#151515" stroke-width="0.85"/>
<path d="M610.45,688.73L612.93,684.28L607.98,684.28Z" fill="#6f7fe0" stroke="#151515" stroke-width="0.85"/>
<path d="M648.48,691.07L650.95,686.62L646.01,686.62Z" fill="#6f7fe0" stroke="#151515" stroke-width="0.85"/>
<path d="M538.54,698.31L541.01,702.77L536.06,702.77Z" fill="#8b1010" stroke="#151515" stroke-width="0.85"/>
<path d="M548.18,697.38L550.66,701.83L545.71,701.83Z" fill="#8b1010" stroke="#151515" stroke-width="0.85"/>
<path d="M562.44,662.22L564.92,666.67L559.97,666.67Z" fill="#8b1010" stroke="#151515" stroke-width="0.85"/>
<path d="M576.7,673L579.18,677.45L574.23,677.45Z" fill="#8b1010" stroke="#151515" stroke-width="0.85"/>
<path d="M610.45,643.47L612.93,647.92L607.98,647.92Z" fill="#8b1010" stroke="#151515" stroke-width="0.85"/>
<path d="M648.48,628.93L650.95,633.38L646.01,633.38Z" fill="#8b1010" stroke="#151515" stroke-width="0.85"/>
<circle cx="538.54" cy="701.72" r="2.15" fill="#ffa40a" stroke="#151515" stroke-width="0.85"/>
<circle cx="548.18" cy="686.72" r="2.15" fill="#ffa40a" stroke="#151515" stroke-width="0.85"/>
<circle cx="562.44" cy="635.62" r="2.15" fill="#ffa40a" stroke="#151515" stroke-width="0.85"/>
<circle cx="576.7" cy="671.72" r="2.15" fill="#ffa40a" stroke="#151515" stroke-width="0.85"/>
<circle cx="610.45" cy="639.37" r="2.15" fill="#ffa40a" stroke="#151515" stroke-width="0.85"/>
<circle cx="648.48" cy="636.56" r="2.15" fill="#ffa40a" stroke="#151515" stroke-width="0.85"/>
<rect x="536.39" y="699.57" width="4.3" height="4.3" fill="#e8540f" stroke="#151515" stroke-width="0.85"/>
<rect x="546.03" y="698.87" width="4.3" height="4.3" fill="#e8540f" stroke="#151515" stroke-width="0.85"/>
<rect x="560.29" y="693.95" width="4.3" height="4.3" fill="#e8540f" stroke="#151515" stroke-width="0.85"/>
<rect x="574.55" y="694.42" width="4.3" height="4.3" fill="#e8540f" stroke="#151515" stroke-width="0.85"/>
<rect x="608.3" y="687.39" width="4.3" height="4.3" fill="#e8540f" stroke="#151515" stroke-width="0.85"/>
<rect x="646.33" y="682.7" width="4.3" height="4.3" fill="#e8540f" stroke="#151515" stroke-width="0.85"/>
<path d="M538.54,698.72L541.07,701.26L538.54,703.79L536,701.26Z" fill="#a04fd8" stroke="#151515" stroke-width="0.85"/>
<path d="M548.18,679.5L550.72,682.04L548.18,684.57L545.65,682.04Z" fill="#a04fd8" stroke="#151515" stroke-width="0.85"/>
<path d="M562.44,633.09L564.98,635.62L562.44,638.16L559.91,635.62Z" fill="#a04fd8" stroke="#151515" stroke-width="0.85"/>
<path d="M576.7,676.22L579.24,678.75L576.7,681.29L574.17,678.75Z" fill="#a04fd8" stroke="#151515" stroke-width="0.85"/>
<path d="M610.45,634.02L612.99,636.56L610.45,639.1L607.92,636.56Z" fill="#a04fd8" stroke="#151515" stroke-width="0.85"/>
<path d="M648.48,622.77L651.02,625.31L648.48,627.85L645.94,625.31Z" fill="#a04fd8" stroke="#151515" stroke-width="0.85"/>
</svg></body></html>
